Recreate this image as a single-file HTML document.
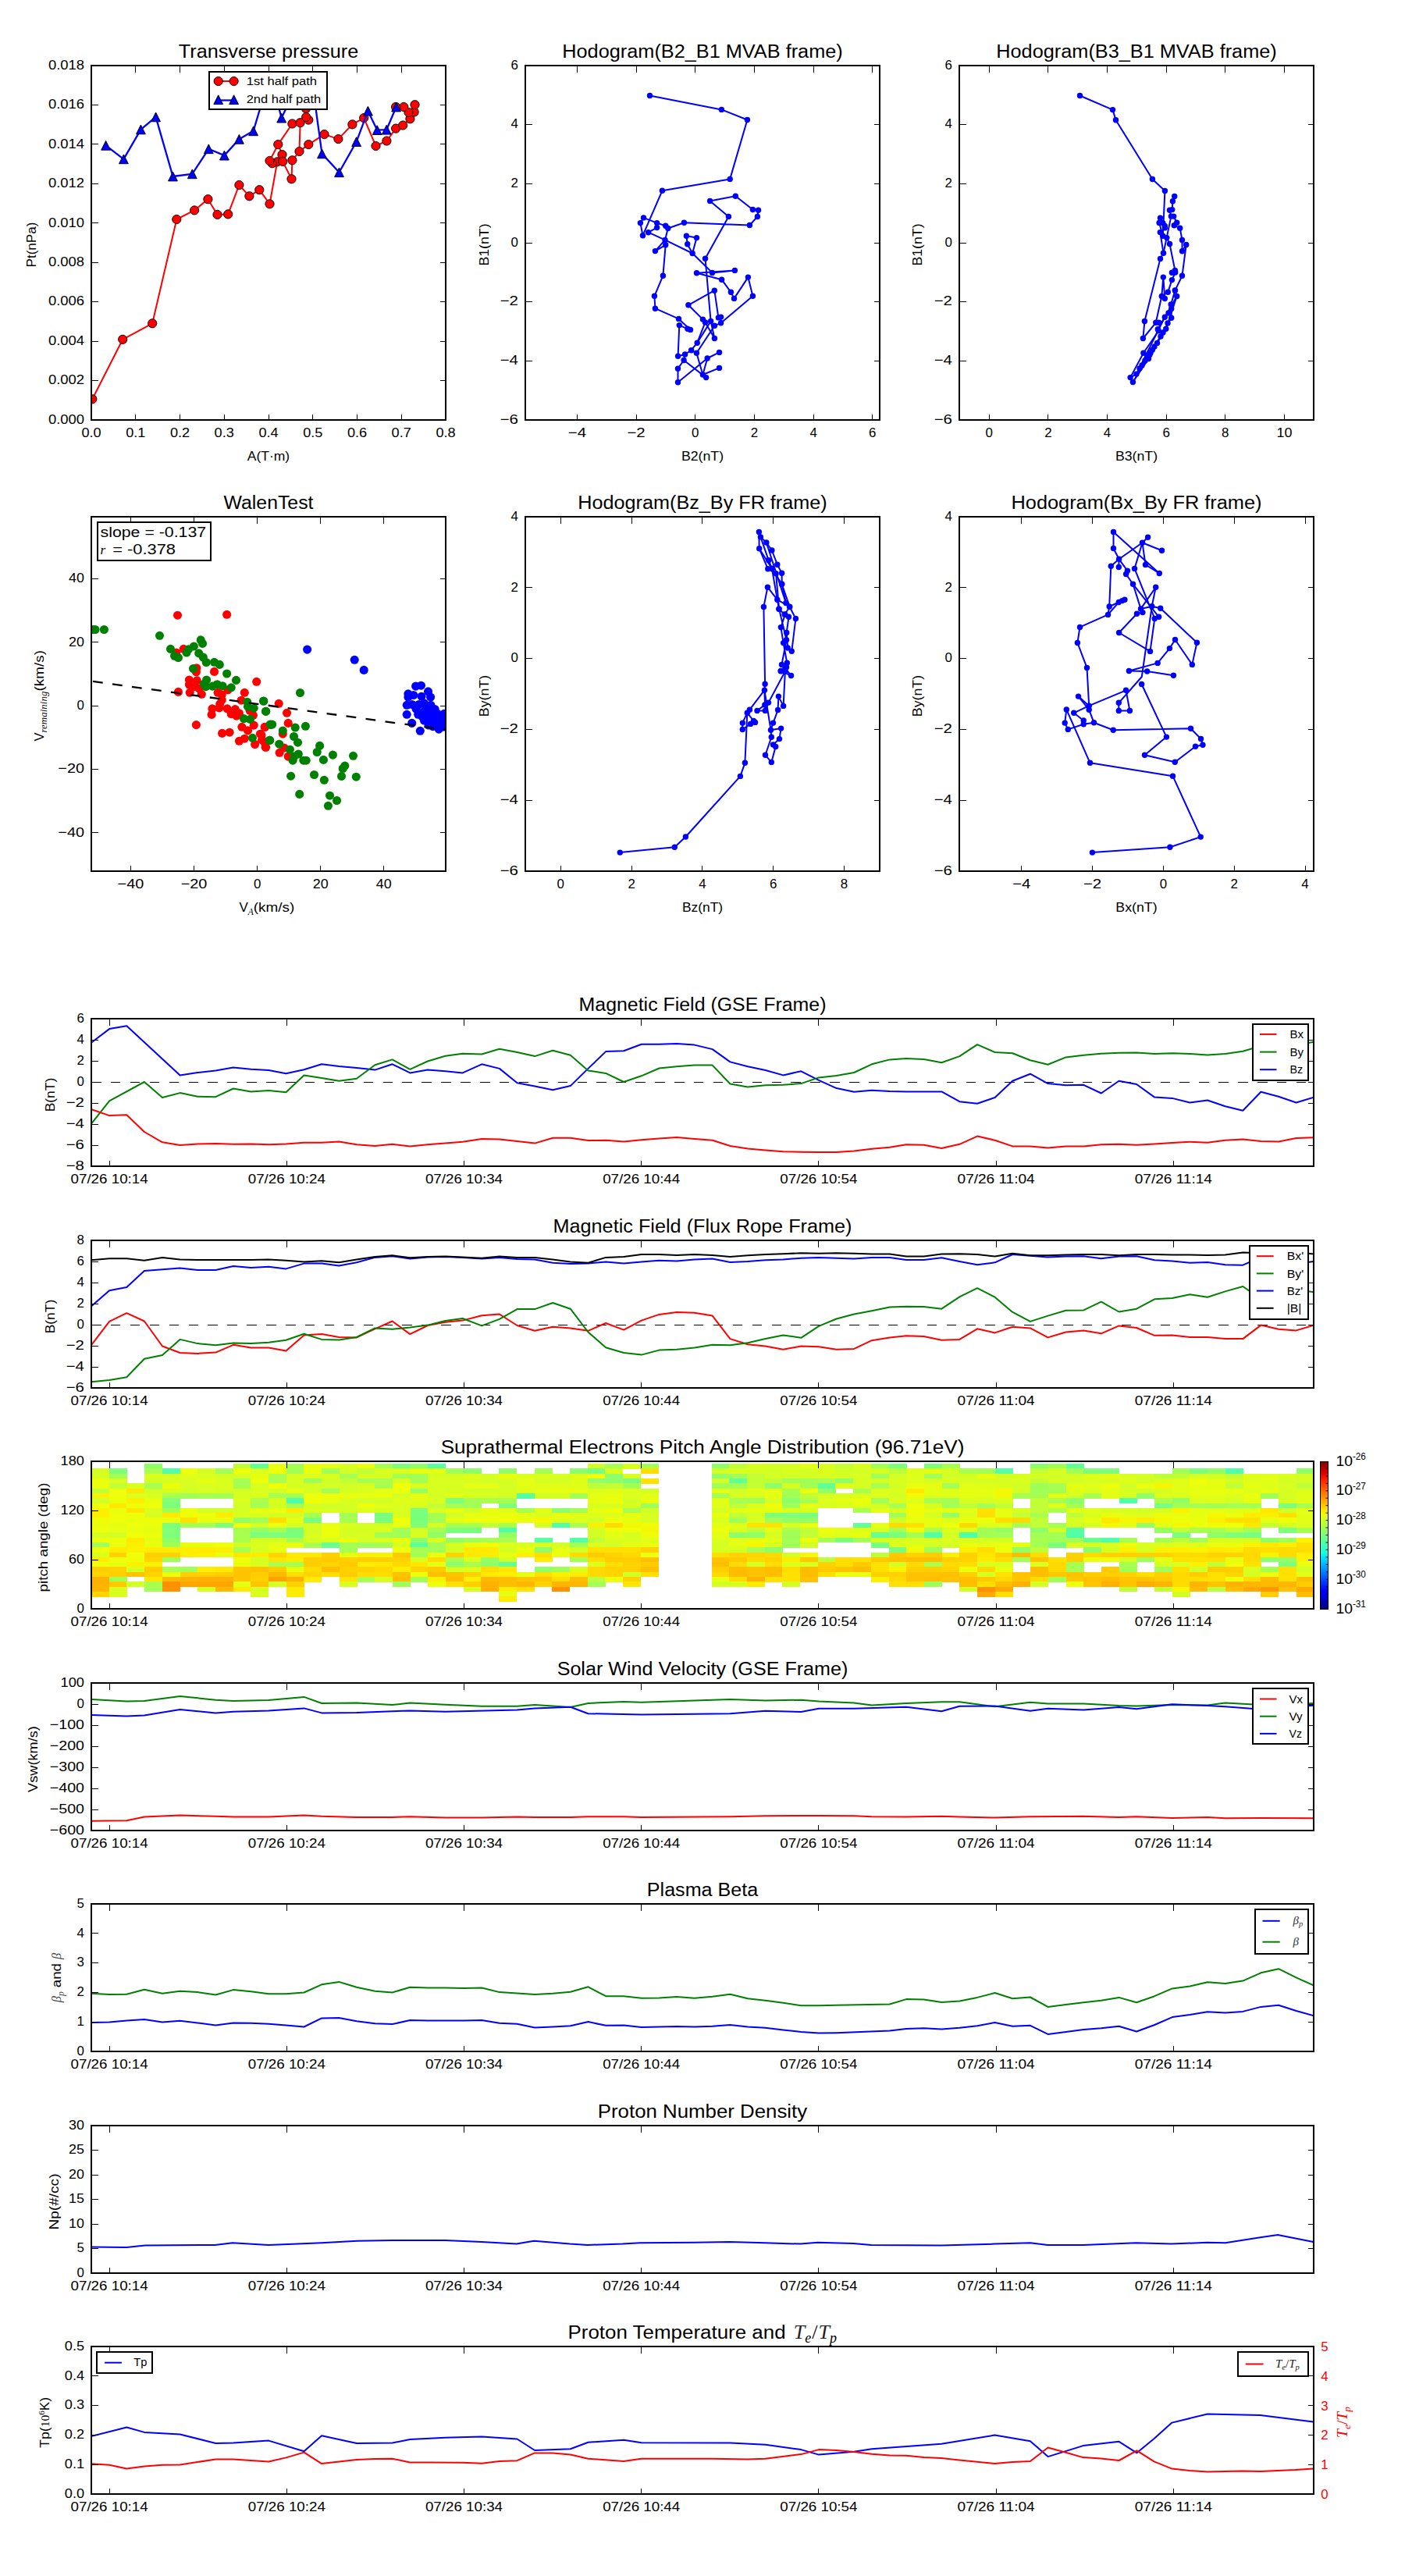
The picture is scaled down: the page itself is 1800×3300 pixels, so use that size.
<!DOCTYPE html>
<html><head><meta charset="utf-8"><title>Flux rope plots</title><style>html,body{margin:0;padding:0;background:#fff}body{width:1800px;height:3300px;overflow:hidden;font-family:"Liberation Sans",sans-serif}svg{display:block}</style></head><body>
<svg width="1800" height="3300" viewBox="0 0 1800 3300" font-family="Liberation Sans, sans-serif" font-size="16"><clipPath id="c1"><rect x="117.0" y="84.0" width="454.0" height="454.0"/></clipPath><g clip-path="url(#c1)">
<polyline points="118.3,511.3 157.2,434.8 195.2,414.3 226.3,281.0 249.1,269.4 266.4,255.2 278.5,274.9 292.2,274.4 306.4,237.0 319.4,251.3 332.3,243.2 345.5,261.3 355.2,207.3 348.7,209.2 345.5,206.0 356.3,185.1 361.5,198.1 362.2,206.9 373.5,229.3 374.4,205.3 383.5,194.0 395.3,185.1 415.5,172.1 433.4,178.1 451.4,159.4 466.2,151.1 481.5,187.0 495.4,180.5 507.1,164.6 516.2,160.5 525.4,152.3 530.6,143.5 531.5,134.2 523.5,144.0 517.3,137.0 507.1,137.0" fill="none" stroke="#ff0000" stroke-width="2.00" stroke-linejoin="round" />
<polyline points="356.3,185.1 374.4,158.5 384.6,157.2 383.5,194.0" fill="none" stroke="#ff0000" stroke-width="2.00" stroke-linejoin="round" />
<polyline points="384.6,157.2 395.3,153.6 392.2,150.0 392.0,139.0 392.0,120.0" fill="none" stroke="#ff0000" stroke-width="2.00" stroke-linejoin="round" />
<circle cx="118.3" cy="511.3" r="5.60" fill="#ff0000" stroke="#000" stroke-width="0.95"/>
<circle cx="157.2" cy="434.8" r="5.60" fill="#ff0000" stroke="#000" stroke-width="0.95"/>
<circle cx="195.2" cy="414.3" r="5.60" fill="#ff0000" stroke="#000" stroke-width="0.95"/>
<circle cx="226.3" cy="281.0" r="5.60" fill="#ff0000" stroke="#000" stroke-width="0.95"/>
<circle cx="249.1" cy="269.4" r="5.60" fill="#ff0000" stroke="#000" stroke-width="0.95"/>
<circle cx="266.4" cy="255.2" r="5.60" fill="#ff0000" stroke="#000" stroke-width="0.95"/>
<circle cx="278.5" cy="274.9" r="5.60" fill="#ff0000" stroke="#000" stroke-width="0.95"/>
<circle cx="292.2" cy="274.4" r="5.60" fill="#ff0000" stroke="#000" stroke-width="0.95"/>
<circle cx="306.4" cy="237.0" r="5.60" fill="#ff0000" stroke="#000" stroke-width="0.95"/>
<circle cx="319.4" cy="251.3" r="5.60" fill="#ff0000" stroke="#000" stroke-width="0.95"/>
<circle cx="332.3" cy="243.2" r="5.60" fill="#ff0000" stroke="#000" stroke-width="0.95"/>
<circle cx="345.5" cy="261.3" r="5.60" fill="#ff0000" stroke="#000" stroke-width="0.95"/>
<circle cx="355.2" cy="207.3" r="5.60" fill="#ff0000" stroke="#000" stroke-width="0.95"/>
<circle cx="348.7" cy="209.2" r="5.60" fill="#ff0000" stroke="#000" stroke-width="0.95"/>
<circle cx="345.5" cy="206.0" r="5.60" fill="#ff0000" stroke="#000" stroke-width="0.95"/>
<circle cx="356.3" cy="185.1" r="5.60" fill="#ff0000" stroke="#000" stroke-width="0.95"/>
<circle cx="361.5" cy="198.1" r="5.60" fill="#ff0000" stroke="#000" stroke-width="0.95"/>
<circle cx="362.2" cy="206.9" r="5.60" fill="#ff0000" stroke="#000" stroke-width="0.95"/>
<circle cx="373.5" cy="229.3" r="5.60" fill="#ff0000" stroke="#000" stroke-width="0.95"/>
<circle cx="374.4" cy="205.3" r="5.60" fill="#ff0000" stroke="#000" stroke-width="0.95"/>
<circle cx="383.5" cy="194.0" r="5.60" fill="#ff0000" stroke="#000" stroke-width="0.95"/>
<circle cx="395.3" cy="185.1" r="5.60" fill="#ff0000" stroke="#000" stroke-width="0.95"/>
<circle cx="415.5" cy="172.1" r="5.60" fill="#ff0000" stroke="#000" stroke-width="0.95"/>
<circle cx="433.4" cy="178.1" r="5.60" fill="#ff0000" stroke="#000" stroke-width="0.95"/>
<circle cx="451.4" cy="159.4" r="5.60" fill="#ff0000" stroke="#000" stroke-width="0.95"/>
<circle cx="466.2" cy="151.1" r="5.60" fill="#ff0000" stroke="#000" stroke-width="0.95"/>
<circle cx="481.5" cy="187.0" r="5.60" fill="#ff0000" stroke="#000" stroke-width="0.95"/>
<circle cx="495.4" cy="180.5" r="5.60" fill="#ff0000" stroke="#000" stroke-width="0.95"/>
<circle cx="507.1" cy="164.6" r="5.60" fill="#ff0000" stroke="#000" stroke-width="0.95"/>
<circle cx="516.2" cy="160.5" r="5.60" fill="#ff0000" stroke="#000" stroke-width="0.95"/>
<circle cx="525.4" cy="152.3" r="5.60" fill="#ff0000" stroke="#000" stroke-width="0.95"/>
<circle cx="530.6" cy="143.5" r="5.60" fill="#ff0000" stroke="#000" stroke-width="0.95"/>
<circle cx="531.5" cy="134.2" r="5.60" fill="#ff0000" stroke="#000" stroke-width="0.95"/>
<circle cx="523.5" cy="144.0" r="5.60" fill="#ff0000" stroke="#000" stroke-width="0.95"/>
<circle cx="517.3" cy="137.0" r="5.60" fill="#ff0000" stroke="#000" stroke-width="0.95"/>
<circle cx="507.1" cy="137.0" r="5.60" fill="#ff0000" stroke="#000" stroke-width="0.95"/>
<circle cx="374.4" cy="158.5" r="5.60" fill="#ff0000" stroke="#000" stroke-width="0.95"/>
<circle cx="384.6" cy="157.2" r="5.60" fill="#ff0000" stroke="#000" stroke-width="0.95"/>
<circle cx="395.3" cy="153.6" r="5.60" fill="#ff0000" stroke="#000" stroke-width="0.95"/>
<circle cx="392.2" cy="150.0" r="5.60" fill="#ff0000" stroke="#000" stroke-width="0.95"/>
<circle cx="392.0" cy="139.0" r="5.60" fill="#ff0000" stroke="#000" stroke-width="0.95"/>
<polyline points="135.6,186.3 158.4,203.8 180.4,165.9 199.6,149.9 221.5,226.0 246.3,222.8 267.3,190.8 287.4,199.1 306.4,178.3 324.6,167.8 333.5,138.0 345.0,120.0 352.0,118.0 360.7,151.1 370.0,132.0 390.0,110.0 403.0,128.0 412.5,196.9 434.5,220.8 456.6,181.6 471.4,142.2 483.2,166.6 495.2,166.2 507.6,137.0" fill="none" stroke="#0000ff" stroke-width="2.30" stroke-linejoin="round" />
<path d="M135.6 180.4L141.5 192.2L129.7 192.2Z" fill="#0000ff" stroke="#000" stroke-width="0.95"/>
<path d="M158.4 197.9L164.3 209.7L152.5 209.7Z" fill="#0000ff" stroke="#000" stroke-width="0.95"/>
<path d="M180.4 160.0L186.3 171.8L174.5 171.8Z" fill="#0000ff" stroke="#000" stroke-width="0.95"/>
<path d="M199.6 144.0L205.5 155.8L193.7 155.8Z" fill="#0000ff" stroke="#000" stroke-width="0.95"/>
<path d="M221.5 220.1L227.4 231.9L215.6 231.9Z" fill="#0000ff" stroke="#000" stroke-width="0.95"/>
<path d="M246.3 216.9L252.2 228.7L240.4 228.7Z" fill="#0000ff" stroke="#000" stroke-width="0.95"/>
<path d="M267.3 184.9L273.2 196.7L261.4 196.7Z" fill="#0000ff" stroke="#000" stroke-width="0.95"/>
<path d="M287.4 193.2L293.3 205.0L281.5 205.0Z" fill="#0000ff" stroke="#000" stroke-width="0.95"/>
<path d="M306.4 172.4L312.3 184.2L300.5 184.2Z" fill="#0000ff" stroke="#000" stroke-width="0.95"/>
<path d="M324.6 161.9L330.5 173.7L318.7 173.7Z" fill="#0000ff" stroke="#000" stroke-width="0.95"/>
<path d="M360.7 145.2L366.6 157.0L354.8 157.0Z" fill="#0000ff" stroke="#000" stroke-width="0.95"/>
<path d="M412.5 191.0L418.4 202.8L406.6 202.8Z" fill="#0000ff" stroke="#000" stroke-width="0.95"/>
<path d="M434.5 214.9L440.4 226.7L428.6 226.7Z" fill="#0000ff" stroke="#000" stroke-width="0.95"/>
<path d="M456.6 175.7L462.5 187.5L450.7 187.5Z" fill="#0000ff" stroke="#000" stroke-width="0.95"/>
<path d="M471.4 136.3L477.3 148.1L465.5 148.1Z" fill="#0000ff" stroke="#000" stroke-width="0.95"/>
<path d="M483.2 160.7L489.1 172.5L477.3 172.5Z" fill="#0000ff" stroke="#000" stroke-width="0.95"/>
<path d="M495.2 160.3L501.1 172.1L489.3 172.1Z" fill="#0000ff" stroke="#000" stroke-width="0.95"/>
<path d="M507.6 131.1L513.5 142.9L501.7 142.9Z" fill="#0000ff" stroke="#000" stroke-width="0.95"/>
</g>
<path d="M173.5 538.0v-7.4M173.5 84.0v8.5M230.5 538.0v-7.4M230.5 84.0v8.5M287.5 538.0v-7.4M287.5 84.0v8.5M344.5 538.0v-7.4M344.5 84.0v8.5M400.5 538.0v-7.4M400.5 84.0v8.5M457.5 538.0v-7.4M457.5 84.0v8.5M514.5 538.0v-7.4M514.5 84.0v8.5M117.0 487.5h8.5M117.0 437.5h8.5M117.0 386.5h8.5M117.0 336.5h8.5M117.0 285.5h8.5M117.0 235.5h8.5M117.0 184.5h8.5M117.0 134.5h8.5M571.0 487.5h-7.4M571.0 437.5h-7.4M571.0 386.5h-7.4M571.0 336.5h-7.4M571.0 285.5h-7.4M571.0 235.5h-7.4M571.0 184.5h-7.4M571.0 134.5h-7.4" stroke="#000" stroke-width="1" fill="none" shape-rendering="crispEdges"/>
<rect x="117.0" y="84.0" width="454.0" height="454.0" fill="none" stroke="#000" stroke-width="2.00"/>
<text x="117.0" y="560.3" font-size="16.86" text-anchor="middle" fill="#000" textLength="25.2" lengthAdjust="spacingAndGlyphs" >0.0</text>
<text x="173.8" y="560.3" font-size="16.86" text-anchor="middle" fill="#000" textLength="25.2" lengthAdjust="spacingAndGlyphs" >0.1</text>
<text x="230.5" y="560.3" font-size="16.86" text-anchor="middle" fill="#000" textLength="25.2" lengthAdjust="spacingAndGlyphs" >0.2</text>
<text x="287.2" y="560.3" font-size="16.86" text-anchor="middle" fill="#000" textLength="25.2" lengthAdjust="spacingAndGlyphs" >0.3</text>
<text x="344.0" y="560.3" font-size="16.86" text-anchor="middle" fill="#000" textLength="25.2" lengthAdjust="spacingAndGlyphs" >0.4</text>
<text x="400.8" y="560.3" font-size="16.86" text-anchor="middle" fill="#000" textLength="25.2" lengthAdjust="spacingAndGlyphs" >0.5</text>
<text x="457.5" y="560.3" font-size="16.86" text-anchor="middle" fill="#000" textLength="25.2" lengthAdjust="spacingAndGlyphs" >0.6</text>
<text x="514.2" y="560.3" font-size="16.86" text-anchor="middle" fill="#000" textLength="25.2" lengthAdjust="spacingAndGlyphs" >0.7</text>
<text x="571.0" y="560.3" font-size="16.86" text-anchor="middle" fill="#000" textLength="25.2" lengthAdjust="spacingAndGlyphs" >0.8</text>
<text x="108.0" y="542.7" font-size="16.86" text-anchor="end" fill="#000" textLength="46.1" lengthAdjust="spacingAndGlyphs" >0.000</text>
<text x="108.0" y="492.3" font-size="16.86" text-anchor="end" fill="#000" textLength="46.1" lengthAdjust="spacingAndGlyphs" >0.002</text>
<text x="108.0" y="441.8" font-size="16.86" text-anchor="end" fill="#000" textLength="46.1" lengthAdjust="spacingAndGlyphs" >0.004</text>
<text x="108.0" y="391.4" font-size="16.86" text-anchor="end" fill="#000" textLength="46.1" lengthAdjust="spacingAndGlyphs" >0.006</text>
<text x="108.0" y="340.9" font-size="16.86" text-anchor="end" fill="#000" textLength="46.1" lengthAdjust="spacingAndGlyphs" >0.008</text>
<text x="108.0" y="290.5" font-size="16.86" text-anchor="end" fill="#000" textLength="46.1" lengthAdjust="spacingAndGlyphs" >0.010</text>
<text x="108.0" y="240.0" font-size="16.86" text-anchor="end" fill="#000" textLength="46.1" lengthAdjust="spacingAndGlyphs" >0.012</text>
<text x="108.0" y="189.6" font-size="16.86" text-anchor="end" fill="#000" textLength="46.1" lengthAdjust="spacingAndGlyphs" >0.014</text>
<text x="108.0" y="139.1" font-size="16.86" text-anchor="end" fill="#000" textLength="46.1" lengthAdjust="spacingAndGlyphs" >0.016</text>
<text x="108.0" y="88.7" font-size="16.86" text-anchor="end" fill="#000" textLength="46.1" lengthAdjust="spacingAndGlyphs" >0.018</text>
<text x="344.0" y="73.7" font-size="23.68" text-anchor="middle" fill="#000" textLength="230.4" lengthAdjust="spacingAndGlyphs" >Transverse pressure</text>
<text x="344.0" y="590.3" font-size="16.86" text-anchor="middle" fill="#000" textLength="54.4" lengthAdjust="spacingAndGlyphs" >A(T·m)</text>
<text x="46.3" y="313.5" font-size="16.86" text-anchor="middle" fill="#000" textLength="57.9" lengthAdjust="spacingAndGlyphs" transform="rotate(-90 46.3 313.5)" >Pt(nPa)</text>
<rect x="268.0" y="92.0" width="151.0" height="48.0" fill="#fff" stroke="#000" stroke-width="2.00"/>
<polyline points="279.7,104.0 299.6,104.0" fill="none" stroke="#ff0000" stroke-width="2.00" stroke-linejoin="round" />
<circle cx="279.7" cy="104.0" r="5.60" fill="#ff0000" stroke="#000" stroke-width="0.95"/>
<circle cx="299.6" cy="104.0" r="5.60" fill="#ff0000" stroke="#000" stroke-width="0.95"/>
<polyline points="279.7,128.5 299.6,128.5" fill="none" stroke="#0000ff" stroke-width="2.30" stroke-linejoin="round" />
<path d="M279.7 121.8L285.6 133.6L273.8 133.6Z" fill="#0000ff" stroke="#000" stroke-width="0.95"/>
<path d="M299.6 121.8L305.5 133.6L293.7 133.6Z" fill="#0000ff" stroke="#000" stroke-width="0.95"/>
<text x="315.7" y="109.0" font-size="14.76" text-anchor="start" fill="#000" textLength="90.4" lengthAdjust="spacingAndGlyphs" >1st half path</text>
<text x="315.7" y="131.7" font-size="14.76" text-anchor="start" fill="#000" textLength="95.5" lengthAdjust="spacingAndGlyphs" >2nd half path</text>
<clipPath id="c2"><rect x="673.0" y="84.0" width="454.0" height="454.0"/></clipPath><g clip-path="url(#c2)">
<polyline points="832.5,122.5 924.4,140.4 957.4,153.5 935.2,229.4 848.4,244.3 823.5,301.7 820.4,285.6 824.5,278.9 841.6,285.6 852.7,289.2 855.8,292.5 876.4,285.3 960.4,288.5 970.4,277.5 971.5,269.3 964.4,268.5 942.3,251.2 909.6,257.4 933.4,277.4 903.5,331.2 910.6,411.4" fill="none" stroke="#0000ff" stroke-width="2.00" stroke-linejoin="round" />
<polyline points="841.6,285.6 841.6,291.6 830.6,297.7 852.0,307.4 887.1,324.5 912.5,349.4 941.4,346.4 892.5,349.7 924.6,358.2 936.4,374.3 940.5,382.4 958.4,355.1 964.4,379.3 923.6,413.7 923.6,406.1 920.4,406.9 915.3,372.2 881.9,390.8 900.4,409.1 903.5,412.9 915.4,433.5 910.6,411.4" fill="none" stroke="#0000ff" stroke-width="2.00" stroke-linejoin="round" />
<polyline points="855.8,292.5 852.0,307.4 839.4,321.6 852.7,313.8 849.4,353.2 838.4,379.3 839.4,395.2 869.5,408.4 884.5,422.4 880.9,421.3 870.3,416.6 868.6,456.3 877.6,454.0 885.6,448.7 893.2,439.2 903.5,412.9" fill="none" stroke="#0000ff" stroke-width="2.00" stroke-linejoin="round" />
<polyline points="892.5,304.6 879.4,302.3 880.7,312.7 887.1,324.5 892.5,304.6" fill="none" stroke="#0000ff" stroke-width="2.00" stroke-linejoin="round" />
<polyline points="893.2,439.2 910.6,411.4" fill="none" stroke="#0000ff" stroke-width="2.00" stroke-linejoin="round" />
<polyline points="892.4,452.3 915.4,417.3 923.6,413.7" fill="none" stroke="#0000ff" stroke-width="2.00" stroke-linejoin="round" />
<polyline points="885.6,448.7 892.4,452.3 900.4,480.0 921.5,471.4" fill="none" stroke="#0000ff" stroke-width="2.00" stroke-linejoin="round" />
<polyline points="900.4,480.0 906.2,459.0 921.5,451.4" fill="none" stroke="#0000ff" stroke-width="2.00" stroke-linejoin="round" />
<polyline points="906.2,459.0 868.5,489.7 868.5,472.2 876.1,461.5 904.6,483.6 900.4,480.0" fill="none" stroke="#0000ff" stroke-width="2.00" stroke-linejoin="round" />
<polyline points="876.1,461.5 877.6,454.0" fill="none" stroke="#0000ff" stroke-width="2.00" stroke-linejoin="round" />
<circle cx="820.4" cy="285.6" r="3.70" fill="#0000ff"/>
<circle cx="823.5" cy="301.7" r="3.70" fill="#0000ff"/>
<circle cx="824.5" cy="278.9" r="3.70" fill="#0000ff"/>
<circle cx="830.6" cy="297.7" r="3.70" fill="#0000ff"/>
<circle cx="832.5" cy="122.5" r="3.70" fill="#0000ff"/>
<circle cx="838.4" cy="379.3" r="3.70" fill="#0000ff"/>
<circle cx="839.4" cy="321.6" r="3.70" fill="#0000ff"/>
<circle cx="839.4" cy="395.2" r="3.70" fill="#0000ff"/>
<circle cx="841.6" cy="285.6" r="3.70" fill="#0000ff"/>
<circle cx="841.6" cy="291.6" r="3.70" fill="#0000ff"/>
<circle cx="848.4" cy="244.3" r="3.70" fill="#0000ff"/>
<circle cx="849.4" cy="353.2" r="3.70" fill="#0000ff"/>
<circle cx="852.0" cy="307.4" r="3.70" fill="#0000ff"/>
<circle cx="852.7" cy="289.2" r="3.70" fill="#0000ff"/>
<circle cx="852.7" cy="313.8" r="3.70" fill="#0000ff"/>
<circle cx="855.8" cy="292.5" r="3.70" fill="#0000ff"/>
<circle cx="868.5" cy="472.2" r="3.70" fill="#0000ff"/>
<circle cx="868.5" cy="489.7" r="3.70" fill="#0000ff"/>
<circle cx="868.6" cy="456.3" r="3.70" fill="#0000ff"/>
<circle cx="869.5" cy="408.4" r="3.70" fill="#0000ff"/>
<circle cx="870.3" cy="416.6" r="3.70" fill="#0000ff"/>
<circle cx="876.1" cy="461.5" r="3.70" fill="#0000ff"/>
<circle cx="876.4" cy="285.3" r="3.70" fill="#0000ff"/>
<circle cx="877.6" cy="454.0" r="3.70" fill="#0000ff"/>
<circle cx="879.4" cy="302.3" r="3.70" fill="#0000ff"/>
<circle cx="880.7" cy="312.7" r="3.70" fill="#0000ff"/>
<circle cx="880.9" cy="421.3" r="3.70" fill="#0000ff"/>
<circle cx="881.9" cy="390.8" r="3.70" fill="#0000ff"/>
<circle cx="884.5" cy="422.4" r="3.70" fill="#0000ff"/>
<circle cx="885.6" cy="448.7" r="3.70" fill="#0000ff"/>
<circle cx="887.1" cy="324.5" r="3.70" fill="#0000ff"/>
<circle cx="892.4" cy="452.3" r="3.70" fill="#0000ff"/>
<circle cx="892.5" cy="304.6" r="3.70" fill="#0000ff"/>
<circle cx="892.5" cy="349.7" r="3.70" fill="#0000ff"/>
<circle cx="893.2" cy="439.2" r="3.70" fill="#0000ff"/>
<circle cx="900.4" cy="409.1" r="3.70" fill="#0000ff"/>
<circle cx="900.4" cy="480.0" r="3.70" fill="#0000ff"/>
<circle cx="903.5" cy="331.2" r="3.70" fill="#0000ff"/>
<circle cx="903.5" cy="412.9" r="3.70" fill="#0000ff"/>
<circle cx="904.6" cy="483.6" r="3.70" fill="#0000ff"/>
<circle cx="906.2" cy="459.0" r="3.70" fill="#0000ff"/>
<circle cx="909.6" cy="257.4" r="3.70" fill="#0000ff"/>
<circle cx="910.6" cy="411.4" r="3.70" fill="#0000ff"/>
<circle cx="912.5" cy="349.4" r="3.70" fill="#0000ff"/>
<circle cx="915.3" cy="372.2" r="3.70" fill="#0000ff"/>
<circle cx="915.4" cy="417.3" r="3.70" fill="#0000ff"/>
<circle cx="915.4" cy="433.5" r="3.70" fill="#0000ff"/>
<circle cx="920.4" cy="406.9" r="3.70" fill="#0000ff"/>
<circle cx="921.5" cy="451.4" r="3.70" fill="#0000ff"/>
<circle cx="921.5" cy="471.4" r="3.70" fill="#0000ff"/>
<circle cx="923.6" cy="406.1" r="3.70" fill="#0000ff"/>
<circle cx="923.6" cy="413.7" r="3.70" fill="#0000ff"/>
<circle cx="924.4" cy="140.4" r="3.70" fill="#0000ff"/>
<circle cx="924.6" cy="358.2" r="3.70" fill="#0000ff"/>
<circle cx="933.4" cy="277.4" r="3.70" fill="#0000ff"/>
<circle cx="935.2" cy="229.4" r="3.70" fill="#0000ff"/>
<circle cx="936.4" cy="374.3" r="3.70" fill="#0000ff"/>
<circle cx="940.5" cy="382.4" r="3.70" fill="#0000ff"/>
<circle cx="941.4" cy="346.4" r="3.70" fill="#0000ff"/>
<circle cx="942.3" cy="251.2" r="3.70" fill="#0000ff"/>
<circle cx="957.4" cy="153.5" r="3.70" fill="#0000ff"/>
<circle cx="958.4" cy="355.1" r="3.70" fill="#0000ff"/>
<circle cx="960.4" cy="288.5" r="3.70" fill="#0000ff"/>
<circle cx="964.4" cy="268.5" r="3.70" fill="#0000ff"/>
<circle cx="964.4" cy="379.3" r="3.70" fill="#0000ff"/>
<circle cx="970.4" cy="277.5" r="3.70" fill="#0000ff"/>
<circle cx="971.5" cy="269.3" r="3.70" fill="#0000ff"/>
</g>
<path d="M739.5 538.0v-7.4M739.5 84.0v8.5M815.5 538.0v-7.4M815.5 84.0v8.5M890.5 538.0v-7.4M890.5 84.0v8.5M966.5 538.0v-7.4M966.5 84.0v8.5M1042.5 538.0v-7.4M1042.5 84.0v8.5M1117.5 538.0v-7.4M1117.5 84.0v8.5M673.0 462.5h8.5M673.0 386.5h8.5M673.0 311.5h8.5M673.0 235.5h8.5M673.0 159.5h8.5M1127.0 462.5h-7.4M1127.0 386.5h-7.4M1127.0 311.5h-7.4M1127.0 235.5h-7.4M1127.0 159.5h-7.4" stroke="#000" stroke-width="1" fill="none" shape-rendering="crispEdges"/>
<rect x="673.0" y="84.0" width="454.0" height="454.0" fill="none" stroke="#000" stroke-width="2.00"/>
<text x="739.5" y="560.3" font-size="16.86" text-anchor="middle" fill="#000" textLength="23.3" lengthAdjust="spacingAndGlyphs" >−4</text>
<text x="815.1" y="560.3" font-size="16.86" text-anchor="middle" fill="#000" textLength="23.3" lengthAdjust="spacingAndGlyphs" >−2</text>
<text x="890.8" y="560.3" font-size="16.86" text-anchor="middle" fill="#000" >0</text>
<text x="966.5" y="560.3" font-size="16.86" text-anchor="middle" fill="#000" >2</text>
<text x="1042.1" y="560.3" font-size="16.86" text-anchor="middle" fill="#000" >4</text>
<text x="1117.8" y="560.3" font-size="16.86" text-anchor="middle" fill="#000" >6</text>
<text x="664.0" y="542.7" font-size="16.86" text-anchor="end" fill="#000" textLength="23.3" lengthAdjust="spacingAndGlyphs" >−6</text>
<text x="664.0" y="467.0" font-size="16.86" text-anchor="end" fill="#000" textLength="23.3" lengthAdjust="spacingAndGlyphs" >−4</text>
<text x="664.0" y="391.4" font-size="16.86" text-anchor="end" fill="#000" textLength="23.3" lengthAdjust="spacingAndGlyphs" >−2</text>
<text x="664.0" y="315.7" font-size="16.86" text-anchor="end" fill="#000" >0</text>
<text x="664.0" y="240.0" font-size="16.86" text-anchor="end" fill="#000" >2</text>
<text x="664.0" y="164.4" font-size="16.86" text-anchor="end" fill="#000" >4</text>
<text x="664.0" y="88.7" font-size="16.86" text-anchor="end" fill="#000" >6</text>
<text x="900.0" y="73.7" font-size="23.68" text-anchor="middle" fill="#000" textLength="359.5" lengthAdjust="spacingAndGlyphs" >Hodogram(B2_B1 MVAB frame)</text>
<text x="900.0" y="590.3" font-size="16.86" text-anchor="middle" fill="#000" textLength="54.1" lengthAdjust="spacingAndGlyphs" >B2(nT)</text>
<text x="625.6" y="313.5" font-size="16.86" text-anchor="middle" fill="#000" textLength="54.1" lengthAdjust="spacingAndGlyphs" transform="rotate(-90 625.6 313.5)" >B1(nT)</text>
<clipPath id="c3"><rect x="1229.0" y="84.0" width="454.0" height="454.0"/></clipPath><g clip-path="url(#c3)">
<polyline points="1383.5,122.5 1425.5,140.6 1429.5,153.7 1476.4,229.5 1492.4,244.5 1489.8,302.3 1485.1,285.4 1486.5,279.2 1489.8,285.6 1492.3,289.4 1492.3,291.9 1486.3,297.6 1494.8,304.6 1498.5,312.5 1505.4,346.5 1501.4,349.3 1505.7,349.1 1501.4,358.6 1496.3,374.3 1488.3,379.5 1480.8,413.3 1464.4,433.5 1466.4,411.5 1486.5,331.4 1490.5,324.2 1500.4,277.1" fill="none" stroke="#0000ff" stroke-width="2.00" stroke-linejoin="round" />
<polyline points="1504.7,251.5 1502.4,257.7 1501.7,268.6 1498.5,269.2 1500.4,277.1 1503.7,277.1 1507.7,285.2 1504.2,288.7 1511.7,292.3 1514.5,307.5 1514.5,321.7 1519.7,313.5 1514.5,353.3 1505.4,372.1 1507.7,379.5 1493.8,421.3 1482.5,439.4 1476.3,448.2 1472.8,454.7 1455.9,479.1 1448.1,483.6 1451.4,489.5" fill="none" stroke="#0000ff" stroke-width="2.00" stroke-linejoin="round" />
<polyline points="1486.3,297.6 1490.5,324.2" fill="none" stroke="#0000ff" stroke-width="2.00" stroke-linejoin="round" />
<polyline points="1490.3,355.1 1488.3,379.5 1492.3,382.5 1490.3,355.1" fill="none" stroke="#0000ff" stroke-width="2.00" stroke-linejoin="round" />
<polyline points="1484.6,413.3 1480.8,413.3" fill="none" stroke="#0000ff" stroke-width="2.00" stroke-linejoin="round" />
<polyline points="1464.9,452.2 1484.3,423.8 1483.3,421.8 1492.3,406.3 1500.7,395.4 1500.2,389.9 1505.4,372.0" fill="none" stroke="#0000ff" stroke-width="2.00" stroke-linejoin="round" />
<polyline points="1448.1,483.6 1464.9,452.2 1471.4,459.6 1451.4,489.5 1476.3,448.2 1500.7,407.3 1500.7,395.4" fill="none" stroke="#0000ff" stroke-width="2.00" stroke-linejoin="round" />
<polyline points="1455.9,479.1 1492.3,406.3 1507.7,379.5" fill="none" stroke="#0000ff" stroke-width="2.00" stroke-linejoin="round" />
<circle cx="1383.5" cy="122.5" r="3.70" fill="#0000ff"/>
<circle cx="1425.5" cy="140.6" r="3.70" fill="#0000ff"/>
<circle cx="1429.5" cy="153.7" r="3.70" fill="#0000ff"/>
<circle cx="1448.1" cy="483.6" r="3.70" fill="#0000ff"/>
<circle cx="1451.4" cy="489.5" r="3.70" fill="#0000ff"/>
<circle cx="1455.9" cy="479.1" r="3.70" fill="#0000ff"/>
<circle cx="1460.0" cy="472.0" r="3.70" fill="#0000ff"/>
<circle cx="1463.0" cy="468.0" r="3.70" fill="#0000ff"/>
<circle cx="1464.4" cy="433.5" r="3.70" fill="#0000ff"/>
<circle cx="1464.9" cy="452.2" r="3.70" fill="#0000ff"/>
<circle cx="1466.4" cy="411.5" r="3.70" fill="#0000ff"/>
<circle cx="1467.0" cy="462.0" r="3.70" fill="#0000ff"/>
<circle cx="1470.0" cy="457.0" r="3.70" fill="#0000ff"/>
<circle cx="1471.4" cy="459.6" r="3.70" fill="#0000ff"/>
<circle cx="1472.8" cy="454.7" r="3.70" fill="#0000ff"/>
<circle cx="1474.0" cy="452.0" r="3.70" fill="#0000ff"/>
<circle cx="1476.3" cy="448.2" r="3.70" fill="#0000ff"/>
<circle cx="1476.4" cy="229.5" r="3.70" fill="#0000ff"/>
<circle cx="1479.0" cy="444.0" r="3.70" fill="#0000ff"/>
<circle cx="1480.8" cy="413.3" r="3.70" fill="#0000ff"/>
<circle cx="1482.5" cy="439.4" r="3.70" fill="#0000ff"/>
<circle cx="1483.3" cy="421.8" r="3.70" fill="#0000ff"/>
<circle cx="1484.3" cy="423.8" r="3.70" fill="#0000ff"/>
<circle cx="1484.6" cy="413.3" r="3.70" fill="#0000ff"/>
<circle cx="1485.1" cy="285.4" r="3.70" fill="#0000ff"/>
<circle cx="1486.3" cy="297.6" r="3.70" fill="#0000ff"/>
<circle cx="1486.5" cy="279.2" r="3.70" fill="#0000ff"/>
<circle cx="1486.5" cy="331.4" r="3.70" fill="#0000ff"/>
<circle cx="1487.0" cy="431.0" r="3.70" fill="#0000ff"/>
<circle cx="1488.3" cy="379.5" r="3.70" fill="#0000ff"/>
<circle cx="1489.8" cy="285.6" r="3.70" fill="#0000ff"/>
<circle cx="1489.8" cy="302.3" r="3.70" fill="#0000ff"/>
<circle cx="1490.0" cy="426.0" r="3.70" fill="#0000ff"/>
<circle cx="1490.3" cy="355.1" r="3.70" fill="#0000ff"/>
<circle cx="1490.5" cy="324.2" r="3.70" fill="#0000ff"/>
<circle cx="1492.3" cy="289.4" r="3.70" fill="#0000ff"/>
<circle cx="1492.3" cy="291.9" r="3.70" fill="#0000ff"/>
<circle cx="1492.3" cy="382.5" r="3.70" fill="#0000ff"/>
<circle cx="1492.3" cy="406.3" r="3.70" fill="#0000ff"/>
<circle cx="1492.4" cy="244.5" r="3.70" fill="#0000ff"/>
<circle cx="1493.8" cy="421.3" r="3.70" fill="#0000ff"/>
<circle cx="1494.8" cy="304.6" r="3.70" fill="#0000ff"/>
<circle cx="1496.0" cy="414.0" r="3.70" fill="#0000ff"/>
<circle cx="1496.3" cy="374.3" r="3.70" fill="#0000ff"/>
<circle cx="1497.0" cy="401.0" r="3.70" fill="#0000ff"/>
<circle cx="1498.5" cy="269.2" r="3.70" fill="#0000ff"/>
<circle cx="1498.5" cy="312.5" r="3.70" fill="#0000ff"/>
<circle cx="1500.2" cy="389.9" r="3.70" fill="#0000ff"/>
<circle cx="1500.4" cy="277.1" r="3.70" fill="#0000ff"/>
<circle cx="1500.7" cy="395.4" r="3.70" fill="#0000ff"/>
<circle cx="1500.7" cy="407.3" r="3.70" fill="#0000ff"/>
<circle cx="1501.4" cy="349.3" r="3.70" fill="#0000ff"/>
<circle cx="1501.4" cy="358.6" r="3.70" fill="#0000ff"/>
<circle cx="1501.7" cy="268.6" r="3.70" fill="#0000ff"/>
<circle cx="1502.4" cy="257.7" r="3.70" fill="#0000ff"/>
<circle cx="1503.7" cy="277.1" r="3.70" fill="#0000ff"/>
<circle cx="1504.2" cy="288.7" r="3.70" fill="#0000ff"/>
<circle cx="1504.7" cy="251.5" r="3.70" fill="#0000ff"/>
<circle cx="1505.4" cy="346.5" r="3.70" fill="#0000ff"/>
<circle cx="1505.4" cy="372.0" r="3.70" fill="#0000ff"/>
<circle cx="1505.4" cy="372.1" r="3.70" fill="#0000ff"/>
<circle cx="1505.7" cy="349.1" r="3.70" fill="#0000ff"/>
<circle cx="1507.7" cy="285.2" r="3.70" fill="#0000ff"/>
<circle cx="1507.7" cy="379.5" r="3.70" fill="#0000ff"/>
<circle cx="1511.7" cy="292.3" r="3.70" fill="#0000ff"/>
<circle cx="1514.5" cy="307.5" r="3.70" fill="#0000ff"/>
<circle cx="1514.5" cy="321.7" r="3.70" fill="#0000ff"/>
<circle cx="1514.5" cy="353.3" r="3.70" fill="#0000ff"/>
<circle cx="1519.7" cy="313.5" r="3.70" fill="#0000ff"/>
</g>
<path d="M1267.5 538.0v-7.4M1267.5 84.0v8.5M1342.5 538.0v-7.4M1342.5 84.0v8.5M1418.5 538.0v-7.4M1418.5 84.0v8.5M1494.5 538.0v-7.4M1494.5 84.0v8.5M1569.5 538.0v-7.4M1569.5 84.0v8.5M1645.5 538.0v-7.4M1645.5 84.0v8.5M1229.0 462.5h8.5M1229.0 386.5h8.5M1229.0 311.5h8.5M1229.0 235.5h8.5M1229.0 159.5h8.5M1683.0 462.5h-7.4M1683.0 386.5h-7.4M1683.0 311.5h-7.4M1683.0 235.5h-7.4M1683.0 159.5h-7.4" stroke="#000" stroke-width="1" fill="none" shape-rendering="crispEdges"/>
<rect x="1229.0" y="84.0" width="454.0" height="454.0" fill="none" stroke="#000" stroke-width="2.00"/>
<text x="1267.2" y="560.3" font-size="16.86" text-anchor="middle" fill="#000" >0</text>
<text x="1342.9" y="560.3" font-size="16.86" text-anchor="middle" fill="#000" >2</text>
<text x="1418.5" y="560.3" font-size="16.86" text-anchor="middle" fill="#000" >4</text>
<text x="1494.2" y="560.3" font-size="16.86" text-anchor="middle" fill="#000" >6</text>
<text x="1569.8" y="560.3" font-size="16.86" text-anchor="middle" fill="#000" >8</text>
<text x="1645.5" y="560.3" font-size="16.86" text-anchor="middle" fill="#000" textLength="19.9" lengthAdjust="spacingAndGlyphs" >10</text>
<text x="1220.0" y="542.7" font-size="16.86" text-anchor="end" fill="#000" textLength="23.3" lengthAdjust="spacingAndGlyphs" >−6</text>
<text x="1220.0" y="467.0" font-size="16.86" text-anchor="end" fill="#000" textLength="23.3" lengthAdjust="spacingAndGlyphs" >−4</text>
<text x="1220.0" y="391.4" font-size="16.86" text-anchor="end" fill="#000" textLength="23.3" lengthAdjust="spacingAndGlyphs" >−2</text>
<text x="1220.0" y="315.7" font-size="16.86" text-anchor="end" fill="#000" >0</text>
<text x="1220.0" y="240.0" font-size="16.86" text-anchor="end" fill="#000" >2</text>
<text x="1220.0" y="164.4" font-size="16.86" text-anchor="end" fill="#000" >4</text>
<text x="1220.0" y="88.7" font-size="16.86" text-anchor="end" fill="#000" >6</text>
<text x="1456.0" y="73.7" font-size="23.68" text-anchor="middle" fill="#000" textLength="359.5" lengthAdjust="spacingAndGlyphs" >Hodogram(B3_B1 MVAB frame)</text>
<text x="1456.0" y="590.3" font-size="16.86" text-anchor="middle" fill="#000" textLength="54.1" lengthAdjust="spacingAndGlyphs" >B3(nT)</text>
<text x="1180.7" y="313.5" font-size="16.86" text-anchor="middle" fill="#000" textLength="54.1" lengthAdjust="spacingAndGlyphs" transform="rotate(-90 1180.7 313.5)" >B1(nT)</text>
<clipPath id="c4"><rect x="117.0" y="662.0" width="454.0" height="454.0"/></clipPath><g clip-path="url(#c4)">
<circle cx="227.5" cy="788.2" r="5.55" fill="#ff0000"/>
<circle cx="290.6" cy="787.3" r="5.55" fill="#ff0000"/>
<circle cx="235.2" cy="831.4" r="5.55" fill="#ff0000"/>
<circle cx="225.8" cy="836.0" r="5.55" fill="#ff0000"/>
<circle cx="251.8" cy="855.7" r="5.55" fill="#ff0000"/>
<circle cx="251.4" cy="860.8" r="5.55" fill="#ff0000"/>
<circle cx="274.5" cy="860.4" r="5.55" fill="#ff0000"/>
<circle cx="328.7" cy="873.3" r="5.55" fill="#ff0000"/>
<circle cx="242.4" cy="871.0" r="5.55" fill="#ff0000"/>
<circle cx="252.3" cy="871.9" r="5.55" fill="#ff0000"/>
<circle cx="242.4" cy="877.0" r="5.55" fill="#ff0000"/>
<circle cx="248.4" cy="879.6" r="5.55" fill="#ff0000"/>
<circle cx="255.2" cy="882.1" r="5.55" fill="#ff0000"/>
<circle cx="228.4" cy="886.4" r="5.55" fill="#ff0000"/>
<circle cx="243.2" cy="887.3" r="5.55" fill="#ff0000"/>
<circle cx="258.3" cy="889.3" r="5.55" fill="#ff0000"/>
<circle cx="279.1" cy="887.3" r="5.55" fill="#ff0000"/>
<circle cx="284.2" cy="889.8" r="5.55" fill="#ff0000"/>
<circle cx="291.9" cy="883.8" r="5.55" fill="#ff0000"/>
<circle cx="313.3" cy="887.3" r="5.55" fill="#ff0000"/>
<circle cx="284.2" cy="896.7" r="5.55" fill="#ff0000"/>
<circle cx="281.7" cy="901.8" r="5.55" fill="#ff0000"/>
<circle cx="309.0" cy="897.2" r="5.55" fill="#ff0000"/>
<circle cx="271.9" cy="907.8" r="5.55" fill="#ff0000"/>
<circle cx="280.8" cy="906.9" r="5.55" fill="#ff0000"/>
<circle cx="271.1" cy="915.4" r="5.55" fill="#ff0000"/>
<circle cx="291.1" cy="907.8" r="5.55" fill="#ff0000"/>
<circle cx="296.2" cy="914.6" r="5.55" fill="#ff0000"/>
<circle cx="301.3" cy="908.6" r="5.55" fill="#ff0000"/>
<circle cx="306.4" cy="913.7" r="5.55" fill="#ff0000"/>
<circle cx="303.0" cy="917.2" r="5.55" fill="#ff0000"/>
<circle cx="320.1" cy="910.3" r="5.55" fill="#ff0000"/>
<circle cx="324.4" cy="916.3" r="5.55" fill="#ff0000"/>
<circle cx="251.4" cy="928.6" r="5.55" fill="#ff0000"/>
<circle cx="284.6" cy="939.4" r="5.55" fill="#ff0000"/>
<circle cx="294.1" cy="938.2" r="5.55" fill="#ff0000"/>
<circle cx="309.9" cy="931.3" r="5.55" fill="#ff0000"/>
<circle cx="325.2" cy="929.1" r="5.55" fill="#ff0000"/>
<circle cx="317.5" cy="935.9" r="5.55" fill="#ff0000"/>
<circle cx="313.3" cy="946.2" r="5.55" fill="#ff0000"/>
<circle cx="306.4" cy="949.3" r="5.55" fill="#ff0000"/>
<circle cx="339.2" cy="931.3" r="5.55" fill="#ff0000"/>
<circle cx="333.4" cy="940.2" r="5.55" fill="#ff0000"/>
<circle cx="335.5" cy="947.9" r="5.55" fill="#ff0000"/>
<circle cx="326.6" cy="953.5" r="5.55" fill="#ff0000"/>
<circle cx="340.6" cy="957.3" r="5.55" fill="#ff0000"/>
<circle cx="357.2" cy="901.3" r="5.55" fill="#ff0000"/>
<circle cx="367.5" cy="913.3" r="5.55" fill="#ff0000"/>
<circle cx="369.2" cy="926.4" r="5.55" fill="#ff0000"/>
<circle cx="339.3" cy="931.5" r="5.55" fill="#ff0000"/>
<circle cx="362.3" cy="940.1" r="5.55" fill="#ff0000"/>
<circle cx="335.0" cy="941.8" r="5.55" fill="#ff0000"/>
<circle cx="338.4" cy="950.3" r="5.55" fill="#ff0000"/>
<circle cx="340.1" cy="957.2" r="5.55" fill="#ff0000"/>
<circle cx="364.0" cy="958.0" r="5.55" fill="#ff0000"/>
<circle cx="358.1" cy="964.3" r="5.55" fill="#ff0000"/>
<circle cx="369.2" cy="969.1" r="5.55" fill="#ff0000"/>
<circle cx="122.0" cy="806.5" r="5.55" fill="#008000"/>
<circle cx="118.5" cy="806.5" r="5.55" fill="#008000"/>
<circle cx="133.4" cy="806.5" r="5.55" fill="#008000"/>
<circle cx="204.5" cy="814.3" r="5.55" fill="#008000"/>
<circle cx="218.5" cy="831.4" r="5.55" fill="#008000"/>
<circle cx="223.6" cy="840.3" r="5.55" fill="#008000"/>
<circle cx="228.4" cy="842.5" r="5.55" fill="#008000"/>
<circle cx="239.0" cy="836.0" r="5.55" fill="#008000"/>
<circle cx="241.5" cy="831.7" r="5.55" fill="#008000"/>
<circle cx="248.4" cy="828.0" r="5.55" fill="#008000"/>
<circle cx="257.2" cy="819.8" r="5.55" fill="#008000"/>
<circle cx="259.5" cy="824.4" r="5.55" fill="#008000"/>
<circle cx="254.7" cy="836.9" r="5.55" fill="#008000"/>
<circle cx="260.3" cy="842.0" r="5.55" fill="#008000"/>
<circle cx="264.3" cy="848.5" r="5.55" fill="#008000"/>
<circle cx="274.5" cy="848.3" r="5.55" fill="#008000"/>
<circle cx="281.3" cy="851.4" r="5.55" fill="#008000"/>
<circle cx="247.5" cy="856.5" r="5.55" fill="#008000"/>
<circle cx="290.6" cy="863.0" r="5.55" fill="#008000"/>
<circle cx="302.5" cy="871.4" r="5.55" fill="#008000"/>
<circle cx="264.6" cy="871.0" r="5.55" fill="#008000"/>
<circle cx="261.2" cy="876.2" r="5.55" fill="#008000"/>
<circle cx="263.7" cy="879.6" r="5.55" fill="#008000"/>
<circle cx="272.3" cy="879.1" r="5.55" fill="#008000"/>
<circle cx="278.3" cy="876.7" r="5.55" fill="#008000"/>
<circle cx="285.1" cy="878.7" r="5.55" fill="#008000"/>
<circle cx="296.2" cy="880.8" r="5.55" fill="#008000"/>
<circle cx="316.7" cy="899.2" r="5.55" fill="#008000"/>
<circle cx="317.5" cy="905.2" r="5.55" fill="#008000"/>
<circle cx="325.2" cy="907.2" r="5.55" fill="#008000"/>
<circle cx="337.7" cy="898.0" r="5.55" fill="#008000"/>
<circle cx="340.6" cy="911.2" r="5.55" fill="#008000"/>
<circle cx="312.4" cy="920.6" r="5.55" fill="#008000"/>
<circle cx="320.5" cy="921.4" r="5.55" fill="#008000"/>
<circle cx="346.6" cy="928.3" r="5.55" fill="#008000"/>
<circle cx="323.5" cy="945.3" r="5.55" fill="#008000"/>
<circle cx="345.7" cy="948.4" r="5.55" fill="#008000"/>
<circle cx="384.5" cy="887.5" r="5.55" fill="#008000"/>
<circle cx="337.6" cy="898.2" r="5.55" fill="#008000"/>
<circle cx="340.6" cy="911.4" r="5.55" fill="#008000"/>
<circle cx="346.1" cy="928.1" r="5.55" fill="#008000"/>
<circle cx="348.7" cy="928.1" r="5.55" fill="#008000"/>
<circle cx="362.3" cy="936.1" r="5.55" fill="#008000"/>
<circle cx="378.2" cy="932.0" r="5.55" fill="#008000"/>
<circle cx="391.4" cy="930.3" r="5.55" fill="#008000"/>
<circle cx="376.5" cy="943.5" r="5.55" fill="#008000"/>
<circle cx="345.2" cy="948.3" r="5.55" fill="#008000"/>
<circle cx="357.7" cy="953.2" r="5.55" fill="#008000"/>
<circle cx="381.5" cy="951.2" r="5.55" fill="#008000"/>
<circle cx="371.4" cy="960.2" r="5.55" fill="#008000"/>
<circle cx="409.6" cy="955.4" r="5.55" fill="#008000"/>
<circle cx="406.2" cy="963.5" r="5.55" fill="#008000"/>
<circle cx="382.3" cy="966.0" r="5.55" fill="#008000"/>
<circle cx="376.9" cy="969.1" r="5.55" fill="#008000"/>
<circle cx="375.1" cy="974.2" r="5.55" fill="#008000"/>
<circle cx="388.8" cy="974.2" r="5.55" fill="#008000"/>
<circle cx="392.2" cy="974.2" r="5.55" fill="#008000"/>
<circle cx="414.4" cy="973.4" r="5.55" fill="#008000"/>
<circle cx="426.4" cy="967.1" r="5.55" fill="#008000"/>
<circle cx="452.5" cy="968.3" r="5.55" fill="#008000"/>
<circle cx="441.8" cy="981.1" r="5.55" fill="#008000"/>
<circle cx="439.2" cy="984.5" r="5.55" fill="#008000"/>
<circle cx="372.6" cy="994.2" r="5.55" fill="#008000"/>
<circle cx="402.5" cy="992.5" r="5.55" fill="#008000"/>
<circle cx="415.3" cy="999.3" r="5.55" fill="#008000"/>
<circle cx="437.5" cy="994.4" r="5.55" fill="#008000"/>
<circle cx="456.3" cy="995.2" r="5.55" fill="#008000"/>
<circle cx="383.7" cy="1017.4" r="5.55" fill="#008000"/>
<circle cx="422.5" cy="1019.2" r="5.55" fill="#008000"/>
<circle cx="431.5" cy="1025.5" r="5.55" fill="#008000"/>
<circle cx="420.4" cy="1032.3" r="5.55" fill="#008000"/>
<circle cx="393.6" cy="832.1" r="5.55" fill="#0000ff"/>
<circle cx="454.2" cy="845.3" r="5.55" fill="#0000ff"/>
<circle cx="466.2" cy="858.4" r="5.55" fill="#0000ff"/>
<circle cx="532.6" cy="879.1" r="5.55" fill="#0000ff"/>
<circle cx="539.5" cy="878.2" r="5.55" fill="#0000ff"/>
<circle cx="548.5" cy="885.9" r="5.55" fill="#0000ff"/>
<circle cx="551.6" cy="893.1" r="5.55" fill="#0000ff"/>
<circle cx="522.9" cy="888.8" r="5.55" fill="#0000ff"/>
<circle cx="522.9" cy="893.1" r="5.55" fill="#0000ff"/>
<circle cx="529.7" cy="890.5" r="5.55" fill="#0000ff"/>
<circle cx="540.0" cy="892.2" r="5.55" fill="#0000ff"/>
<circle cx="521.2" cy="903.3" r="5.55" fill="#0000ff"/>
<circle cx="528.0" cy="902.5" r="5.55" fill="#0000ff"/>
<circle cx="536.6" cy="902.5" r="5.55" fill="#0000ff"/>
<circle cx="543.4" cy="900.8" r="5.55" fill="#0000ff"/>
<circle cx="551.9" cy="903.3" r="5.55" fill="#0000ff"/>
<circle cx="557.1" cy="908.5" r="5.55" fill="#0000ff"/>
<circle cx="521.2" cy="915.3" r="5.55" fill="#0000ff"/>
<circle cx="535.7" cy="915.3" r="5.55" fill="#0000ff"/>
<circle cx="542.5" cy="911.9" r="5.55" fill="#0000ff"/>
<circle cx="550.2" cy="912.7" r="5.55" fill="#0000ff"/>
<circle cx="527.7" cy="926.4" r="5.55" fill="#0000ff"/>
<circle cx="543.4" cy="923.0" r="5.55" fill="#0000ff"/>
<circle cx="550.2" cy="923.0" r="5.55" fill="#0000ff"/>
<circle cx="557.1" cy="919.6" r="5.55" fill="#0000ff"/>
<circle cx="563.9" cy="917.9" r="5.55" fill="#0000ff"/>
<circle cx="569.0" cy="914.4" r="5.55" fill="#0000ff"/>
<circle cx="538.3" cy="936.3" r="5.55" fill="#0000ff"/>
<circle cx="554.5" cy="930.7" r="5.55" fill="#0000ff"/>
<circle cx="562.2" cy="934.1" r="5.55" fill="#0000ff"/>
<circle cx="567.3" cy="928.1" r="5.55" fill="#0000ff"/>
<circle cx="570.7" cy="926.4" r="5.55" fill="#0000ff"/>
<circle cx="546.8" cy="919.6" r="5.55" fill="#0000ff"/>
<circle cx="558.8" cy="926.4" r="5.55" fill="#0000ff"/>
<circle cx="546.0" cy="906.0" r="5.55" fill="#0000ff"/>
<circle cx="553.0" cy="918.0" r="5.55" fill="#0000ff"/>
<circle cx="560.0" cy="914.0" r="5.55" fill="#0000ff"/>
<circle cx="566.0" cy="922.0" r="5.55" fill="#0000ff"/>
<circle cx="568.0" cy="931.0" r="5.55" fill="#0000ff"/>
<circle cx="556.0" cy="925.0" r="5.55" fill="#0000ff"/>
<circle cx="549.0" cy="929.0" r="5.55" fill="#0000ff"/>
<circle cx="541.0" cy="918.0" r="5.55" fill="#0000ff"/>
<circle cx="533.0" cy="908.0" r="5.55" fill="#0000ff"/>
<line x1="117" y1="872.7" x2="571" y2="934.9" stroke="#000" stroke-width="2.3" stroke-dasharray="12.8 12.4" stroke-dashoffset="-2"/>
</g>
<path d="M167.5 1116.0v-7.4M167.5 662.0v8.5M248.5 1116.0v-7.4M248.5 662.0v8.5M329.5 1116.0v-7.4M329.5 662.0v8.5M410.5 1116.0v-7.4M410.5 662.0v8.5M491.5 1116.0v-7.4M491.5 662.0v8.5M117.0 1066.5h8.5M117.0 985.5h8.5M117.0 904.5h8.5M117.0 822.5h8.5M117.0 741.5h8.5M571.0 1066.5h-7.4M571.0 985.5h-7.4M571.0 904.5h-7.4M571.0 822.5h-7.4M571.0 741.5h-7.4" stroke="#000" stroke-width="1" fill="none" shape-rendering="crispEdges"/>
<rect x="117.0" y="662.0" width="454.0" height="454.0" fill="none" stroke="#000" stroke-width="2.00"/>
<text x="167.4" y="1138.3" font-size="16.86" text-anchor="middle" fill="#000" textLength="33.7" lengthAdjust="spacingAndGlyphs" >−40</text>
<text x="248.5" y="1138.3" font-size="16.86" text-anchor="middle" fill="#000" textLength="33.7" lengthAdjust="spacingAndGlyphs" >−20</text>
<text x="329.6" y="1138.3" font-size="16.86" text-anchor="middle" fill="#000" >0</text>
<text x="410.7" y="1138.3" font-size="16.86" text-anchor="middle" fill="#000" textLength="19.9" lengthAdjust="spacingAndGlyphs" >20</text>
<text x="491.8" y="1138.3" font-size="16.86" text-anchor="middle" fill="#000" textLength="19.9" lengthAdjust="spacingAndGlyphs" >40</text>
<text x="108.0" y="1071.5" font-size="16.86" text-anchor="end" fill="#000" textLength="33.7" lengthAdjust="spacingAndGlyphs" >−40</text>
<text x="108.0" y="990.2" font-size="16.86" text-anchor="end" fill="#000" textLength="33.7" lengthAdjust="spacingAndGlyphs" >−20</text>
<text x="108.0" y="908.9" font-size="16.86" text-anchor="end" fill="#000" >0</text>
<text x="108.0" y="827.6" font-size="16.86" text-anchor="end" fill="#000" textLength="19.9" lengthAdjust="spacingAndGlyphs" >20</text>
<text x="108.0" y="746.3" font-size="16.86" text-anchor="end" fill="#000" textLength="19.9" lengthAdjust="spacingAndGlyphs" >40</text>
<text x="344.0" y="651.6" font-size="23.68" text-anchor="middle" fill="#000" textLength="114.9" lengthAdjust="spacingAndGlyphs" >WalenTest</text>
<text x="306.5" y="1167.5" font-size="16.45" ><tspan textLength="11.3" lengthAdjust="spacingAndGlyphs">V</tspan><tspan dy="4" font-size="11.5" font-style="italic" font-family="Liberation Serif, serif">A</tspan><tspan dy="-4" textLength="52.5" lengthAdjust="spacingAndGlyphs">(km/s)</tspan></text>
<text x="55.5" y="949.5" font-size="16.45" transform="rotate(-90 55.5 949.5)"><tspan>V</tspan><tspan dy="4" font-size="11.5" font-style="italic" font-family="Liberation Serif, serif" textLength="53" lengthAdjust="spacingAndGlyphs">remaining</tspan><tspan dy="-4" textLength="52.5" lengthAdjust="spacingAndGlyphs">(km/s)</tspan></text>
<rect x="125.0" y="669.0" width="145.0" height="49.0" fill="#fff" stroke="#000" stroke-width="2.00"/>
<text x="128.5" y="688.1" font-size="19.07" text-anchor="start" fill="#000" textLength="135.7" lengthAdjust="spacingAndGlyphs" >slope = -0.137</text>
<text x="128.5" y="710.4" font-size="18.5"><tspan font-style="italic" font-size="17" font-family="Liberation Serif, serif">r</tspan><tspan dx="3" textLength="86.9" lengthAdjust="spacingAndGlyphs"> = -0.378</tspan></text>
<clipPath id="c5"><rect x="673.0" y="662.0" width="454.0" height="454.0"/></clipPath><g clip-path="url(#c5)">
<polyline points="972.4,681.4 974.4,687.9 981.8,695.0 988.9,705.0 995.8,723.2 1001.6,734.3 1001.7,748.2 1006.9,772.5 1011.6,777.2 1019.4,792.5 1014.3,834.3 1009.2,830.0 1007.7,810.4 1010.5,790.3 1005.8,787.3 1000.4,803.6 1003.6,823.6 1008.3,849.3 1007.5,854.8 1000.4,859.5 1013.5,865.5 1005.9,855.7 1001.5,851.4 1007.5,819.8 998.1,780.1 994.1,734.7 983.8,728.8 972.7,702.7 972.4,681.4" fill="none" stroke="#0000ff" stroke-width="2.00" stroke-linejoin="round" />
<polyline points="974.4,687.9 984.7,717.8 988.9,728.1 997.9,780.2 1005.2,787.0 1011.7,777.5 995.8,768.2 983.4,752.2 978.4,777.4 980.1,876.2 979.4,884.2 960.4,909.2 957.3,913.2 951.3,926.1 951.3,934.5 961.5,927.4 967.5,925.4 965.5,923.5 957.3,913.2 954.4,977.3 948.4,994.4 878.4,1072.0 864.3,1085.3 794.3,1092.1" fill="none" stroke="#0000ff" stroke-width="2.00" stroke-linejoin="round" />
<polyline points="981.8,695.0 1006.9,772.5" fill="none" stroke="#0000ff" stroke-width="2.00" stroke-linejoin="round" />
<polyline points="972.7,702.7 1001.6,748.2 1011.6,777.2" fill="none" stroke="#0000ff" stroke-width="2.00" stroke-linejoin="round" />
<polyline points="979.4,884.2 980.3,910.4 970.0,910.4 979.8,903.0" fill="none" stroke="#0000ff" stroke-width="2.00" stroke-linejoin="round" />
<polyline points="979.4,884.2 987.5,935.2" fill="none" stroke="#0000ff" stroke-width="2.00" stroke-linejoin="round" />
<polyline points="1005.9,860.0 984.5,900.1 980.3,910.4" fill="none" stroke="#0000ff" stroke-width="2.00" stroke-linejoin="round" />
<polyline points="1005.9,860.0 1003.6,904.4 997.4,892.1 996.6,909.5 990.5,926.1 987.5,935.2 1000.6,933.1 998.5,946.6 990.5,953.9 993.7,956.5 988.3,976.4 980.5,967.3 988.3,944.3 987.5,935.2" fill="none" stroke="#0000ff" stroke-width="2.00" stroke-linejoin="round" />
<polyline points="1000.2,859.7 1005.9,855.7" fill="none" stroke="#0000ff" stroke-width="2.00" stroke-linejoin="round" />
<circle cx="794.3" cy="1092.1" r="3.70" fill="#0000ff"/>
<circle cx="864.3" cy="1085.3" r="3.70" fill="#0000ff"/>
<circle cx="878.4" cy="1072.0" r="3.70" fill="#0000ff"/>
<circle cx="948.4" cy="994.4" r="3.70" fill="#0000ff"/>
<circle cx="951.3" cy="926.1" r="3.70" fill="#0000ff"/>
<circle cx="951.3" cy="934.5" r="3.70" fill="#0000ff"/>
<circle cx="954.4" cy="977.3" r="3.70" fill="#0000ff"/>
<circle cx="957.3" cy="913.2" r="3.70" fill="#0000ff"/>
<circle cx="960.4" cy="909.2" r="3.70" fill="#0000ff"/>
<circle cx="961.5" cy="927.4" r="3.70" fill="#0000ff"/>
<circle cx="965.5" cy="923.5" r="3.70" fill="#0000ff"/>
<circle cx="967.5" cy="925.4" r="3.70" fill="#0000ff"/>
<circle cx="970.0" cy="910.4" r="3.70" fill="#0000ff"/>
<circle cx="972.4" cy="681.4" r="3.70" fill="#0000ff"/>
<circle cx="972.7" cy="702.7" r="3.70" fill="#0000ff"/>
<circle cx="974.4" cy="687.9" r="3.70" fill="#0000ff"/>
<circle cx="978.4" cy="777.4" r="3.70" fill="#0000ff"/>
<circle cx="979.4" cy="884.2" r="3.70" fill="#0000ff"/>
<circle cx="979.8" cy="903.0" r="3.70" fill="#0000ff"/>
<circle cx="980.1" cy="876.2" r="3.70" fill="#0000ff"/>
<circle cx="980.3" cy="910.4" r="3.70" fill="#0000ff"/>
<circle cx="980.5" cy="967.3" r="3.70" fill="#0000ff"/>
<circle cx="981.8" cy="695.0" r="3.70" fill="#0000ff"/>
<circle cx="983.4" cy="752.2" r="3.70" fill="#0000ff"/>
<circle cx="983.8" cy="728.8" r="3.70" fill="#0000ff"/>
<circle cx="984.5" cy="900.1" r="3.70" fill="#0000ff"/>
<circle cx="984.7" cy="717.8" r="3.70" fill="#0000ff"/>
<circle cx="987.5" cy="935.2" r="3.70" fill="#0000ff"/>
<circle cx="988.3" cy="944.3" r="3.70" fill="#0000ff"/>
<circle cx="988.3" cy="976.4" r="3.70" fill="#0000ff"/>
<circle cx="988.9" cy="705.0" r="3.70" fill="#0000ff"/>
<circle cx="988.9" cy="728.1" r="3.70" fill="#0000ff"/>
<circle cx="990.5" cy="926.1" r="3.70" fill="#0000ff"/>
<circle cx="990.5" cy="953.9" r="3.70" fill="#0000ff"/>
<circle cx="993.7" cy="956.5" r="3.70" fill="#0000ff"/>
<circle cx="994.1" cy="734.7" r="3.70" fill="#0000ff"/>
<circle cx="995.8" cy="723.2" r="3.70" fill="#0000ff"/>
<circle cx="995.8" cy="768.2" r="3.70" fill="#0000ff"/>
<circle cx="996.6" cy="909.5" r="3.70" fill="#0000ff"/>
<circle cx="997.4" cy="892.1" r="3.70" fill="#0000ff"/>
<circle cx="997.9" cy="780.2" r="3.70" fill="#0000ff"/>
<circle cx="998.1" cy="780.1" r="3.70" fill="#0000ff"/>
<circle cx="998.5" cy="946.6" r="3.70" fill="#0000ff"/>
<circle cx="1000.2" cy="859.7" r="3.70" fill="#0000ff"/>
<circle cx="1000.4" cy="803.6" r="3.70" fill="#0000ff"/>
<circle cx="1000.4" cy="859.5" r="3.70" fill="#0000ff"/>
<circle cx="1000.6" cy="933.1" r="3.70" fill="#0000ff"/>
<circle cx="1001.5" cy="851.4" r="3.70" fill="#0000ff"/>
<circle cx="1001.6" cy="734.3" r="3.70" fill="#0000ff"/>
<circle cx="1001.6" cy="748.2" r="3.70" fill="#0000ff"/>
<circle cx="1001.7" cy="748.2" r="3.70" fill="#0000ff"/>
<circle cx="1003.6" cy="823.6" r="3.70" fill="#0000ff"/>
<circle cx="1003.6" cy="904.4" r="3.70" fill="#0000ff"/>
<circle cx="1005.2" cy="787.0" r="3.70" fill="#0000ff"/>
<circle cx="1005.8" cy="787.3" r="3.70" fill="#0000ff"/>
<circle cx="1005.9" cy="855.7" r="3.70" fill="#0000ff"/>
<circle cx="1005.9" cy="860.0" r="3.70" fill="#0000ff"/>
<circle cx="1006.9" cy="772.5" r="3.70" fill="#0000ff"/>
<circle cx="1007.5" cy="819.8" r="3.70" fill="#0000ff"/>
<circle cx="1007.5" cy="854.8" r="3.70" fill="#0000ff"/>
<circle cx="1007.7" cy="810.4" r="3.70" fill="#0000ff"/>
<circle cx="1008.3" cy="849.3" r="3.70" fill="#0000ff"/>
<circle cx="1009.2" cy="830.0" r="3.70" fill="#0000ff"/>
<circle cx="1010.5" cy="790.3" r="3.70" fill="#0000ff"/>
<circle cx="1011.6" cy="777.2" r="3.70" fill="#0000ff"/>
<circle cx="1011.7" cy="777.5" r="3.70" fill="#0000ff"/>
<circle cx="1013.5" cy="865.5" r="3.70" fill="#0000ff"/>
<circle cx="1014.3" cy="834.3" r="3.70" fill="#0000ff"/>
<circle cx="1019.4" cy="792.5" r="3.70" fill="#0000ff"/>
</g>
<path d="M718.5 1116.0v-7.4M718.5 662.0v8.5M809.5 1116.0v-7.4M809.5 662.0v8.5M899.5 1116.0v-7.4M899.5 662.0v8.5M990.5 1116.0v-7.4M990.5 662.0v8.5M1081.5 1116.0v-7.4M1081.5 662.0v8.5M673.0 1025.5h8.5M673.0 934.5h8.5M673.0 843.5h8.5M673.0 752.5h8.5M1127.0 1025.5h-7.4M1127.0 934.5h-7.4M1127.0 843.5h-7.4M1127.0 752.5h-7.4" stroke="#000" stroke-width="1" fill="none" shape-rendering="crispEdges"/>
<rect x="673.0" y="662.0" width="454.0" height="454.0" fill="none" stroke="#000" stroke-width="2.00"/>
<text x="718.3" y="1138.3" font-size="16.86" text-anchor="middle" fill="#000" >0</text>
<text x="809.1" y="1138.3" font-size="16.86" text-anchor="middle" fill="#000" >2</text>
<text x="899.9" y="1138.3" font-size="16.86" text-anchor="middle" fill="#000" >4</text>
<text x="990.7" y="1138.3" font-size="16.86" text-anchor="middle" fill="#000" >6</text>
<text x="1081.5" y="1138.3" font-size="16.86" text-anchor="middle" fill="#000" >8</text>
<text x="664.0" y="1120.7" font-size="16.86" text-anchor="end" fill="#000" textLength="23.3" lengthAdjust="spacingAndGlyphs" >−6</text>
<text x="664.0" y="1029.9" font-size="16.86" text-anchor="end" fill="#000" textLength="23.3" lengthAdjust="spacingAndGlyphs" >−4</text>
<text x="664.0" y="939.1" font-size="16.86" text-anchor="end" fill="#000" textLength="23.3" lengthAdjust="spacingAndGlyphs" >−2</text>
<text x="664.0" y="848.3" font-size="16.86" text-anchor="end" fill="#000" >0</text>
<text x="664.0" y="757.5" font-size="16.86" text-anchor="end" fill="#000" >2</text>
<text x="664.0" y="666.7" font-size="16.86" text-anchor="end" fill="#000" >4</text>
<text x="900.0" y="651.6" font-size="23.68" text-anchor="middle" fill="#000" textLength="319.3" lengthAdjust="spacingAndGlyphs" >Hodogram(Bz_By FR frame)</text>
<text x="900.0" y="1167.5" font-size="16.86" text-anchor="middle" fill="#000" textLength="52.2" lengthAdjust="spacingAndGlyphs" >Bz(nT)</text>
<text x="625.6" y="891.5" font-size="16.86" text-anchor="middle" fill="#000" textLength="53.3" lengthAdjust="spacingAndGlyphs" transform="rotate(-90 625.6 891.5)" >By(nT)</text>
<clipPath id="c6"><rect x="1229.0" y="662.0" width="454.0" height="454.0"/></clipPath><g clip-path="url(#c6)">
<polyline points="1475.7,776.8 1462.8,867.0 1433.3,900.3" fill="none" stroke="#0000ff" stroke-width="2.00" stroke-linejoin="round" />
<polyline points="1485.3,734.5 1426.5,681.4 1426.5,702.5 1433.6,716.3 1444.4,731.2 1442.6,735.5 1451.5,748.3 1484.6,790.3 1479.3,792.4" fill="none" stroke="#0000ff" stroke-width="2.00" stroke-linejoin="round" />
<polyline points="1433.6,716.3 1433.3,726.5" fill="none" stroke="#0000ff" stroke-width="2.00" stroke-linejoin="round" />
<polyline points="1470.6,688.2 1463.5,695.3 1488.5,705.3" fill="none" stroke="#0000ff" stroke-width="2.00" stroke-linejoin="round" />
<polyline points="1463.5,695.3 1433.6,716.3 1423.3,725.2 1421.2,777.0 1433.3,771.5 1437.6,769.6 1440.9,768.2" fill="none" stroke="#0000ff" stroke-width="2.00" stroke-linejoin="round" />
<polyline points="1463.5,695.3 1467.5,723.4 1485.3,734.5" fill="none" stroke="#0000ff" stroke-width="2.00" stroke-linejoin="round" />
<polyline points="1463.5,695.3 1453.5,728.4 1479.3,792.4" fill="none" stroke="#0000ff" stroke-width="2.00" stroke-linejoin="round" />
<polyline points="1451.5,748.3 1461.5,779.9 1480.7,752.3 1475.7,776.8" fill="none" stroke="#0000ff" stroke-width="2.00" stroke-linejoin="round" />
<polyline points="1433.3,900.3 1433.3,910.5 1447.4,910.5 1442.5,884.3" fill="none" stroke="#0000ff" stroke-width="2.00" stroke-linejoin="round" />
<polyline points="1461.5,779.9 1475.7,776.8 1486.7,779.2 1533.4,823.3 1527.3,851.4 1505.5,819.5 1498.4,830.6 1483.1,849.4 1446.4,859.5 1469.6,860.0 1503.4,865.3" fill="none" stroke="#0000ff" stroke-width="2.00" stroke-linejoin="round" />
<polyline points="1463.9,784.6 1456.5,786.3 1433.6,810.5 1473.5,834.4 1479.3,792.4" fill="none" stroke="#0000ff" stroke-width="2.00" stroke-linejoin="round" />
<polyline points="1419.5,787.4 1433.3,771.5" fill="none" stroke="#0000ff" stroke-width="2.00" stroke-linejoin="round" />
<polyline points="1421.2,777.0 1419.5,787.4 1383.5,803.4 1380.4,823.5 1392.5,855.4 1395.2,904.2 1395.2,909.2 1401.5,925.8" fill="none" stroke="#0000ff" stroke-width="2.00" stroke-linejoin="round" />
<polyline points="1381.5,892.1 1395.2,904.2" fill="none" stroke="#0000ff" stroke-width="2.00" stroke-linejoin="round" />
<polyline points="1381.5,892.1 1395.2,909.2" fill="none" stroke="#0000ff" stroke-width="2.00" stroke-linejoin="round" />
<polyline points="1442.5,884.3 1395.2,904.2 1375.7,913.3 1388.2,923.0 1388.2,927.7" fill="none" stroke="#0000ff" stroke-width="2.00" stroke-linejoin="round" />
<polyline points="1366.3,908.9 1364.2,926.1 1368.3,934.4 1388.2,927.7 1401.5,925.8 1426.2,935.2 1525.5,933.2 1538.5,946.5 1540.9,954.3 1531.5,956.2 1505.3,976.2 1466.5,967.3 1494.4,944.1 1462.6,876.5" fill="none" stroke="#0000ff" stroke-width="2.00" stroke-linejoin="round" />
<polyline points="1366.3,908.9 1396.5,977.3 1502.5,994.2 1538.2,1072.1 1498.9,1085.3 1399.4,1092.1" fill="none" stroke="#0000ff" stroke-width="2.00" stroke-linejoin="round" />
<circle cx="1364.2" cy="926.1" r="3.70" fill="#0000ff"/>
<circle cx="1366.3" cy="908.9" r="3.70" fill="#0000ff"/>
<circle cx="1368.3" cy="934.4" r="3.70" fill="#0000ff"/>
<circle cx="1375.7" cy="913.3" r="3.70" fill="#0000ff"/>
<circle cx="1380.4" cy="823.5" r="3.70" fill="#0000ff"/>
<circle cx="1381.5" cy="892.1" r="3.70" fill="#0000ff"/>
<circle cx="1383.5" cy="803.4" r="3.70" fill="#0000ff"/>
<circle cx="1388.2" cy="923.0" r="3.70" fill="#0000ff"/>
<circle cx="1388.2" cy="927.7" r="3.70" fill="#0000ff"/>
<circle cx="1392.5" cy="855.4" r="3.70" fill="#0000ff"/>
<circle cx="1395.2" cy="904.2" r="3.70" fill="#0000ff"/>
<circle cx="1395.2" cy="909.2" r="3.70" fill="#0000ff"/>
<circle cx="1396.5" cy="977.3" r="3.70" fill="#0000ff"/>
<circle cx="1399.4" cy="1092.1" r="3.70" fill="#0000ff"/>
<circle cx="1401.5" cy="925.8" r="3.70" fill="#0000ff"/>
<circle cx="1419.5" cy="787.4" r="3.70" fill="#0000ff"/>
<circle cx="1421.2" cy="777.0" r="3.70" fill="#0000ff"/>
<circle cx="1423.3" cy="725.2" r="3.70" fill="#0000ff"/>
<circle cx="1426.2" cy="935.2" r="3.70" fill="#0000ff"/>
<circle cx="1426.5" cy="681.4" r="3.70" fill="#0000ff"/>
<circle cx="1426.5" cy="702.5" r="3.70" fill="#0000ff"/>
<circle cx="1433.3" cy="726.5" r="3.70" fill="#0000ff"/>
<circle cx="1433.3" cy="771.5" r="3.70" fill="#0000ff"/>
<circle cx="1433.3" cy="900.3" r="3.70" fill="#0000ff"/>
<circle cx="1433.3" cy="910.5" r="3.70" fill="#0000ff"/>
<circle cx="1433.6" cy="716.3" r="3.70" fill="#0000ff"/>
<circle cx="1433.6" cy="810.5" r="3.70" fill="#0000ff"/>
<circle cx="1437.6" cy="769.6" r="3.70" fill="#0000ff"/>
<circle cx="1440.9" cy="768.2" r="3.70" fill="#0000ff"/>
<circle cx="1442.5" cy="884.3" r="3.70" fill="#0000ff"/>
<circle cx="1442.6" cy="735.5" r="3.70" fill="#0000ff"/>
<circle cx="1444.4" cy="731.2" r="3.70" fill="#0000ff"/>
<circle cx="1446.4" cy="859.5" r="3.70" fill="#0000ff"/>
<circle cx="1447.4" cy="910.5" r="3.70" fill="#0000ff"/>
<circle cx="1451.5" cy="748.3" r="3.70" fill="#0000ff"/>
<circle cx="1453.5" cy="728.4" r="3.70" fill="#0000ff"/>
<circle cx="1456.5" cy="786.3" r="3.70" fill="#0000ff"/>
<circle cx="1461.5" cy="779.9" r="3.70" fill="#0000ff"/>
<circle cx="1462.6" cy="876.5" r="3.70" fill="#0000ff"/>
<circle cx="1463.5" cy="695.3" r="3.70" fill="#0000ff"/>
<circle cx="1463.9" cy="784.6" r="3.70" fill="#0000ff"/>
<circle cx="1466.5" cy="967.3" r="3.70" fill="#0000ff"/>
<circle cx="1467.5" cy="723.4" r="3.70" fill="#0000ff"/>
<circle cx="1469.6" cy="860.0" r="3.70" fill="#0000ff"/>
<circle cx="1470.6" cy="688.2" r="3.70" fill="#0000ff"/>
<circle cx="1473.5" cy="834.4" r="3.70" fill="#0000ff"/>
<circle cx="1475.7" cy="776.8" r="3.70" fill="#0000ff"/>
<circle cx="1479.3" cy="792.4" r="3.70" fill="#0000ff"/>
<circle cx="1480.7" cy="752.3" r="3.70" fill="#0000ff"/>
<circle cx="1483.1" cy="849.4" r="3.70" fill="#0000ff"/>
<circle cx="1484.6" cy="790.3" r="3.70" fill="#0000ff"/>
<circle cx="1485.3" cy="734.5" r="3.70" fill="#0000ff"/>
<circle cx="1486.7" cy="779.2" r="3.70" fill="#0000ff"/>
<circle cx="1488.5" cy="705.3" r="3.70" fill="#0000ff"/>
<circle cx="1494.4" cy="944.1" r="3.70" fill="#0000ff"/>
<circle cx="1498.4" cy="830.6" r="3.70" fill="#0000ff"/>
<circle cx="1498.9" cy="1085.3" r="3.70" fill="#0000ff"/>
<circle cx="1502.5" cy="994.2" r="3.70" fill="#0000ff"/>
<circle cx="1503.4" cy="865.3" r="3.70" fill="#0000ff"/>
<circle cx="1505.3" cy="976.2" r="3.70" fill="#0000ff"/>
<circle cx="1505.5" cy="819.5" r="3.70" fill="#0000ff"/>
<circle cx="1525.5" cy="933.2" r="3.70" fill="#0000ff"/>
<circle cx="1527.3" cy="851.4" r="3.70" fill="#0000ff"/>
<circle cx="1531.5" cy="956.2" r="3.70" fill="#0000ff"/>
<circle cx="1533.4" cy="823.3" r="3.70" fill="#0000ff"/>
<circle cx="1538.2" cy="1072.1" r="3.70" fill="#0000ff"/>
<circle cx="1538.5" cy="946.5" r="3.70" fill="#0000ff"/>
<circle cx="1540.9" cy="954.3" r="3.70" fill="#0000ff"/>
</g>
<path d="M1308.5 1116.0v-7.4M1308.5 662.0v8.5M1399.5 1116.0v-7.4M1399.5 662.0v8.5M1490.5 1116.0v-7.4M1490.5 662.0v8.5M1581.5 1116.0v-7.4M1581.5 662.0v8.5M1672.5 1116.0v-7.4M1672.5 662.0v8.5M1229.0 1025.5h8.5M1229.0 934.5h8.5M1229.0 843.5h8.5M1229.0 752.5h8.5M1683.0 1025.5h-7.4M1683.0 934.5h-7.4M1683.0 843.5h-7.4M1683.0 752.5h-7.4" stroke="#000" stroke-width="1" fill="none" shape-rendering="crispEdges"/>
<rect x="1229.0" y="662.0" width="454.0" height="454.0" fill="none" stroke="#000" stroke-width="2.00"/>
<text x="1308.8" y="1138.3" font-size="16.86" text-anchor="middle" fill="#000" textLength="23.3" lengthAdjust="spacingAndGlyphs" >−4</text>
<text x="1399.6" y="1138.3" font-size="16.86" text-anchor="middle" fill="#000" textLength="23.3" lengthAdjust="spacingAndGlyphs" >−2</text>
<text x="1490.4" y="1138.3" font-size="16.86" text-anchor="middle" fill="#000" >0</text>
<text x="1581.2" y="1138.3" font-size="16.86" text-anchor="middle" fill="#000" >2</text>
<text x="1672.0" y="1138.3" font-size="16.86" text-anchor="middle" fill="#000" >4</text>
<text x="1220.0" y="1120.7" font-size="16.86" text-anchor="end" fill="#000" textLength="23.3" lengthAdjust="spacingAndGlyphs" >−6</text>
<text x="1220.0" y="1029.9" font-size="16.86" text-anchor="end" fill="#000" textLength="23.3" lengthAdjust="spacingAndGlyphs" >−4</text>
<text x="1220.0" y="939.1" font-size="16.86" text-anchor="end" fill="#000" textLength="23.3" lengthAdjust="spacingAndGlyphs" >−2</text>
<text x="1220.0" y="848.3" font-size="16.86" text-anchor="end" fill="#000" >0</text>
<text x="1220.0" y="757.5" font-size="16.86" text-anchor="end" fill="#000" >2</text>
<text x="1220.0" y="666.7" font-size="16.86" text-anchor="end" fill="#000" >4</text>
<text x="1456.0" y="651.6" font-size="23.68" text-anchor="middle" fill="#000" textLength="320.9" lengthAdjust="spacingAndGlyphs" >Hodogram(Bx_By FR frame)</text>
<text x="1456.0" y="1167.5" font-size="16.86" text-anchor="middle" fill="#000" textLength="53.3" lengthAdjust="spacingAndGlyphs" >Bx(nT)</text>
<text x="1180.7" y="891.5" font-size="16.86" text-anchor="middle" fill="#000" textLength="53.3" lengthAdjust="spacingAndGlyphs" transform="rotate(-90 1180.7 891.5)" >By(nT)</text>
<clipPath id="ct0"><rect x="117.0" y="1305.0" width="1566.0" height="189.0"/></clipPath><g clip-path="url(#ct0)">
<line x1="117" y1="1386.5" x2="1683" y2="1386.5" stroke="#000" stroke-width="1.1" stroke-dasharray="12.5 12.4" shape-rendering="crispEdges"/>
<polyline points="116.6,1336.0 140.1,1318.1 162.3,1314.2 230.6,1377.4 253.2,1374.0 276.3,1371.5 298.9,1367.6 321.6,1369.8 344.2,1371.0 366.4,1375.3 389.5,1370.2 412.1,1363.3 434.3,1365.9 456.9,1368.0 480.4,1370.6 502.6,1363.3 525.3,1374.4 547.9,1370.6 570.5,1372.3 592.7,1374.4 617.2,1363.3 639.9,1368.9 662.5,1387.3 685.1,1391.5 708.2,1396.2 730.8,1391.1 753.5,1368.9 776.1,1347.1 799.1,1346.3 821.8,1337.7 844.4,1337.7 867.0,1336.9 889.7,1338.6 912.7,1344.1 935.4,1360.4 958.0,1366.3 980.6,1371.0 1003.3,1377.4 1026.3,1372.3 1049.0,1383.8 1071.6,1394.1 1094.2,1398.8 1116.9,1396.7 1139.9,1397.9 1161.0,1398.4 1183.6,1398.4 1206.3,1398.4 1229.3,1411.2 1252.0,1413.7 1274.6,1406.0 1297.2,1384.7 1319.9,1375.7 1342.5,1388.1 1365.6,1390.2 1388.2,1389.8 1410.8,1400.5 1433.5,1384.7 1456.1,1389.0 1479.1,1405.6 1501.8,1406.9 1524.4,1412.5 1547.0,1409.5 1569.7,1417.2 1592.3,1422.7 1615.4,1398.8 1638.0,1404.8 1660.6,1412.5 1683.3,1405.6" fill="none" stroke="#0000ff" stroke-width="2.00" stroke-linejoin="round" />
<polyline points="116.6,1440.2 140.1,1410.3 184.9,1386.0 208.0,1406.0 230.6,1400.1 253.2,1404.8 276.3,1405.2 298.9,1394.5 321.6,1398.4 344.2,1397.1 366.4,1399.2 389.5,1377.4 412.1,1380.9 434.3,1384.7 456.9,1381.7 480.4,1364.2 502.6,1357.4 525.3,1369.8 547.9,1359.5 570.5,1352.7 592.7,1349.7 617.2,1350.5 639.9,1343.7 662.5,1348.0 685.1,1353.1 708.2,1345.8 730.8,1351.8 753.5,1371.5 776.1,1374.9 799.1,1386.0 821.8,1378.3 844.4,1368.5 867.0,1366.3 889.7,1364.6 912.7,1364.6 935.4,1388.5 958.0,1392.4 980.6,1390.2 1003.3,1389.8 1026.3,1388.1 1049.0,1380.4 1071.6,1377.9 1094.2,1374.0 1116.9,1363.3 1139.9,1357.4 1161.0,1356.1 1183.6,1356.9 1206.3,1361.2 1229.3,1353.1 1252.0,1338.1 1274.6,1348.0 1297.2,1349.3 1319.9,1358.2 1342.5,1363.8 1365.6,1354.4 1388.2,1351.8 1410.8,1349.7 1433.5,1348.8 1456.1,1348.4 1479.1,1350.1 1501.8,1349.3 1524.4,1350.1 1547.0,1351.4 1569.7,1350.1 1592.3,1346.7 1615.4,1339.9 1638.0,1341.1 1660.6,1339.0 1683.3,1334.7" fill="none" stroke="#008000" stroke-width="2.00" stroke-linejoin="round" />
<polyline points="116.6,1421.0 140.1,1429.1 162.3,1428.3 184.9,1450.0 208.0,1463.3 230.6,1467.1 253.2,1465.4 276.3,1465.0 298.9,1465.8 321.6,1465.4 344.2,1466.3 366.4,1465.4 389.5,1463.7 412.1,1463.7 434.3,1462.4 456.9,1466.3 480.4,1468.0 502.6,1465.8 525.3,1468.4 547.9,1466.3 570.5,1464.6 592.7,1462.8 617.2,1459.0 639.9,1459.4 662.5,1462.0 685.1,1464.6 708.2,1457.7 730.8,1457.7 753.5,1461.1 776.1,1460.7 799.1,1462.4 821.8,1460.3 844.4,1458.6 867.0,1456.9 889.7,1459.0 912.7,1460.7 935.4,1468.0 958.0,1471.4 980.6,1473.5 1003.3,1475.2 1026.3,1475.7 1049.0,1476.1 1071.6,1476.1 1094.2,1474.4 1116.9,1471.8 1139.9,1469.7 1161.0,1466.3 1183.6,1466.7 1206.3,1471.0 1229.3,1465.8 1252.0,1455.6 1274.6,1460.7 1297.2,1468.4 1319.9,1468.4 1342.5,1470.5 1365.6,1468.4 1388.2,1468.4 1410.8,1466.3 1433.5,1465.8 1456.1,1466.7 1479.1,1465.4 1501.8,1464.1 1524.4,1462.8 1547.0,1463.7 1569.7,1460.7 1592.3,1459.4 1615.4,1462.0 1638.0,1462.4 1660.6,1458.1 1683.3,1457.3" fill="none" stroke="#ff0000" stroke-width="2.00" stroke-linejoin="round" />
</g>
<path d="M140.5 1494.0v-7.4M140.5 1305.0v8.5M367.5 1494.0v-7.4M367.5 1305.0v8.5M594.5 1494.0v-7.4M594.5 1305.0v8.5M821.5 1494.0v-7.4M821.5 1305.0v8.5M1048.5 1494.0v-7.4M1048.5 1305.0v8.5M1276.5 1494.0v-7.4M1276.5 1305.0v8.5M1503.5 1494.0v-7.4M1503.5 1305.0v8.5M117.0 1467.5h8.5M117.0 1440.5h8.5M117.0 1413.5h8.5M117.0 1386.5h8.5M117.0 1359.5h8.5M117.0 1332.5h8.5M1683.0 1467.5h-7.4M1683.0 1440.5h-7.4M1683.0 1413.5h-7.4M1683.0 1386.5h-7.4M1683.0 1359.5h-7.4M1683.0 1332.5h-7.4" stroke="#000" stroke-width="1" fill="none" shape-rendering="crispEdges"/>
<rect x="117.0" y="1305.0" width="1566.0" height="189.0" fill="none" stroke="#000" stroke-width="2.00"/>
<text x="140.1" y="1516.3" font-size="16.86" text-anchor="middle" fill="#000" textLength="99.1" lengthAdjust="spacingAndGlyphs" >07/26 10:14</text>
<text x="367.3" y="1516.3" font-size="16.86" text-anchor="middle" fill="#000" textLength="99.1" lengthAdjust="spacingAndGlyphs" >07/26 10:24</text>
<text x="594.5" y="1516.3" font-size="16.86" text-anchor="middle" fill="#000" textLength="99.1" lengthAdjust="spacingAndGlyphs" >07/26 10:34</text>
<text x="821.7" y="1516.3" font-size="16.86" text-anchor="middle" fill="#000" textLength="99.1" lengthAdjust="spacingAndGlyphs" >07/26 10:44</text>
<text x="1048.9" y="1516.3" font-size="16.86" text-anchor="middle" fill="#000" textLength="99.1" lengthAdjust="spacingAndGlyphs" >07/26 10:54</text>
<text x="1276.1" y="1516.3" font-size="16.86" text-anchor="middle" fill="#000" textLength="99.1" lengthAdjust="spacingAndGlyphs" >07/26 11:04</text>
<text x="1503.3" y="1516.3" font-size="16.86" text-anchor="middle" fill="#000" textLength="99.1" lengthAdjust="spacingAndGlyphs" >07/26 11:14</text>
<text x="108.0" y="1498.7" font-size="16.86" text-anchor="end" fill="#000" textLength="23.3" lengthAdjust="spacingAndGlyphs" >−8</text>
<text x="108.0" y="1471.7" font-size="16.86" text-anchor="end" fill="#000" textLength="23.3" lengthAdjust="spacingAndGlyphs" >−6</text>
<text x="108.0" y="1444.7" font-size="16.86" text-anchor="end" fill="#000" textLength="23.3" lengthAdjust="spacingAndGlyphs" >−4</text>
<text x="108.0" y="1417.7" font-size="16.86" text-anchor="end" fill="#000" textLength="23.3" lengthAdjust="spacingAndGlyphs" >−2</text>
<text x="108.0" y="1390.7" font-size="16.86" text-anchor="end" fill="#000" >0</text>
<text x="108.0" y="1363.7" font-size="16.86" text-anchor="end" fill="#000" >2</text>
<text x="108.0" y="1336.7" font-size="16.86" text-anchor="end" fill="#000" >4</text>
<text x="108.0" y="1309.7" font-size="16.86" text-anchor="end" fill="#000" >6</text>
<text x="900.0" y="1295.4" font-size="23.68" text-anchor="middle" fill="#000" textLength="316.9" lengthAdjust="spacingAndGlyphs" >Magnetic Field (GSE Frame)</text>
<text x="69.5" y="1402.5" font-size="16.86" text-anchor="middle" fill="#000" textLength="43.6" lengthAdjust="spacingAndGlyphs" transform="rotate(-90 69.5 1402.5)" >B(nT)</text>
<rect x="1605.0" y="1312.0" width="71.0" height="72.0" fill="#fff" stroke="#000" stroke-width="2.00"/>
<polyline points="1614.0,1324.9 1635.5,1324.9" fill="none" stroke="#ff0000" stroke-width="2.00" stroke-linejoin="round" />
<polyline points="1614.0,1347.6 1635.5,1347.6" fill="none" stroke="#008000" stroke-width="2.00" stroke-linejoin="round" />
<polyline points="1614.0,1370.2 1635.5,1370.2" fill="none" stroke="#0000ff" stroke-width="2.00" stroke-linejoin="round" />
<text x="1652.5" y="1330.1" font-size="14.76" text-anchor="start" fill="#000" textLength="17.5" lengthAdjust="spacingAndGlyphs" >Bx</text>
<text x="1652.5" y="1352.8" font-size="14.76" text-anchor="start" fill="#000" textLength="17.5" lengthAdjust="spacingAndGlyphs" >By</text>
<text x="1652.5" y="1375.4" font-size="14.76" text-anchor="start" fill="#000" textLength="16.6" lengthAdjust="spacingAndGlyphs" >Bz</text>
<clipPath id="ct1"><rect x="117.0" y="1589.0" width="1566.0" height="189.0"/></clipPath><g clip-path="url(#ct1)">
<line x1="117" y1="1697.5" x2="1683" y2="1697.5" stroke="#000" stroke-width="1.1" stroke-dasharray="12.5 12.4" shape-rendering="crispEdges"/>
<polyline points="116.6,1723.6 140.1,1692.9 162.3,1682.2 184.9,1692.5 208.0,1724.5 230.6,1733.0 253.2,1733.9 276.3,1732.6 298.9,1722.8 321.6,1726.6 344.2,1726.6 366.4,1730.5 389.5,1710.4 412.1,1709.1 434.3,1713.0 456.9,1713.4 480.4,1702.3 502.6,1692.5 525.3,1709.1 547.9,1698.0 570.5,1693.7 592.7,1691.6 617.2,1685.2 639.9,1683.5 662.5,1698.0 685.1,1704.8 708.2,1699.7 730.8,1701.4 753.5,1704.8 776.1,1695.0 799.1,1703.6 821.8,1691.6 844.4,1683.9 867.0,1680.9 889.7,1681.8 912.7,1685.6 935.4,1715.1 958.0,1722.3 980.6,1724.5 1003.3,1728.8 1026.3,1724.5 1049.0,1725.3 1071.6,1728.8 1094.2,1727.9 1116.9,1717.2 1139.9,1713.4 1161.0,1711.2 1183.6,1712.1 1206.3,1716.8 1229.3,1715.9 1252.0,1702.3 1274.6,1707.4 1297.2,1699.7 1319.9,1701.4 1342.5,1713.4 1365.6,1706.5 1388.2,1704.4 1410.8,1708.3 1433.5,1698.4 1456.1,1701.0 1479.1,1710.8 1501.8,1710.4 1524.4,1713.0 1547.0,1713.0 1569.7,1715.1 1592.3,1715.1 1615.4,1697.6 1638.0,1702.7 1660.6,1704.4 1683.3,1697.6" fill="none" stroke="#ff0000" stroke-width="2.00" stroke-linejoin="round" />
<polyline points="116.6,1770.2 140.1,1768.0 162.3,1764.2 184.9,1740.7 208.0,1736.0 230.6,1715.9 253.2,1721.1 276.3,1723.2 298.9,1720.6 321.6,1721.1 344.2,1719.8 366.4,1716.8 389.5,1708.7 412.1,1715.9 434.3,1716.4 456.9,1713.0 480.4,1701.4 502.6,1702.7 525.3,1700.6 547.9,1697.6 570.5,1692.0 592.7,1689.0 617.2,1698.4 639.9,1689.9 662.5,1677.1 685.1,1677.1 708.2,1669.0 730.8,1676.7 753.5,1706.5 776.1,1726.2 799.1,1733.0 821.8,1735.6 844.4,1729.6 867.0,1728.8 889.7,1726.6 912.7,1722.8 935.4,1723.2 958.0,1720.2 980.6,1715.1 1003.3,1710.4 1026.3,1713.8 1049.0,1698.9 1071.6,1689.5 1094.2,1683.5 1116.9,1679.2 1139.9,1674.5 1161.0,1673.7 1183.6,1674.1 1206.3,1676.7 1229.3,1661.3 1252.0,1650.2 1274.6,1661.7 1297.2,1680.9 1319.9,1692.9 1342.5,1685.6 1365.6,1678.8 1388.2,1678.4 1410.8,1667.7 1433.5,1680.5 1456.1,1676.7 1479.1,1664.3 1501.8,1663.0 1524.4,1658.3 1547.0,1661.7 1569.7,1654.4 1592.3,1648.0 1615.4,1663.8 1638.0,1661.7 1660.6,1651.9 1683.3,1655.3" fill="none" stroke="#008000" stroke-width="2.00" stroke-linejoin="round" />
<polyline points="116.6,1673.7 140.1,1653.2 162.3,1648.9 184.9,1628.0 208.0,1626.3 230.6,1624.6 253.2,1627.1 276.3,1627.1 298.9,1622.0 321.6,1624.1 344.2,1622.8 366.4,1625.4 389.5,1618.6 412.1,1618.6 434.3,1621.6 456.9,1617.3 480.4,1610.9 502.6,1609.2 525.3,1612.6 547.9,1610.5 570.5,1610.0 592.7,1610.9 617.2,1612.6 639.9,1610.9 662.5,1613.0 685.1,1613.5 708.2,1617.7 730.8,1619.0 753.5,1618.6 776.1,1616.4 799.1,1618.6 821.8,1616.4 844.4,1614.7 867.0,1615.6 889.7,1613.5 912.7,1612.6 935.4,1616.9 958.0,1616.0 980.6,1614.3 1003.3,1613.5 1026.3,1611.7 1049.0,1610.9 1071.6,1611.7 1094.2,1612.6 1116.9,1610.9 1139.9,1610.9 1161.0,1613.9 1183.6,1613.9 1206.3,1611.3 1229.3,1616.0 1252.0,1620.3 1274.6,1617.3 1297.2,1607.0 1319.9,1608.8 1342.5,1610.5 1365.6,1609.6 1388.2,1609.2 1410.8,1612.2 1433.5,1609.6 1456.1,1609.2 1479.1,1614.3 1501.8,1615.6 1524.4,1617.7 1547.0,1616.9 1569.7,1620.3 1592.3,1620.7 1615.4,1610.5 1638.0,1612.6 1660.6,1619.0 1683.3,1616.0" fill="none" stroke="#0000ff" stroke-width="2.00" stroke-linejoin="round" />
<polyline points="116.6,1614.3 140.1,1612.2 162.3,1612.2 184.9,1614.7 208.0,1610.9 230.6,1613.5 253.2,1613.9 276.3,1613.9 298.9,1613.9 321.6,1613.9 344.2,1613.5 366.4,1614.7 389.5,1616.4 412.1,1615.2 434.3,1617.3 456.9,1613.5 480.4,1610.0 502.6,1608.3 525.3,1611.3 547.9,1610.0 570.5,1609.6 592.7,1610.5 617.2,1611.7 639.9,1609.6 662.5,1610.9 685.1,1610.9 708.2,1613.5 730.8,1616.4 753.5,1617.7 776.1,1610.9 799.1,1610.0 821.8,1607.0 844.4,1607.0 867.0,1607.9 889.7,1607.0 912.7,1607.9 935.4,1610.0 958.0,1608.3 980.6,1607.0 1003.3,1606.2 1026.3,1605.3 1049.0,1605.8 1071.6,1605.3 1094.2,1605.8 1116.9,1606.6 1139.9,1606.6 1161.0,1609.6 1183.6,1609.6 1206.3,1606.6 1229.3,1606.2 1252.0,1607.0 1274.6,1609.6 1297.2,1605.8 1319.9,1608.3 1342.5,1608.3 1365.6,1607.5 1388.2,1607.0 1410.8,1607.0 1433.5,1608.3 1456.1,1607.0 1479.1,1607.0 1501.8,1607.5 1524.4,1607.5 1547.0,1607.9 1569.7,1607.5 1592.3,1604.5 1615.4,1605.3 1638.0,1607.5 1660.6,1604.1 1683.3,1606.6" fill="none" stroke="#000000" stroke-width="2.00" stroke-linejoin="round" />
</g>
<path d="M140.5 1778.0v-7.4M140.5 1589.0v8.5M367.5 1778.0v-7.4M367.5 1589.0v8.5M594.5 1778.0v-7.4M594.5 1589.0v8.5M821.5 1778.0v-7.4M821.5 1589.0v8.5M1048.5 1778.0v-7.4M1048.5 1589.0v8.5M1276.5 1778.0v-7.4M1276.5 1589.0v8.5M1503.5 1778.0v-7.4M1503.5 1589.0v8.5M117.0 1751.5h8.5M117.0 1724.5h8.5M117.0 1697.5h8.5M117.0 1670.5h8.5M117.0 1643.5h8.5M117.0 1616.5h8.5M1683.0 1751.5h-7.4M1683.0 1724.5h-7.4M1683.0 1697.5h-7.4M1683.0 1670.5h-7.4M1683.0 1643.5h-7.4M1683.0 1616.5h-7.4" stroke="#000" stroke-width="1" fill="none" shape-rendering="crispEdges"/>
<rect x="117.0" y="1589.0" width="1566.0" height="189.0" fill="none" stroke="#000" stroke-width="2.00"/>
<text x="140.1" y="1800.3" font-size="16.86" text-anchor="middle" fill="#000" textLength="99.1" lengthAdjust="spacingAndGlyphs" >07/26 10:14</text>
<text x="367.3" y="1800.3" font-size="16.86" text-anchor="middle" fill="#000" textLength="99.1" lengthAdjust="spacingAndGlyphs" >07/26 10:24</text>
<text x="594.5" y="1800.3" font-size="16.86" text-anchor="middle" fill="#000" textLength="99.1" lengthAdjust="spacingAndGlyphs" >07/26 10:34</text>
<text x="821.7" y="1800.3" font-size="16.86" text-anchor="middle" fill="#000" textLength="99.1" lengthAdjust="spacingAndGlyphs" >07/26 10:44</text>
<text x="1048.9" y="1800.3" font-size="16.86" text-anchor="middle" fill="#000" textLength="99.1" lengthAdjust="spacingAndGlyphs" >07/26 10:54</text>
<text x="1276.1" y="1800.3" font-size="16.86" text-anchor="middle" fill="#000" textLength="99.1" lengthAdjust="spacingAndGlyphs" >07/26 11:04</text>
<text x="1503.3" y="1800.3" font-size="16.86" text-anchor="middle" fill="#000" textLength="99.1" lengthAdjust="spacingAndGlyphs" >07/26 11:14</text>
<text x="108.0" y="1782.7" font-size="16.86" text-anchor="end" fill="#000" textLength="23.3" lengthAdjust="spacingAndGlyphs" >−6</text>
<text x="108.0" y="1755.7" font-size="16.86" text-anchor="end" fill="#000" textLength="23.3" lengthAdjust="spacingAndGlyphs" >−4</text>
<text x="108.0" y="1728.7" font-size="16.86" text-anchor="end" fill="#000" textLength="23.3" lengthAdjust="spacingAndGlyphs" >−2</text>
<text x="108.0" y="1701.7" font-size="16.86" text-anchor="end" fill="#000" >0</text>
<text x="108.0" y="1674.7" font-size="16.86" text-anchor="end" fill="#000" >2</text>
<text x="108.0" y="1647.7" font-size="16.86" text-anchor="end" fill="#000" >4</text>
<text x="108.0" y="1620.7" font-size="16.86" text-anchor="end" fill="#000" >6</text>
<text x="108.0" y="1593.7" font-size="16.86" text-anchor="end" fill="#000" >8</text>
<text x="900.0" y="1579.4" font-size="23.68" text-anchor="middle" fill="#000" textLength="383.1" lengthAdjust="spacingAndGlyphs" >Magnetic Field (Flux Rope Frame)</text>
<text x="69.5" y="1686.5" font-size="16.86" text-anchor="middle" fill="#000" textLength="43.6" lengthAdjust="spacingAndGlyphs" transform="rotate(-90 69.5 1686.5)" >B(nT)</text>
<rect x="1601.0" y="1596.0" width="75.0" height="94.0" fill="#fff" stroke="#000" stroke-width="2.00"/>
<polyline points="1609.8,1609.2 1631.6,1609.2" fill="none" stroke="#ff0000" stroke-width="2.00" stroke-linejoin="round" />
<polyline points="1609.8,1631.4 1631.6,1631.4" fill="none" stroke="#008000" stroke-width="2.00" stroke-linejoin="round" />
<polyline points="1609.8,1653.6 1631.6,1653.6" fill="none" stroke="#0000ff" stroke-width="2.00" stroke-linejoin="round" />
<polyline points="1609.8,1675.8 1631.6,1675.8" fill="none" stroke="#000000" stroke-width="2.00" stroke-linejoin="round" />
<text x="1648.7" y="1614.4" font-size="14.76" text-anchor="start" fill="#000" textLength="21.5" lengthAdjust="spacingAndGlyphs" >Bx'</text>
<text x="1648.7" y="1636.6" font-size="14.76" text-anchor="start" fill="#000" textLength="21.5" lengthAdjust="spacingAndGlyphs" >By'</text>
<text x="1648.7" y="1658.8" font-size="14.76" text-anchor="start" fill="#000" textLength="20.5" lengthAdjust="spacingAndGlyphs" >Bz'</text>
<text x="1648.7" y="1681.0" font-size="14.76" text-anchor="start" fill="#000" textLength="18.7" lengthAdjust="spacingAndGlyphs" >|B|</text>
<g shape-rendering="crispEdges">
<rect x="117.0" y="1881.45" width="23.0" height="6.60" fill="#d3ff23"/>
<rect x="117.0" y="1887.75" width="23.0" height="6.60" fill="#d6ff20"/>
<rect x="117.0" y="1894.05" width="23.0" height="6.60" fill="#e9ff0e"/>
<rect x="117.0" y="1900.35" width="23.0" height="6.60" fill="#ebff0b"/>
<rect x="117.0" y="1906.65" width="23.0" height="6.60" fill="#c1ff36"/>
<rect x="117.0" y="1912.95" width="23.0" height="6.60" fill="#fbf100"/>
<rect x="117.0" y="1919.25" width="23.0" height="6.60" fill="#d1ff26"/>
<rect x="117.0" y="1925.55" width="23.0" height="6.60" fill="#eeff09"/>
<rect x="117.0" y="1931.85" width="23.0" height="6.60" fill="#fdef00"/>
<rect x="117.0" y="1938.15" width="23.0" height="6.60" fill="#fcef00"/>
<rect x="117.0" y="1944.45" width="23.0" height="6.60" fill="#effe07"/>
<rect x="117.0" y="1950.75" width="23.0" height="6.60" fill="#eaff0d"/>
<rect x="117.0" y="1957.05" width="23.0" height="6.60" fill="#eeff09"/>
<rect x="117.0" y="1963.35" width="23.0" height="6.60" fill="#d6ff21"/>
<rect x="117.0" y="1969.65" width="23.0" height="6.60" fill="#ecff0b"/>
<rect x="117.0" y="1975.95" width="23.0" height="6.60" fill="#a1ff56"/>
<rect x="117.0" y="1982.25" width="23.0" height="6.60" fill="#ecff0b"/>
<rect x="117.0" y="1988.55" width="23.0" height="6.60" fill="#daff1d"/>
<rect x="117.0" y="1994.85" width="23.0" height="6.60" fill="#ffec00"/>
<rect x="117.0" y="2001.15" width="23.0" height="6.60" fill="#edff0a"/>
<rect x="117.0" y="2007.45" width="23.0" height="6.60" fill="#ffce00"/>
<rect x="117.0" y="2013.75" width="23.0" height="6.60" fill="#ffd500"/>
<rect x="117.0" y="2020.05" width="23.0" height="6.60" fill="#ffb100"/>
<rect x="117.0" y="2026.35" width="23.0" height="6.60" fill="#ffb200"/>
<rect x="117.0" y="2032.65" width="23.0" height="6.60" fill="#ffb600"/>
<rect x="117.0" y="2038.95" width="23.0" height="6.60" fill="#ffd500"/>
<rect x="139.7" y="1881.45" width="23.0" height="6.60" fill="#7fff78"/>
<rect x="139.7" y="1887.75" width="23.0" height="6.60" fill="#a4ff53"/>
<rect x="139.7" y="1894.05" width="23.0" height="6.60" fill="#d8ff1f"/>
<rect x="139.7" y="1900.35" width="23.0" height="6.60" fill="#c3ff33"/>
<rect x="139.7" y="1906.65" width="23.0" height="6.60" fill="#edff0a"/>
<rect x="139.7" y="1912.95" width="23.0" height="6.60" fill="#efff08"/>
<rect x="139.7" y="1919.25" width="23.0" height="6.60" fill="#e9ff0d"/>
<rect x="139.7" y="1925.55" width="23.0" height="6.60" fill="#ffe900"/>
<rect x="139.7" y="1931.85" width="23.0" height="6.60" fill="#eaff0d"/>
<rect x="139.7" y="1938.15" width="23.0" height="6.60" fill="#efff08"/>
<rect x="139.7" y="1944.45" width="23.0" height="6.60" fill="#eeff09"/>
<rect x="139.7" y="1950.75" width="23.0" height="6.60" fill="#e6ff10"/>
<rect x="139.7" y="1957.05" width="23.0" height="6.60" fill="#e7ff10"/>
<rect x="139.7" y="1963.35" width="23.0" height="6.60" fill="#d3ff24"/>
<rect x="139.7" y="1969.65" width="23.0" height="6.60" fill="#effe08"/>
<rect x="139.7" y="1975.95" width="23.0" height="6.60" fill="#eaff0d"/>
<rect x="139.7" y="1982.25" width="23.0" height="6.60" fill="#ffeb00"/>
<rect x="139.7" y="1988.55" width="23.0" height="6.60" fill="#ffd200"/>
<rect x="139.7" y="1994.85" width="23.0" height="6.60" fill="#ebff0c"/>
<rect x="139.7" y="2001.15" width="23.0" height="6.60" fill="#e9ff0d"/>
<rect x="139.7" y="2007.45" width="23.0" height="6.60" fill="#ffd100"/>
<rect x="139.7" y="2013.75" width="23.0" height="6.60" fill="#ffcf00"/>
<rect x="139.7" y="2020.05" width="23.0" height="6.60" fill="#a5ff51"/>
<rect x="139.7" y="2026.35" width="23.0" height="6.60" fill="#ffcb00"/>
<rect x="139.7" y="2032.65" width="23.0" height="6.60" fill="#d8ff1f"/>
<rect x="139.7" y="2038.95" width="23.0" height="6.60" fill="#daff1d"/>
<rect x="162.4" y="1900.35" width="23.0" height="6.60" fill="#d9ff1d"/>
<rect x="162.4" y="1906.65" width="23.0" height="6.60" fill="#ffe700"/>
<rect x="162.4" y="1912.95" width="23.0" height="6.60" fill="#d8ff1f"/>
<rect x="162.4" y="1919.25" width="23.0" height="6.60" fill="#fcf000"/>
<rect x="162.4" y="1925.55" width="23.0" height="6.60" fill="#eeff09"/>
<rect x="162.4" y="1931.85" width="23.0" height="6.60" fill="#ffe700"/>
<rect x="162.4" y="1938.15" width="23.0" height="6.60" fill="#eeff08"/>
<rect x="162.4" y="1944.45" width="23.0" height="6.60" fill="#ebff0c"/>
<rect x="162.4" y="1950.75" width="23.0" height="6.60" fill="#edff0a"/>
<rect x="162.4" y="1957.05" width="23.0" height="6.60" fill="#e8ff0f"/>
<rect x="162.4" y="1963.35" width="23.0" height="6.60" fill="#eeff09"/>
<rect x="162.4" y="1969.65" width="23.0" height="6.60" fill="#ffeb00"/>
<rect x="162.4" y="1975.95" width="23.0" height="6.60" fill="#fdef00"/>
<rect x="162.4" y="1982.25" width="23.0" height="6.60" fill="#fbf100"/>
<rect x="162.4" y="1988.55" width="23.0" height="6.60" fill="#eeff09"/>
<rect x="162.4" y="1994.85" width="23.0" height="6.60" fill="#effe08"/>
<rect x="162.4" y="2001.15" width="23.0" height="6.60" fill="#fbf100"/>
<rect x="162.4" y="2007.45" width="23.0" height="6.60" fill="#d9ff1e"/>
<rect x="162.4" y="2013.75" width="23.0" height="6.60" fill="#ffc300"/>
<rect x="162.4" y="2026.35" width="23.0" height="6.60" fill="#d2ff24"/>
<rect x="185.1" y="1875.15" width="23.0" height="6.60" fill="#8eff69"/>
<rect x="185.1" y="1881.45" width="23.0" height="6.60" fill="#a7ff50"/>
<rect x="185.1" y="1887.75" width="23.0" height="6.60" fill="#daff1d"/>
<rect x="185.1" y="1894.05" width="23.0" height="6.60" fill="#d1ff25"/>
<rect x="185.1" y="1900.35" width="23.0" height="6.60" fill="#a6ff51"/>
<rect x="185.1" y="1906.65" width="23.0" height="6.60" fill="#d1ff25"/>
<rect x="185.1" y="1912.95" width="23.0" height="6.60" fill="#d8ff1f"/>
<rect x="185.1" y="1919.25" width="23.0" height="6.60" fill="#e9ff0e"/>
<rect x="185.1" y="1925.55" width="23.0" height="6.60" fill="#eeff09"/>
<rect x="185.1" y="1931.85" width="23.0" height="6.60" fill="#dbff1c"/>
<rect x="185.1" y="1938.15" width="23.0" height="6.60" fill="#d6ff21"/>
<rect x="185.1" y="1944.45" width="23.0" height="6.60" fill="#effe07"/>
<rect x="185.1" y="1950.75" width="23.0" height="6.60" fill="#e9ff0e"/>
<rect x="185.1" y="1957.05" width="23.0" height="6.60" fill="#e6ff11"/>
<rect x="185.1" y="1963.35" width="23.0" height="6.60" fill="#ebff0b"/>
<rect x="185.1" y="1969.65" width="23.0" height="6.60" fill="#e6ff11"/>
<rect x="185.1" y="1975.95" width="23.0" height="6.60" fill="#e7ff0f"/>
<rect x="185.1" y="1982.25" width="23.0" height="6.60" fill="#feed00"/>
<rect x="185.1" y="1988.55" width="23.0" height="6.60" fill="#ffcf00"/>
<rect x="185.1" y="1994.85" width="23.0" height="6.60" fill="#ffd400"/>
<rect x="185.1" y="2001.15" width="23.0" height="6.60" fill="#faf100"/>
<rect x="185.1" y="2007.45" width="23.0" height="6.60" fill="#ffcc00"/>
<rect x="185.1" y="2013.75" width="23.0" height="6.60" fill="#ffd200"/>
<rect x="185.1" y="2020.05" width="23.0" height="6.60" fill="#ffe700"/>
<rect x="185.1" y="2026.35" width="23.0" height="6.60" fill="#a8ff4e"/>
<rect x="185.1" y="2032.65" width="23.0" height="6.60" fill="#a3ff53"/>
<rect x="207.8" y="1881.45" width="23.0" height="6.60" fill="#52ffa5"/>
<rect x="207.8" y="1887.75" width="23.0" height="6.60" fill="#d6ff21"/>
<rect x="207.8" y="1894.05" width="23.0" height="6.60" fill="#d7ff1f"/>
<rect x="207.8" y="1900.35" width="23.0" height="6.60" fill="#ebff0b"/>
<rect x="207.8" y="1906.65" width="23.0" height="6.60" fill="#d6ff20"/>
<rect x="207.8" y="1912.95" width="23.0" height="6.60" fill="#a6ff51"/>
<rect x="207.8" y="1919.25" width="23.0" height="6.60" fill="#80ff77"/>
<rect x="207.8" y="1925.55" width="23.0" height="6.60" fill="#7bff7b"/>
<rect x="207.8" y="1931.85" width="23.0" height="6.60" fill="#a4ff53"/>
<rect x="207.8" y="1938.15" width="23.0" height="6.60" fill="#ffea00"/>
<rect x="207.8" y="1944.45" width="23.0" height="6.60" fill="#e8ff0f"/>
<rect x="207.8" y="1950.75" width="23.0" height="6.60" fill="#79ff7d"/>
<rect x="207.8" y="1957.05" width="23.0" height="6.60" fill="#80ff77"/>
<rect x="207.8" y="1963.35" width="23.0" height="6.60" fill="#7cff7b"/>
<rect x="207.8" y="1969.65" width="23.0" height="6.60" fill="#90ff66"/>
<rect x="207.8" y="1975.95" width="23.0" height="6.60" fill="#a0ff57"/>
<rect x="207.8" y="1982.25" width="23.0" height="6.60" fill="#feed00"/>
<rect x="207.8" y="1988.55" width="23.0" height="6.60" fill="#ffcf00"/>
<rect x="207.8" y="1994.85" width="23.0" height="6.60" fill="#a0ff57"/>
<rect x="207.8" y="2007.45" width="23.0" height="6.60" fill="#a6ff51"/>
<rect x="207.8" y="2013.75" width="23.0" height="6.60" fill="#ecff0b"/>
<rect x="207.8" y="2020.05" width="23.0" height="6.60" fill="#ffb800"/>
<rect x="207.8" y="2026.35" width="23.0" height="6.60" fill="#ff9100"/>
<rect x="207.8" y="2032.65" width="23.0" height="6.60" fill="#ff9300"/>
<rect x="230.5" y="1881.45" width="23.0" height="6.60" fill="#ecff0b"/>
<rect x="230.5" y="1887.75" width="23.0" height="6.60" fill="#e0ff17"/>
<rect x="230.5" y="1894.05" width="23.0" height="6.60" fill="#d8ff1f"/>
<rect x="230.5" y="1900.35" width="23.0" height="6.60" fill="#d8ff1f"/>
<rect x="230.5" y="1906.65" width="23.0" height="6.60" fill="#d1ff26"/>
<rect x="230.5" y="1912.95" width="23.0" height="6.60" fill="#a0ff57"/>
<rect x="230.5" y="1931.85" width="23.0" height="6.60" fill="#ecff0b"/>
<rect x="230.5" y="1938.15" width="23.0" height="6.60" fill="#effe08"/>
<rect x="230.5" y="1944.45" width="23.0" height="6.60" fill="#ffe100"/>
<rect x="230.5" y="1950.75" width="23.0" height="6.60" fill="#a4ff53"/>
<rect x="230.5" y="1975.95" width="23.0" height="6.60" fill="#ebff0b"/>
<rect x="230.5" y="1982.25" width="23.0" height="6.60" fill="#fdee00"/>
<rect x="230.5" y="1988.55" width="23.0" height="6.60" fill="#feee00"/>
<rect x="230.5" y="2007.45" width="23.0" height="6.60" fill="#a3ff54"/>
<rect x="230.5" y="2013.75" width="23.0" height="6.60" fill="#ffd100"/>
<rect x="230.5" y="2020.05" width="23.0" height="6.60" fill="#ffb200"/>
<rect x="230.5" y="2026.35" width="23.0" height="6.60" fill="#ffa600"/>
<rect x="253.2" y="1881.45" width="23.0" height="6.60" fill="#d5ff22"/>
<rect x="253.2" y="1887.75" width="23.0" height="6.60" fill="#d9ff1e"/>
<rect x="253.2" y="1894.05" width="23.0" height="6.60" fill="#e6ff11"/>
<rect x="253.2" y="1900.35" width="23.0" height="6.60" fill="#d7ff20"/>
<rect x="253.2" y="1906.65" width="23.0" height="6.60" fill="#d8ff1f"/>
<rect x="253.2" y="1912.95" width="23.0" height="6.60" fill="#a3ff54"/>
<rect x="253.2" y="1931.85" width="23.0" height="6.60" fill="#d3ff24"/>
<rect x="253.2" y="1938.15" width="23.0" height="6.60" fill="#edff09"/>
<rect x="253.2" y="1944.45" width="23.0" height="6.60" fill="#e8ff0f"/>
<rect x="253.2" y="1950.75" width="23.0" height="6.60" fill="#a1ff55"/>
<rect x="253.2" y="1975.95" width="23.0" height="6.60" fill="#eaff0d"/>
<rect x="253.2" y="1982.25" width="23.0" height="6.60" fill="#ffea00"/>
<rect x="253.2" y="1988.55" width="23.0" height="6.60" fill="#fbf100"/>
<rect x="253.2" y="2007.45" width="23.0" height="6.60" fill="#fdee00"/>
<rect x="253.2" y="2013.75" width="23.0" height="6.60" fill="#ffd200"/>
<rect x="253.2" y="2020.05" width="23.0" height="6.60" fill="#ffb000"/>
<rect x="253.2" y="2026.35" width="23.0" height="6.60" fill="#ffa400"/>
<rect x="253.2" y="2032.65" width="23.0" height="6.60" fill="#d9ff1d"/>
<rect x="275.9" y="1881.45" width="23.0" height="6.60" fill="#a1ff56"/>
<rect x="275.9" y="1887.75" width="23.0" height="6.60" fill="#d4ff23"/>
<rect x="275.9" y="1894.05" width="23.0" height="6.60" fill="#d7ff1f"/>
<rect x="275.9" y="1900.35" width="23.0" height="6.60" fill="#daff1d"/>
<rect x="275.9" y="1906.65" width="23.0" height="6.60" fill="#d5ff21"/>
<rect x="275.9" y="1912.95" width="23.0" height="6.60" fill="#a2ff55"/>
<rect x="275.9" y="1931.85" width="23.0" height="6.60" fill="#d2ff25"/>
<rect x="275.9" y="1938.15" width="23.0" height="6.60" fill="#ffec00"/>
<rect x="275.9" y="1944.45" width="23.0" height="6.60" fill="#e7ff0f"/>
<rect x="275.9" y="1950.75" width="23.0" height="6.60" fill="#7eff78"/>
<rect x="275.9" y="1975.95" width="23.0" height="6.60" fill="#eeff09"/>
<rect x="275.9" y="1982.25" width="23.0" height="6.60" fill="#fcf000"/>
<rect x="275.9" y="1988.55" width="23.0" height="6.60" fill="#e8ff0f"/>
<rect x="275.9" y="2007.45" width="23.0" height="6.60" fill="#ffe900"/>
<rect x="275.9" y="2013.75" width="23.0" height="6.60" fill="#ffce00"/>
<rect x="275.9" y="2020.05" width="23.0" height="6.60" fill="#ffb000"/>
<rect x="275.9" y="2026.35" width="23.0" height="6.60" fill="#ffa500"/>
<rect x="275.9" y="2032.65" width="23.0" height="6.60" fill="#ffb800"/>
<rect x="298.6" y="1875.15" width="23.0" height="6.60" fill="#beff39"/>
<rect x="298.6" y="1881.45" width="23.0" height="6.60" fill="#edff09"/>
<rect x="298.6" y="1887.75" width="23.0" height="6.60" fill="#d4ff23"/>
<rect x="298.6" y="1894.05" width="23.0" height="6.60" fill="#a3ff54"/>
<rect x="298.6" y="1900.35" width="23.0" height="6.60" fill="#a4ff53"/>
<rect x="298.6" y="1906.65" width="23.0" height="6.60" fill="#d5ff22"/>
<rect x="298.6" y="1912.95" width="23.0" height="6.60" fill="#d5ff22"/>
<rect x="298.6" y="1919.25" width="23.0" height="6.60" fill="#daff1d"/>
<rect x="298.6" y="1925.55" width="23.0" height="6.60" fill="#d2ff24"/>
<rect x="298.6" y="1931.85" width="23.0" height="6.60" fill="#d1ff26"/>
<rect x="298.6" y="1938.15" width="23.0" height="6.60" fill="#daff1d"/>
<rect x="298.6" y="1944.45" width="23.0" height="6.60" fill="#94ff63"/>
<rect x="298.6" y="1950.75" width="23.0" height="6.60" fill="#effe08"/>
<rect x="298.6" y="1957.05" width="23.0" height="6.60" fill="#a4ff53"/>
<rect x="298.6" y="1963.35" width="23.0" height="6.60" fill="#a9ff4e"/>
<rect x="298.6" y="1969.65" width="23.0" height="6.60" fill="#a9ff4e"/>
<rect x="298.6" y="1975.95" width="23.0" height="6.60" fill="#d3ff24"/>
<rect x="298.6" y="1982.25" width="23.0" height="6.60" fill="#a7ff50"/>
<rect x="298.6" y="1988.55" width="23.0" height="6.60" fill="#ffe800"/>
<rect x="298.6" y="1994.85" width="23.0" height="6.60" fill="#ecff0b"/>
<rect x="298.6" y="2001.15" width="23.0" height="6.60" fill="#ebff0c"/>
<rect x="298.6" y="2007.45" width="23.0" height="6.60" fill="#ffc400"/>
<rect x="298.6" y="2013.75" width="23.0" height="6.60" fill="#ffc300"/>
<rect x="298.6" y="2020.05" width="23.0" height="6.60" fill="#ffc500"/>
<rect x="298.6" y="2026.35" width="23.0" height="6.60" fill="#e6ff11"/>
<rect x="298.6" y="2032.65" width="23.0" height="6.60" fill="#ffeb00"/>
<rect x="321.3" y="1875.15" width="23.0" height="6.60" fill="#61ff96"/>
<rect x="321.3" y="1881.45" width="23.0" height="6.60" fill="#d9ff1e"/>
<rect x="321.3" y="1887.75" width="23.0" height="6.60" fill="#e6ff11"/>
<rect x="321.3" y="1894.05" width="23.0" height="6.60" fill="#eeff08"/>
<rect x="321.3" y="1900.35" width="23.0" height="6.60" fill="#d8ff1f"/>
<rect x="321.3" y="1906.65" width="23.0" height="6.60" fill="#daff1d"/>
<rect x="321.3" y="1912.95" width="23.0" height="6.60" fill="#daff1d"/>
<rect x="321.3" y="1919.25" width="23.0" height="6.60" fill="#a8ff4e"/>
<rect x="321.3" y="1925.55" width="23.0" height="6.60" fill="#a5ff51"/>
<rect x="321.3" y="1931.85" width="23.0" height="6.60" fill="#e6ff11"/>
<rect x="321.3" y="1938.15" width="23.0" height="6.60" fill="#d8ff1e"/>
<rect x="321.3" y="1944.45" width="23.0" height="6.60" fill="#a1ff55"/>
<rect x="321.3" y="1950.75" width="23.0" height="6.60" fill="#d4ff23"/>
<rect x="321.3" y="1957.05" width="23.0" height="6.60" fill="#92ff65"/>
<rect x="321.3" y="1963.35" width="23.0" height="6.60" fill="#7cff7b"/>
<rect x="321.3" y="1969.65" width="23.0" height="6.60" fill="#d5ff22"/>
<rect x="321.3" y="1975.95" width="23.0" height="6.60" fill="#daff1d"/>
<rect x="321.3" y="1982.25" width="23.0" height="6.60" fill="#d7ff20"/>
<rect x="321.3" y="1988.55" width="23.0" height="6.60" fill="#fdee00"/>
<rect x="321.3" y="1994.85" width="23.0" height="6.60" fill="#d3ff23"/>
<rect x="321.3" y="2001.15" width="23.0" height="6.60" fill="#d9ff1d"/>
<rect x="321.3" y="2007.45" width="23.0" height="6.60" fill="#ffc200"/>
<rect x="321.3" y="2013.75" width="23.0" height="6.60" fill="#ffcd00"/>
<rect x="321.3" y="2020.05" width="23.0" height="6.60" fill="#ffd100"/>
<rect x="321.3" y="2026.35" width="23.0" height="6.60" fill="#ffc500"/>
<rect x="321.3" y="2032.65" width="23.0" height="6.60" fill="#d6ff21"/>
<rect x="321.3" y="2038.95" width="23.0" height="6.60" fill="#d9ff1e"/>
<rect x="344.0" y="1875.15" width="23.0" height="6.60" fill="#e7ff10"/>
<rect x="344.0" y="1881.45" width="23.0" height="6.60" fill="#edff09"/>
<rect x="344.0" y="1887.75" width="23.0" height="6.60" fill="#a9ff4e"/>
<rect x="344.0" y="1894.05" width="23.0" height="6.60" fill="#a8ff4f"/>
<rect x="344.0" y="1900.35" width="23.0" height="6.60" fill="#eeff09"/>
<rect x="344.0" y="1906.65" width="23.0" height="6.60" fill="#d1ff26"/>
<rect x="344.0" y="1912.95" width="23.0" height="6.60" fill="#a6ff51"/>
<rect x="344.0" y="1919.25" width="23.0" height="6.60" fill="#d9ff1d"/>
<rect x="344.0" y="1925.55" width="23.0" height="6.60" fill="#d1ff25"/>
<rect x="344.0" y="1931.85" width="23.0" height="6.60" fill="#e8ff0f"/>
<rect x="344.0" y="1938.15" width="23.0" height="6.60" fill="#d4ff23"/>
<rect x="344.0" y="1944.45" width="23.0" height="6.60" fill="#ffde00"/>
<rect x="344.0" y="1950.75" width="23.0" height="6.60" fill="#eaff0d"/>
<rect x="344.0" y="1957.05" width="23.0" height="6.60" fill="#a4ff53"/>
<rect x="344.0" y="1963.35" width="23.0" height="6.60" fill="#7eff79"/>
<rect x="344.0" y="1969.65" width="23.0" height="6.60" fill="#d1ff26"/>
<rect x="344.0" y="1975.95" width="23.0" height="6.60" fill="#e6ff11"/>
<rect x="344.0" y="1982.25" width="23.0" height="6.60" fill="#e7ff10"/>
<rect x="344.0" y="1988.55" width="23.0" height="6.60" fill="#ffd400"/>
<rect x="344.0" y="1994.85" width="23.0" height="6.60" fill="#ffe300"/>
<rect x="344.0" y="2001.15" width="23.0" height="6.60" fill="#a9ff4e"/>
<rect x="344.0" y="2007.45" width="23.0" height="6.60" fill="#ffcc00"/>
<rect x="344.0" y="2013.75" width="23.0" height="6.60" fill="#ffb800"/>
<rect x="344.0" y="2020.05" width="23.0" height="6.60" fill="#ffa300"/>
<rect x="344.0" y="2026.35" width="23.0" height="6.60" fill="#d4ff23"/>
<rect x="366.7" y="1875.15" width="23.0" height="6.60" fill="#a3ff54"/>
<rect x="366.7" y="1881.45" width="23.0" height="6.60" fill="#a3ff54"/>
<rect x="366.7" y="1887.75" width="23.0" height="6.60" fill="#d7ff1f"/>
<rect x="366.7" y="1894.05" width="23.0" height="6.60" fill="#d7ff20"/>
<rect x="366.7" y="1900.35" width="23.0" height="6.60" fill="#d4ff22"/>
<rect x="366.7" y="1906.65" width="23.0" height="6.60" fill="#e7ff0f"/>
<rect x="366.7" y="1912.95" width="23.0" height="6.60" fill="#a3ff54"/>
<rect x="366.7" y="1919.25" width="23.0" height="6.60" fill="#4fffa8"/>
<rect x="366.7" y="1925.55" width="23.0" height="6.60" fill="#a5ff52"/>
<rect x="366.7" y="1931.85" width="23.0" height="6.60" fill="#ffea00"/>
<rect x="366.7" y="1938.15" width="23.0" height="6.60" fill="#d5ff22"/>
<rect x="366.7" y="1944.45" width="23.0" height="6.60" fill="#e6ff10"/>
<rect x="366.7" y="1950.75" width="23.0" height="6.60" fill="#d3ff24"/>
<rect x="366.7" y="1957.05" width="23.0" height="6.60" fill="#7aff7d"/>
<rect x="366.7" y="1963.35" width="23.0" height="6.60" fill="#7cff7a"/>
<rect x="366.7" y="1969.65" width="23.0" height="6.60" fill="#a7ff4f"/>
<rect x="366.7" y="1975.95" width="23.0" height="6.60" fill="#e9ff0e"/>
<rect x="366.7" y="1988.55" width="23.0" height="6.60" fill="#ffe900"/>
<rect x="366.7" y="1994.85" width="23.0" height="6.60" fill="#ffeb00"/>
<rect x="366.7" y="2001.15" width="23.0" height="6.60" fill="#a4ff53"/>
<rect x="366.7" y="2007.45" width="23.0" height="6.60" fill="#e9ff0e"/>
<rect x="366.7" y="2013.75" width="23.0" height="6.60" fill="#ffde00"/>
<rect x="366.7" y="2020.05" width="23.0" height="6.60" fill="#ffb100"/>
<rect x="366.7" y="2026.35" width="23.0" height="6.60" fill="#ffd100"/>
<rect x="366.7" y="2032.65" width="23.0" height="6.60" fill="#ffea00"/>
<rect x="366.7" y="2038.95" width="23.0" height="6.60" fill="#ffed00"/>
<rect x="389.4" y="1875.15" width="23.0" height="6.60" fill="#e8ff0f"/>
<rect x="389.4" y="1881.45" width="23.0" height="6.60" fill="#ebff0c"/>
<rect x="389.4" y="1887.75" width="23.0" height="6.60" fill="#d8ff1f"/>
<rect x="389.4" y="1894.05" width="23.0" height="6.60" fill="#a0ff56"/>
<rect x="389.4" y="1900.35" width="23.0" height="6.60" fill="#d5ff22"/>
<rect x="389.4" y="1906.65" width="23.0" height="6.60" fill="#d5ff22"/>
<rect x="389.4" y="1912.95" width="23.0" height="6.60" fill="#eeff09"/>
<rect x="389.4" y="1919.25" width="23.0" height="6.60" fill="#efff08"/>
<rect x="389.4" y="1925.55" width="23.0" height="6.60" fill="#d5ff22"/>
<rect x="389.4" y="1931.85" width="23.0" height="6.60" fill="#daff1d"/>
<rect x="389.4" y="1938.15" width="23.0" height="6.60" fill="#a7ff4f"/>
<rect x="389.4" y="1944.45" width="23.0" height="6.60" fill="#79ff7e"/>
<rect x="389.4" y="1950.75" width="23.0" height="6.60" fill="#d6ff21"/>
<rect x="389.4" y="1957.05" width="23.0" height="6.60" fill="#d2ff25"/>
<rect x="389.4" y="1963.35" width="23.0" height="6.60" fill="#d9ff1e"/>
<rect x="389.4" y="1969.65" width="23.0" height="6.60" fill="#d7ff1f"/>
<rect x="389.4" y="1975.95" width="23.0" height="6.60" fill="#a8ff4e"/>
<rect x="389.4" y="1988.55" width="23.0" height="6.60" fill="#ffe900"/>
<rect x="389.4" y="1994.85" width="23.0" height="6.60" fill="#ffce00"/>
<rect x="389.4" y="2001.15" width="23.0" height="6.60" fill="#ffcd00"/>
<rect x="389.4" y="2007.45" width="23.0" height="6.60" fill="#ffdd00"/>
<rect x="389.4" y="2013.75" width="23.0" height="6.60" fill="#ffd400"/>
<rect x="389.4" y="2020.05" width="23.0" height="6.60" fill="#ffeb00"/>
<rect x="412.1" y="1875.15" width="23.0" height="6.60" fill="#e6ff11"/>
<rect x="412.1" y="1881.45" width="23.0" height="6.60" fill="#a1ff56"/>
<rect x="412.1" y="1887.75" width="23.0" height="6.60" fill="#d9ff1e"/>
<rect x="412.1" y="1894.05" width="23.0" height="6.60" fill="#d1ff25"/>
<rect x="412.1" y="1900.35" width="23.0" height="6.60" fill="#d2ff25"/>
<rect x="412.1" y="1906.65" width="23.0" height="6.60" fill="#a1ff56"/>
<rect x="412.1" y="1912.95" width="23.0" height="6.60" fill="#eeff09"/>
<rect x="412.1" y="1919.25" width="23.0" height="6.60" fill="#e7ff10"/>
<rect x="412.1" y="1925.55" width="23.0" height="6.60" fill="#d1ff26"/>
<rect x="412.1" y="1931.85" width="23.0" height="6.60" fill="#d9ff1e"/>
<rect x="412.1" y="1950.75" width="23.0" height="6.60" fill="#e7ff10"/>
<rect x="412.1" y="1957.05" width="23.0" height="6.60" fill="#eeff09"/>
<rect x="412.1" y="1963.35" width="23.0" height="6.60" fill="#ecff0b"/>
<rect x="412.1" y="1969.65" width="23.0" height="6.60" fill="#d9ff1e"/>
<rect x="412.1" y="1975.95" width="23.0" height="6.60" fill="#67ff90"/>
<rect x="412.1" y="1988.55" width="23.0" height="6.60" fill="#ffcf00"/>
<rect x="412.1" y="1994.85" width="23.0" height="6.60" fill="#ffcc00"/>
<rect x="412.1" y="2001.15" width="23.0" height="6.60" fill="#ffd500"/>
<rect x="412.1" y="2007.45" width="23.0" height="6.60" fill="#ffbf00"/>
<rect x="412.1" y="2013.75" width="23.0" height="6.60" fill="#ffde00"/>
<rect x="434.8" y="1875.15" width="23.0" height="6.60" fill="#d8ff1f"/>
<rect x="434.8" y="1881.45" width="23.0" height="6.60" fill="#d2ff25"/>
<rect x="434.8" y="1887.75" width="23.0" height="6.60" fill="#a7ff50"/>
<rect x="434.8" y="1894.05" width="23.0" height="6.60" fill="#c4ff33"/>
<rect x="434.8" y="1900.35" width="23.0" height="6.60" fill="#d2ff25"/>
<rect x="434.8" y="1906.65" width="23.0" height="6.60" fill="#d4ff23"/>
<rect x="434.8" y="1912.95" width="23.0" height="6.60" fill="#ebff0c"/>
<rect x="434.8" y="1919.25" width="23.0" height="6.60" fill="#d9ff1e"/>
<rect x="434.8" y="1925.55" width="23.0" height="6.60" fill="#d3ff23"/>
<rect x="434.8" y="1931.85" width="23.0" height="6.60" fill="#d3ff24"/>
<rect x="434.8" y="1938.15" width="23.0" height="6.60" fill="#a2ff55"/>
<rect x="434.8" y="1944.45" width="23.0" height="6.60" fill="#a6ff51"/>
<rect x="434.8" y="1950.75" width="23.0" height="6.60" fill="#d8ff1e"/>
<rect x="434.8" y="1957.05" width="23.0" height="6.60" fill="#d5ff22"/>
<rect x="434.8" y="1963.35" width="23.0" height="6.60" fill="#d5ff22"/>
<rect x="434.8" y="1969.65" width="23.0" height="6.60" fill="#e9ff0d"/>
<rect x="434.8" y="1975.95" width="23.0" height="6.60" fill="#a3ff54"/>
<rect x="434.8" y="1982.25" width="23.0" height="6.60" fill="#a4ff53"/>
<rect x="434.8" y="1988.55" width="23.0" height="6.60" fill="#e6ff10"/>
<rect x="434.8" y="1994.85" width="23.0" height="6.60" fill="#ffd000"/>
<rect x="434.8" y="2001.15" width="23.0" height="6.60" fill="#ffca00"/>
<rect x="434.8" y="2007.45" width="23.0" height="6.60" fill="#ffd100"/>
<rect x="434.8" y="2013.75" width="23.0" height="6.60" fill="#ffcd00"/>
<rect x="434.8" y="2020.05" width="23.0" height="6.60" fill="#ffe200"/>
<rect x="434.8" y="2026.35" width="23.0" height="6.60" fill="#d8ff1f"/>
<rect x="457.5" y="1875.15" width="23.0" height="6.60" fill="#edff0a"/>
<rect x="457.5" y="1881.45" width="23.0" height="6.60" fill="#c1ff35"/>
<rect x="457.5" y="1887.75" width="23.0" height="6.60" fill="#d6ff21"/>
<rect x="457.5" y="1894.05" width="23.0" height="6.60" fill="#a4ff52"/>
<rect x="457.5" y="1900.35" width="23.0" height="6.60" fill="#d7ff1f"/>
<rect x="457.5" y="1906.65" width="23.0" height="6.60" fill="#daff1d"/>
<rect x="457.5" y="1912.95" width="23.0" height="6.60" fill="#e7ff10"/>
<rect x="457.5" y="1919.25" width="23.0" height="6.60" fill="#d2ff25"/>
<rect x="457.5" y="1925.55" width="23.0" height="6.60" fill="#edff0a"/>
<rect x="457.5" y="1931.85" width="23.0" height="6.60" fill="#daff1d"/>
<rect x="457.5" y="1950.75" width="23.0" height="6.60" fill="#d6ff21"/>
<rect x="457.5" y="1957.05" width="23.0" height="6.60" fill="#d5ff21"/>
<rect x="457.5" y="1963.35" width="23.0" height="6.60" fill="#d8ff1f"/>
<rect x="457.5" y="1969.65" width="23.0" height="6.60" fill="#d3ff24"/>
<rect x="457.5" y="1975.95" width="23.0" height="6.60" fill="#a2ff55"/>
<rect x="457.5" y="1988.55" width="23.0" height="6.60" fill="#fcf000"/>
<rect x="457.5" y="1994.85" width="23.0" height="6.60" fill="#ffcf00"/>
<rect x="457.5" y="2001.15" width="23.0" height="6.60" fill="#fdee00"/>
<rect x="457.5" y="2007.45" width="23.0" height="6.60" fill="#ffd300"/>
<rect x="457.5" y="2013.75" width="23.0" height="6.60" fill="#ffdc00"/>
<rect x="457.5" y="2020.05" width="23.0" height="6.60" fill="#a9ff4e"/>
<rect x="480.2" y="1875.15" width="23.0" height="6.60" fill="#a3ff54"/>
<rect x="480.2" y="1881.45" width="23.0" height="6.60" fill="#d8ff1f"/>
<rect x="480.2" y="1887.75" width="23.0" height="6.60" fill="#d5ff22"/>
<rect x="480.2" y="1894.05" width="23.0" height="6.60" fill="#a8ff4f"/>
<rect x="480.2" y="1900.35" width="23.0" height="6.60" fill="#a5ff51"/>
<rect x="480.2" y="1906.65" width="23.0" height="6.60" fill="#e8ff0f"/>
<rect x="480.2" y="1912.95" width="23.0" height="6.60" fill="#e8ff0f"/>
<rect x="480.2" y="1919.25" width="23.0" height="6.60" fill="#d1ff26"/>
<rect x="480.2" y="1925.55" width="23.0" height="6.60" fill="#e1ff16"/>
<rect x="480.2" y="1931.85" width="23.0" height="6.60" fill="#d5ff22"/>
<rect x="480.2" y="1938.15" width="23.0" height="6.60" fill="#78ff7f"/>
<rect x="480.2" y="1944.45" width="23.0" height="6.60" fill="#7aff7d"/>
<rect x="480.2" y="1950.75" width="23.0" height="6.60" fill="#d4ff23"/>
<rect x="480.2" y="1957.05" width="23.0" height="6.60" fill="#d9ff1e"/>
<rect x="480.2" y="1963.35" width="23.0" height="6.60" fill="#a1ff56"/>
<rect x="480.2" y="1969.65" width="23.0" height="6.60" fill="#dbff1c"/>
<rect x="480.2" y="1975.95" width="23.0" height="6.60" fill="#a4ff52"/>
<rect x="480.2" y="1988.55" width="23.0" height="6.60" fill="#f8f400"/>
<rect x="480.2" y="1994.85" width="23.0" height="6.60" fill="#ffd000"/>
<rect x="480.2" y="2001.15" width="23.0" height="6.60" fill="#ffe800"/>
<rect x="480.2" y="2007.45" width="23.0" height="6.60" fill="#ffda00"/>
<rect x="480.2" y="2013.75" width="23.0" height="6.60" fill="#ffdd00"/>
<rect x="480.2" y="2020.05" width="23.0" height="6.60" fill="#d6ff21"/>
<rect x="502.9" y="1875.15" width="23.0" height="6.60" fill="#7eff79"/>
<rect x="502.9" y="1881.45" width="23.0" height="6.60" fill="#d9ff1d"/>
<rect x="502.9" y="1887.75" width="23.0" height="6.60" fill="#a4ff53"/>
<rect x="502.9" y="1894.05" width="23.0" height="6.60" fill="#d8ff1f"/>
<rect x="502.9" y="1900.35" width="23.0" height="6.60" fill="#efff08"/>
<rect x="502.9" y="1906.65" width="23.0" height="6.60" fill="#eaff0d"/>
<rect x="502.9" y="1912.95" width="23.0" height="6.60" fill="#d3ff24"/>
<rect x="502.9" y="1919.25" width="23.0" height="6.60" fill="#dfff18"/>
<rect x="502.9" y="1925.55" width="23.0" height="6.60" fill="#d8ff1f"/>
<rect x="502.9" y="1931.85" width="23.0" height="6.60" fill="#d8ff1f"/>
<rect x="502.9" y="1938.15" width="23.0" height="6.60" fill="#daff1c"/>
<rect x="502.9" y="1944.45" width="23.0" height="6.60" fill="#eeff09"/>
<rect x="502.9" y="1950.75" width="23.0" height="6.60" fill="#e8ff0f"/>
<rect x="502.9" y="1957.05" width="23.0" height="6.60" fill="#a1ff55"/>
<rect x="502.9" y="1963.35" width="23.0" height="6.60" fill="#a2ff55"/>
<rect x="502.9" y="1969.65" width="23.0" height="6.60" fill="#e7ff0f"/>
<rect x="502.9" y="1975.95" width="23.0" height="6.60" fill="#d8ff1f"/>
<rect x="502.9" y="1982.25" width="23.0" height="6.60" fill="#eeff09"/>
<rect x="502.9" y="1988.55" width="23.0" height="6.60" fill="#ffcb00"/>
<rect x="502.9" y="1994.85" width="23.0" height="6.60" fill="#ffd300"/>
<rect x="502.9" y="2001.15" width="23.0" height="6.60" fill="#ffda00"/>
<rect x="502.9" y="2007.45" width="23.0" height="6.60" fill="#fdee00"/>
<rect x="502.9" y="2013.75" width="23.0" height="6.60" fill="#ffc200"/>
<rect x="502.9" y="2020.05" width="23.0" height="6.60" fill="#ffbf00"/>
<rect x="502.9" y="2026.35" width="23.0" height="6.60" fill="#a0ff56"/>
<rect x="525.6" y="1875.15" width="23.0" height="6.60" fill="#8cff6b"/>
<rect x="525.6" y="1881.45" width="23.0" height="6.60" fill="#e5ff12"/>
<rect x="525.6" y="1887.75" width="23.0" height="6.60" fill="#a2ff54"/>
<rect x="525.6" y="1894.05" width="23.0" height="6.60" fill="#a3ff54"/>
<rect x="525.6" y="1900.35" width="23.0" height="6.60" fill="#d7ff20"/>
<rect x="525.6" y="1906.65" width="23.0" height="6.60" fill="#92ff65"/>
<rect x="525.6" y="1912.95" width="23.0" height="6.60" fill="#e6ff11"/>
<rect x="525.6" y="1919.25" width="23.0" height="6.60" fill="#e0ff17"/>
<rect x="525.6" y="1925.55" width="23.0" height="6.60" fill="#d5ff22"/>
<rect x="525.6" y="1931.85" width="23.0" height="6.60" fill="#7bff7c"/>
<rect x="525.6" y="1938.15" width="23.0" height="6.60" fill="#79ff7e"/>
<rect x="525.6" y="1944.45" width="23.0" height="6.60" fill="#7cff7b"/>
<rect x="525.6" y="1950.75" width="23.0" height="6.60" fill="#80ff77"/>
<rect x="525.6" y="1957.05" width="23.0" height="6.60" fill="#d5ff22"/>
<rect x="525.6" y="1963.35" width="23.0" height="6.60" fill="#d6ff20"/>
<rect x="525.6" y="1969.65" width="23.0" height="6.60" fill="#8cff6b"/>
<rect x="525.6" y="1975.95" width="23.0" height="6.60" fill="#60ff96"/>
<rect x="525.6" y="1982.25" width="23.0" height="6.60" fill="#a6ff51"/>
<rect x="525.6" y="1988.55" width="23.0" height="6.60" fill="#a1ff56"/>
<rect x="525.6" y="1994.85" width="23.0" height="6.60" fill="#daff1d"/>
<rect x="525.6" y="2001.15" width="23.0" height="6.60" fill="#ffe700"/>
<rect x="525.6" y="2007.45" width="23.0" height="6.60" fill="#ffd400"/>
<rect x="525.6" y="2013.75" width="23.0" height="6.60" fill="#efff08"/>
<rect x="525.6" y="2020.05" width="23.0" height="6.60" fill="#a3ff53"/>
<rect x="548.3" y="1875.15" width="23.0" height="6.60" fill="#55ffa2"/>
<rect x="548.3" y="1881.45" width="23.0" height="6.60" fill="#e4ff13"/>
<rect x="548.3" y="1887.75" width="23.0" height="6.60" fill="#d4ff23"/>
<rect x="548.3" y="1894.05" width="23.0" height="6.60" fill="#d8ff1f"/>
<rect x="548.3" y="1900.35" width="23.0" height="6.60" fill="#d7ff1f"/>
<rect x="548.3" y="1906.65" width="23.0" height="6.60" fill="#d9ff1e"/>
<rect x="548.3" y="1912.95" width="23.0" height="6.60" fill="#d4ff23"/>
<rect x="548.3" y="1919.25" width="23.0" height="6.60" fill="#d8ff1e"/>
<rect x="548.3" y="1925.55" width="23.0" height="6.60" fill="#c4ff33"/>
<rect x="548.3" y="1931.85" width="23.0" height="6.60" fill="#d8ff1f"/>
<rect x="548.3" y="1938.15" width="23.0" height="6.60" fill="#a5ff52"/>
<rect x="548.3" y="1944.45" width="23.0" height="6.60" fill="#a1ff56"/>
<rect x="548.3" y="1950.75" width="23.0" height="6.60" fill="#d6ff21"/>
<rect x="548.3" y="1957.05" width="23.0" height="6.60" fill="#a3ff54"/>
<rect x="548.3" y="1963.35" width="23.0" height="6.60" fill="#92ff65"/>
<rect x="548.3" y="1969.65" width="23.0" height="6.60" fill="#d8ff1f"/>
<rect x="548.3" y="1975.95" width="23.0" height="6.60" fill="#a5ff52"/>
<rect x="548.3" y="1982.25" width="23.0" height="6.60" fill="#a1ff55"/>
<rect x="548.3" y="1988.55" width="23.0" height="6.60" fill="#ecff0b"/>
<rect x="548.3" y="1994.85" width="23.0" height="6.60" fill="#ffdc00"/>
<rect x="548.3" y="2001.15" width="23.0" height="6.60" fill="#e7ff10"/>
<rect x="548.3" y="2007.45" width="23.0" height="6.60" fill="#ffcb00"/>
<rect x="548.3" y="2013.75" width="23.0" height="6.60" fill="#ffc000"/>
<rect x="548.3" y="2020.05" width="23.0" height="6.60" fill="#fbf000"/>
<rect x="548.3" y="2026.35" width="23.0" height="6.60" fill="#efff08"/>
<rect x="571.0" y="1881.45" width="23.0" height="6.60" fill="#a1ff56"/>
<rect x="571.0" y="1887.75" width="23.0" height="6.60" fill="#d4ff23"/>
<rect x="571.0" y="1894.05" width="23.0" height="6.60" fill="#d8ff1f"/>
<rect x="571.0" y="1900.35" width="23.0" height="6.60" fill="#d7ff20"/>
<rect x="571.0" y="1906.65" width="23.0" height="6.60" fill="#d6ff20"/>
<rect x="571.0" y="1912.95" width="23.0" height="6.60" fill="#e3ff14"/>
<rect x="571.0" y="1919.25" width="23.0" height="6.60" fill="#7bff7c"/>
<rect x="571.0" y="1925.55" width="23.0" height="6.60" fill="#a3ff54"/>
<rect x="571.0" y="1931.85" width="23.0" height="6.60" fill="#e7ff10"/>
<rect x="571.0" y="1938.15" width="23.0" height="6.60" fill="#d2ff25"/>
<rect x="571.0" y="1944.45" width="23.0" height="6.60" fill="#e4ff13"/>
<rect x="571.0" y="1950.75" width="23.0" height="6.60" fill="#a7ff50"/>
<rect x="571.0" y="1957.05" width="23.0" height="6.60" fill="#7cff7b"/>
<rect x="571.0" y="1969.65" width="23.0" height="6.60" fill="#92ff64"/>
<rect x="571.0" y="1975.95" width="23.0" height="6.60" fill="#d4ff22"/>
<rect x="571.0" y="1982.25" width="23.0" height="6.60" fill="#d4ff23"/>
<rect x="571.0" y="1988.55" width="23.0" height="6.60" fill="#ffd100"/>
<rect x="571.0" y="1994.85" width="23.0" height="6.60" fill="#a8ff4f"/>
<rect x="571.0" y="2001.15" width="23.0" height="6.60" fill="#8bff6b"/>
<rect x="571.0" y="2007.45" width="23.0" height="6.60" fill="#d6ff21"/>
<rect x="571.0" y="2013.75" width="23.0" height="6.60" fill="#ffc400"/>
<rect x="571.0" y="2020.05" width="23.0" height="6.60" fill="#ffbf00"/>
<rect x="571.0" y="2026.35" width="23.0" height="6.60" fill="#ffe000"/>
<rect x="593.7" y="1881.45" width="23.0" height="6.60" fill="#8eff68"/>
<rect x="593.7" y="1887.75" width="23.0" height="6.60" fill="#e0ff16"/>
<rect x="593.7" y="1894.05" width="23.0" height="6.60" fill="#d6ff20"/>
<rect x="593.7" y="1900.35" width="23.0" height="6.60" fill="#e4ff13"/>
<rect x="593.7" y="1906.65" width="23.0" height="6.60" fill="#d4ff22"/>
<rect x="593.7" y="1912.95" width="23.0" height="6.60" fill="#d9ff1d"/>
<rect x="593.7" y="1919.25" width="23.0" height="6.60" fill="#a1ff56"/>
<rect x="593.7" y="1925.55" width="23.0" height="6.60" fill="#a2ff55"/>
<rect x="593.7" y="1931.85" width="23.0" height="6.60" fill="#d2ff25"/>
<rect x="593.7" y="1938.15" width="23.0" height="6.60" fill="#e7ff10"/>
<rect x="593.7" y="1944.45" width="23.0" height="6.60" fill="#edff0a"/>
<rect x="593.7" y="1950.75" width="23.0" height="6.60" fill="#a7ff50"/>
<rect x="593.7" y="1957.05" width="23.0" height="6.60" fill="#78ff7e"/>
<rect x="593.7" y="1969.65" width="23.0" height="6.60" fill="#a1ff55"/>
<rect x="593.7" y="1975.95" width="23.0" height="6.60" fill="#eaff0d"/>
<rect x="593.7" y="1982.25" width="23.0" height="6.60" fill="#ffe900"/>
<rect x="593.7" y="1988.55" width="23.0" height="6.60" fill="#ffe900"/>
<rect x="593.7" y="1994.85" width="23.0" height="6.60" fill="#d8ff1e"/>
<rect x="593.7" y="2001.15" width="23.0" height="6.60" fill="#a5ff51"/>
<rect x="593.7" y="2007.45" width="23.0" height="6.60" fill="#deff19"/>
<rect x="593.7" y="2013.75" width="23.0" height="6.60" fill="#ffd100"/>
<rect x="593.7" y="2020.05" width="23.0" height="6.60" fill="#fcf000"/>
<rect x="593.7" y="2026.35" width="23.0" height="6.60" fill="#ffcf00"/>
<rect x="593.7" y="2032.65" width="23.0" height="6.60" fill="#d7ff20"/>
<rect x="616.4" y="1887.75" width="23.0" height="6.60" fill="#d3ff24"/>
<rect x="616.4" y="1894.05" width="23.0" height="6.60" fill="#d3ff23"/>
<rect x="616.4" y="1900.35" width="23.0" height="6.60" fill="#e4ff13"/>
<rect x="616.4" y="1906.65" width="23.0" height="6.60" fill="#d1ff26"/>
<rect x="616.4" y="1912.95" width="23.0" height="6.60" fill="#d9ff1e"/>
<rect x="616.4" y="1919.25" width="23.0" height="6.60" fill="#a8ff4e"/>
<rect x="616.4" y="1931.85" width="23.0" height="6.60" fill="#e6ff11"/>
<rect x="616.4" y="1938.15" width="23.0" height="6.60" fill="#e9ff0d"/>
<rect x="616.4" y="1944.45" width="23.0" height="6.60" fill="#ebff0c"/>
<rect x="616.4" y="1950.75" width="23.0" height="6.60" fill="#c0ff36"/>
<rect x="616.4" y="1969.65" width="23.0" height="6.60" fill="#a6ff51"/>
<rect x="616.4" y="1975.95" width="23.0" height="6.60" fill="#effe08"/>
<rect x="616.4" y="1982.25" width="23.0" height="6.60" fill="#ffea00"/>
<rect x="616.4" y="1988.55" width="23.0" height="6.60" fill="#fdee00"/>
<rect x="616.4" y="1994.85" width="23.0" height="6.60" fill="#94ff63"/>
<rect x="616.4" y="2001.15" width="23.0" height="6.60" fill="#90ff67"/>
<rect x="616.4" y="2007.45" width="23.0" height="6.60" fill="#ffdd00"/>
<rect x="616.4" y="2013.75" width="23.0" height="6.60" fill="#ffea00"/>
<rect x="616.4" y="2020.05" width="23.0" height="6.60" fill="#ffb900"/>
<rect x="616.4" y="2026.35" width="23.0" height="6.60" fill="#ffb000"/>
<rect x="616.4" y="2032.65" width="23.0" height="6.60" fill="#ffb200"/>
<rect x="639.1" y="1881.45" width="23.0" height="6.60" fill="#90ff67"/>
<rect x="639.1" y="1887.75" width="23.0" height="6.60" fill="#ebff0c"/>
<rect x="639.1" y="1894.05" width="23.0" height="6.60" fill="#d5ff21"/>
<rect x="639.1" y="1900.35" width="23.0" height="6.60" fill="#d3ff24"/>
<rect x="639.1" y="1906.65" width="23.0" height="6.60" fill="#d6ff21"/>
<rect x="639.1" y="1912.95" width="23.0" height="6.60" fill="#d1ff25"/>
<rect x="639.1" y="1919.25" width="23.0" height="6.60" fill="#a5ff52"/>
<rect x="639.1" y="1925.55" width="23.0" height="6.60" fill="#7dff7a"/>
<rect x="639.1" y="1931.85" width="23.0" height="6.60" fill="#e1ff16"/>
<rect x="639.1" y="1938.15" width="23.0" height="6.60" fill="#ebff0c"/>
<rect x="639.1" y="1944.45" width="23.0" height="6.60" fill="#efff08"/>
<rect x="639.1" y="1950.75" width="23.0" height="6.60" fill="#a8ff4e"/>
<rect x="639.1" y="1957.05" width="23.0" height="6.60" fill="#4fffa8"/>
<rect x="639.1" y="1963.35" width="23.0" height="6.60" fill="#93ff64"/>
<rect x="639.1" y="1969.65" width="23.0" height="6.60" fill="#a6ff51"/>
<rect x="639.1" y="1975.95" width="23.0" height="6.60" fill="#ddff1a"/>
<rect x="639.1" y="1982.25" width="23.0" height="6.60" fill="#d4ff22"/>
<rect x="639.1" y="1988.55" width="23.0" height="6.60" fill="#e8ff0f"/>
<rect x="639.1" y="1994.85" width="23.0" height="6.60" fill="#d2ff25"/>
<rect x="639.1" y="2001.15" width="23.0" height="6.60" fill="#63ff94"/>
<rect x="639.1" y="2007.45" width="23.0" height="6.60" fill="#ffe700"/>
<rect x="639.1" y="2013.75" width="23.0" height="6.60" fill="#fdee00"/>
<rect x="639.1" y="2020.05" width="23.0" height="6.60" fill="#ffbd00"/>
<rect x="639.1" y="2026.35" width="23.0" height="6.60" fill="#ffbf00"/>
<rect x="639.1" y="2032.65" width="23.0" height="6.60" fill="#fbf000"/>
<rect x="639.1" y="2038.95" width="23.0" height="6.60" fill="#e5ff12"/>
<rect x="639.1" y="2045.25" width="23.0" height="6.60" fill="#ffeb00"/>
<rect x="661.8" y="1887.75" width="23.0" height="6.60" fill="#daff1d"/>
<rect x="661.8" y="1894.05" width="23.0" height="6.60" fill="#e4ff13"/>
<rect x="661.8" y="1900.35" width="23.0" height="6.60" fill="#e4ff13"/>
<rect x="661.8" y="1906.65" width="23.0" height="6.60" fill="#e0ff17"/>
<rect x="661.8" y="1912.95" width="23.0" height="6.60" fill="#55ffa1"/>
<rect x="661.8" y="1931.85" width="23.0" height="6.60" fill="#a9ff4e"/>
<rect x="661.8" y="1938.15" width="23.0" height="6.60" fill="#e5ff12"/>
<rect x="661.8" y="1944.45" width="23.0" height="6.60" fill="#eaff0d"/>
<rect x="661.8" y="1975.95" width="23.0" height="6.60" fill="#d8ff1e"/>
<rect x="661.8" y="1982.25" width="23.0" height="6.60" fill="#eaff0c"/>
<rect x="661.8" y="1988.55" width="23.0" height="6.60" fill="#fbf100"/>
<rect x="661.8" y="2013.75" width="23.0" height="6.60" fill="#e6ff11"/>
<rect x="661.8" y="2020.05" width="23.0" height="6.60" fill="#ffc600"/>
<rect x="661.8" y="2026.35" width="23.0" height="6.60" fill="#ffb700"/>
<rect x="661.8" y="2032.65" width="23.0" height="6.60" fill="#ffe200"/>
<rect x="684.5" y="1881.45" width="23.0" height="6.60" fill="#a4ff52"/>
<rect x="684.5" y="1887.75" width="23.0" height="6.60" fill="#d8ff1f"/>
<rect x="684.5" y="1894.05" width="23.0" height="6.60" fill="#d6ff21"/>
<rect x="684.5" y="1900.35" width="23.0" height="6.60" fill="#e1ff16"/>
<rect x="684.5" y="1906.65" width="23.0" height="6.60" fill="#e3ff14"/>
<rect x="684.5" y="1912.95" width="23.0" height="6.60" fill="#d4ff23"/>
<rect x="684.5" y="1931.85" width="23.0" height="6.60" fill="#e1ff16"/>
<rect x="684.5" y="1938.15" width="23.0" height="6.60" fill="#d8ff1e"/>
<rect x="684.5" y="1944.45" width="23.0" height="6.60" fill="#f6f701"/>
<rect x="684.5" y="1950.75" width="23.0" height="6.60" fill="#d3ff24"/>
<rect x="684.5" y="1969.65" width="23.0" height="6.60" fill="#56ffa1"/>
<rect x="684.5" y="1975.95" width="23.0" height="6.60" fill="#d8ff1f"/>
<rect x="684.5" y="1982.25" width="23.0" height="6.60" fill="#8fff68"/>
<rect x="684.5" y="1988.55" width="23.0" height="6.60" fill="#ffdf00"/>
<rect x="684.5" y="1994.85" width="23.0" height="6.60" fill="#ffec00"/>
<rect x="684.5" y="2007.45" width="23.0" height="6.60" fill="#91ff66"/>
<rect x="684.5" y="2013.75" width="23.0" height="6.60" fill="#ffe100"/>
<rect x="684.5" y="2020.05" width="23.0" height="6.60" fill="#ffc700"/>
<rect x="684.5" y="2026.35" width="23.0" height="6.60" fill="#ffd300"/>
<rect x="707.2" y="1887.75" width="23.0" height="6.60" fill="#d9ff1e"/>
<rect x="707.2" y="1894.05" width="23.0" height="6.60" fill="#d2ff24"/>
<rect x="707.2" y="1900.35" width="23.0" height="6.60" fill="#e1ff16"/>
<rect x="707.2" y="1906.65" width="23.0" height="6.60" fill="#e7ff0f"/>
<rect x="707.2" y="1912.95" width="23.0" height="6.60" fill="#d3ff24"/>
<rect x="707.2" y="1931.85" width="23.0" height="6.60" fill="#8dff6a"/>
<rect x="707.2" y="1938.15" width="23.0" height="6.60" fill="#e9ff0d"/>
<rect x="707.2" y="1944.45" width="23.0" height="6.60" fill="#deff19"/>
<rect x="707.2" y="1950.75" width="23.0" height="6.60" fill="#4effa9"/>
<rect x="707.2" y="1975.95" width="23.0" height="6.60" fill="#d2ff25"/>
<rect x="707.2" y="1982.25" width="23.0" height="6.60" fill="#e7ff10"/>
<rect x="707.2" y="1988.55" width="23.0" height="6.60" fill="#eaff0c"/>
<rect x="707.2" y="2007.45" width="23.0" height="6.60" fill="#a0ff57"/>
<rect x="707.2" y="2013.75" width="23.0" height="6.60" fill="#faf200"/>
<rect x="707.2" y="2020.05" width="23.0" height="6.60" fill="#ffdf00"/>
<rect x="707.2" y="2026.35" width="23.0" height="6.60" fill="#ffb400"/>
<rect x="707.2" y="2032.65" width="23.0" height="6.60" fill="#ff9000"/>
<rect x="729.9" y="1881.45" width="23.0" height="6.60" fill="#8cff6b"/>
<rect x="729.9" y="1887.75" width="23.0" height="6.60" fill="#e0ff16"/>
<rect x="729.9" y="1894.05" width="23.0" height="6.60" fill="#e0ff16"/>
<rect x="729.9" y="1900.35" width="23.0" height="6.60" fill="#ddff1a"/>
<rect x="729.9" y="1906.65" width="23.0" height="6.60" fill="#e6ff11"/>
<rect x="729.9" y="1912.95" width="23.0" height="6.60" fill="#a2ff55"/>
<rect x="729.9" y="1931.85" width="23.0" height="6.60" fill="#a1ff56"/>
<rect x="729.9" y="1938.15" width="23.0" height="6.60" fill="#e1ff16"/>
<rect x="729.9" y="1944.45" width="23.0" height="6.60" fill="#deff19"/>
<rect x="729.9" y="1950.75" width="23.0" height="6.60" fill="#a6ff51"/>
<rect x="729.9" y="1969.65" width="23.0" height="6.60" fill="#51ffa6"/>
<rect x="729.9" y="1975.95" width="23.0" height="6.60" fill="#a1ff56"/>
<rect x="729.9" y="1982.25" width="23.0" height="6.60" fill="#d1ff25"/>
<rect x="729.9" y="1988.55" width="23.0" height="6.60" fill="#ffdb00"/>
<rect x="729.9" y="1994.85" width="23.0" height="6.60" fill="#a2ff54"/>
<rect x="729.9" y="2007.45" width="23.0" height="6.60" fill="#d9ff1e"/>
<rect x="729.9" y="2013.75" width="23.0" height="6.60" fill="#ffed00"/>
<rect x="729.9" y="2020.05" width="23.0" height="6.60" fill="#ffbd00"/>
<rect x="729.9" y="2026.35" width="23.0" height="6.60" fill="#ffb600"/>
<rect x="752.6" y="1875.15" width="23.0" height="6.60" fill="#d3ff23"/>
<rect x="752.6" y="1881.45" width="23.0" height="6.60" fill="#79ff7e"/>
<rect x="752.6" y="1887.75" width="23.0" height="6.60" fill="#eeff09"/>
<rect x="752.6" y="1894.05" width="23.0" height="6.60" fill="#91ff66"/>
<rect x="752.6" y="1900.35" width="23.0" height="6.60" fill="#beff39"/>
<rect x="752.6" y="1906.65" width="23.0" height="6.60" fill="#ddff19"/>
<rect x="752.6" y="1912.95" width="23.0" height="6.60" fill="#e3ff14"/>
<rect x="752.6" y="1919.25" width="23.0" height="6.60" fill="#e6ff11"/>
<rect x="752.6" y="1925.55" width="23.0" height="6.60" fill="#d7ff20"/>
<rect x="752.6" y="1931.85" width="23.0" height="6.60" fill="#e6ff11"/>
<rect x="752.6" y="1938.15" width="23.0" height="6.60" fill="#ddff1a"/>
<rect x="752.6" y="1944.45" width="23.0" height="6.60" fill="#d2ff25"/>
<rect x="752.6" y="1950.75" width="23.0" height="6.60" fill="#fcf000"/>
<rect x="752.6" y="1957.05" width="23.0" height="6.60" fill="#d1ff25"/>
<rect x="752.6" y="1963.35" width="23.0" height="6.60" fill="#d1ff25"/>
<rect x="752.6" y="1969.65" width="23.0" height="6.60" fill="#c1ff36"/>
<rect x="752.6" y="1975.95" width="23.0" height="6.60" fill="#daff1d"/>
<rect x="752.6" y="1982.25" width="23.0" height="6.60" fill="#ffe100"/>
<rect x="752.6" y="1988.55" width="23.0" height="6.60" fill="#ffca00"/>
<rect x="752.6" y="1994.85" width="23.0" height="6.60" fill="#ffde00"/>
<rect x="752.6" y="2001.15" width="23.0" height="6.60" fill="#d9ff1e"/>
<rect x="752.6" y="2007.45" width="23.0" height="6.60" fill="#ffd900"/>
<rect x="752.6" y="2013.75" width="23.0" height="6.60" fill="#ffd900"/>
<rect x="752.6" y="2020.05" width="23.0" height="6.60" fill="#bbff3c"/>
<rect x="752.6" y="2026.35" width="23.0" height="6.60" fill="#a3ff54"/>
<rect x="775.3" y="1875.15" width="23.0" height="6.60" fill="#a6ff51"/>
<rect x="775.3" y="1881.45" width="23.0" height="6.60" fill="#daff1c"/>
<rect x="775.3" y="1887.75" width="23.0" height="6.60" fill="#8cff6b"/>
<rect x="775.3" y="1894.05" width="23.0" height="6.60" fill="#8eff69"/>
<rect x="775.3" y="1900.35" width="23.0" height="6.60" fill="#c3ff34"/>
<rect x="775.3" y="1906.65" width="23.0" height="6.60" fill="#deff19"/>
<rect x="775.3" y="1912.95" width="23.0" height="6.60" fill="#e9ff0d"/>
<rect x="775.3" y="1919.25" width="23.0" height="6.60" fill="#e9ff0e"/>
<rect x="775.3" y="1925.55" width="23.0" height="6.60" fill="#d8ff1f"/>
<rect x="775.3" y="1931.85" width="23.0" height="6.60" fill="#efff08"/>
<rect x="775.3" y="1938.15" width="23.0" height="6.60" fill="#deff19"/>
<rect x="775.3" y="1944.45" width="23.0" height="6.60" fill="#edff0a"/>
<rect x="775.3" y="1950.75" width="23.0" height="6.60" fill="#ffdb00"/>
<rect x="775.3" y="1957.05" width="23.0" height="6.60" fill="#eeff09"/>
<rect x="775.3" y="1963.35" width="23.0" height="6.60" fill="#e2ff15"/>
<rect x="775.3" y="1969.65" width="23.0" height="6.60" fill="#daff1d"/>
<rect x="775.3" y="1975.95" width="23.0" height="6.60" fill="#d5ff22"/>
<rect x="775.3" y="1982.25" width="23.0" height="6.60" fill="#ffdf00"/>
<rect x="775.3" y="1988.55" width="23.0" height="6.60" fill="#ffd300"/>
<rect x="775.3" y="1994.85" width="23.0" height="6.60" fill="#ffcd00"/>
<rect x="775.3" y="2001.15" width="23.0" height="6.60" fill="#ffde00"/>
<rect x="775.3" y="2007.45" width="23.0" height="6.60" fill="#ffd200"/>
<rect x="775.3" y="2013.75" width="23.0" height="6.60" fill="#ffd400"/>
<rect x="775.3" y="2020.05" width="23.0" height="6.60" fill="#edff0a"/>
<rect x="798.0" y="1875.15" width="23.0" height="6.60" fill="#d7ff20"/>
<rect x="798.0" y="1887.75" width="23.0" height="6.60" fill="#d8ff1f"/>
<rect x="798.0" y="1894.05" width="23.0" height="6.60" fill="#7aff7d"/>
<rect x="798.0" y="1900.35" width="23.0" height="6.60" fill="#a4ff52"/>
<rect x="798.0" y="1906.65" width="23.0" height="6.60" fill="#deff19"/>
<rect x="798.0" y="1912.95" width="23.0" height="6.60" fill="#d8ff1f"/>
<rect x="798.0" y="1919.25" width="23.0" height="6.60" fill="#d1ff26"/>
<rect x="798.0" y="1925.55" width="23.0" height="6.60" fill="#d6ff21"/>
<rect x="798.0" y="1931.85" width="23.0" height="6.60" fill="#a7ff50"/>
<rect x="798.0" y="1938.15" width="23.0" height="6.60" fill="#e3ff14"/>
<rect x="798.0" y="1944.45" width="23.0" height="6.60" fill="#e6ff10"/>
<rect x="798.0" y="1950.75" width="23.0" height="6.60" fill="#f4f903"/>
<rect x="798.0" y="1957.05" width="23.0" height="6.60" fill="#eeff09"/>
<rect x="798.0" y="1963.35" width="23.0" height="6.60" fill="#d7ff1f"/>
<rect x="798.0" y="1969.65" width="23.0" height="6.60" fill="#daff1d"/>
<rect x="798.0" y="1975.95" width="23.0" height="6.60" fill="#e5ff12"/>
<rect x="798.0" y="1982.25" width="23.0" height="6.60" fill="#ffdf00"/>
<rect x="798.0" y="1988.55" width="23.0" height="6.60" fill="#ffd900"/>
<rect x="798.0" y="1994.85" width="23.0" height="6.60" fill="#ffcd00"/>
<rect x="798.0" y="2001.15" width="23.0" height="6.60" fill="#ffd200"/>
<rect x="798.0" y="2007.45" width="23.0" height="6.60" fill="#ffd100"/>
<rect x="798.0" y="2013.75" width="23.0" height="6.60" fill="#d2ff25"/>
<rect x="798.0" y="2020.05" width="23.0" height="6.60" fill="#ffd100"/>
<rect x="798.0" y="2026.35" width="23.0" height="6.60" fill="#ffe700"/>
<rect x="820.7" y="1875.15" width="23.0" height="6.60" fill="#a1ff56"/>
<rect x="820.7" y="1881.45" width="23.0" height="6.60" fill="#ffdd00"/>
<rect x="820.7" y="1894.05" width="23.0" height="6.60" fill="#ffe200"/>
<rect x="820.7" y="1906.65" width="23.0" height="6.60" fill="#d2ff25"/>
<rect x="820.7" y="1912.95" width="23.0" height="6.60" fill="#e3ff14"/>
<rect x="820.7" y="1919.25" width="23.0" height="6.60" fill="#e8ff0f"/>
<rect x="820.7" y="1925.55" width="23.0" height="6.60" fill="#a0ff57"/>
<rect x="820.7" y="1931.85" width="23.0" height="6.60" fill="#d2ff24"/>
<rect x="820.7" y="1938.15" width="23.0" height="6.60" fill="#d7ff1f"/>
<rect x="820.7" y="1944.45" width="23.0" height="6.60" fill="#d7ff20"/>
<rect x="820.7" y="1950.75" width="23.0" height="6.60" fill="#f2fb05"/>
<rect x="820.7" y="1957.05" width="23.0" height="6.60" fill="#f4f903"/>
<rect x="820.7" y="1963.35" width="23.0" height="6.60" fill="#effe08"/>
<rect x="820.7" y="1969.65" width="23.0" height="6.60" fill="#dfff18"/>
<rect x="820.7" y="1975.95" width="23.0" height="6.60" fill="#ebff0c"/>
<rect x="820.7" y="1982.25" width="23.0" height="6.60" fill="#ffd100"/>
<rect x="820.7" y="1988.55" width="23.0" height="6.60" fill="#edff0a"/>
<rect x="820.7" y="1994.85" width="23.0" height="6.60" fill="#ffc000"/>
<rect x="820.7" y="2001.15" width="23.0" height="6.60" fill="#ffcd00"/>
<rect x="820.7" y="2007.45" width="23.0" height="6.60" fill="#ffc100"/>
<rect x="820.7" y="2013.75" width="23.0" height="6.60" fill="#ffe100"/>
<rect x="911.5" y="1875.15" width="23.0" height="6.60" fill="#8dff6a"/>
<rect x="911.5" y="1881.45" width="23.0" height="6.60" fill="#d2ff25"/>
<rect x="911.5" y="1887.75" width="23.0" height="6.60" fill="#93ff64"/>
<rect x="911.5" y="1894.05" width="23.0" height="6.60" fill="#d2ff25"/>
<rect x="911.5" y="1900.35" width="23.0" height="6.60" fill="#a0ff57"/>
<rect x="911.5" y="1906.65" width="23.0" height="6.60" fill="#e6ff11"/>
<rect x="911.5" y="1912.95" width="23.0" height="6.60" fill="#a2ff55"/>
<rect x="911.5" y="1919.25" width="23.0" height="6.60" fill="#e5ff12"/>
<rect x="911.5" y="1925.55" width="23.0" height="6.60" fill="#ddff19"/>
<rect x="911.5" y="1931.85" width="23.0" height="6.60" fill="#d6ff21"/>
<rect x="911.5" y="1938.15" width="23.0" height="6.60" fill="#e8ff0f"/>
<rect x="911.5" y="1944.45" width="23.0" height="6.60" fill="#d9ff1e"/>
<rect x="911.5" y="1950.75" width="23.0" height="6.60" fill="#e3ff14"/>
<rect x="911.5" y="1957.05" width="23.0" height="6.60" fill="#ecff0b"/>
<rect x="911.5" y="1963.35" width="23.0" height="6.60" fill="#e4ff13"/>
<rect x="911.5" y="1969.65" width="23.0" height="6.60" fill="#daff1d"/>
<rect x="911.5" y="1975.95" width="23.0" height="6.60" fill="#d4ff22"/>
<rect x="911.5" y="1982.25" width="23.0" height="6.60" fill="#d7ff20"/>
<rect x="911.5" y="1988.55" width="23.0" height="6.60" fill="#ffdf00"/>
<rect x="911.5" y="1994.85" width="23.0" height="6.60" fill="#ffc600"/>
<rect x="911.5" y="2001.15" width="23.0" height="6.60" fill="#ffbe00"/>
<rect x="911.5" y="2007.45" width="23.0" height="6.60" fill="#ffcf00"/>
<rect x="911.5" y="2013.75" width="23.0" height="6.60" fill="#ffda00"/>
<rect x="911.5" y="2020.05" width="23.0" height="6.60" fill="#e8ff0f"/>
<rect x="911.5" y="2026.35" width="23.0" height="6.60" fill="#d6ff21"/>
<rect x="934.2" y="1875.15" width="23.0" height="6.60" fill="#bfff37"/>
<rect x="934.2" y="1881.45" width="23.0" height="6.60" fill="#d8ff1f"/>
<rect x="934.2" y="1887.75" width="23.0" height="6.60" fill="#a0ff56"/>
<rect x="934.2" y="1894.05" width="23.0" height="6.60" fill="#61ff96"/>
<rect x="934.2" y="1900.35" width="23.0" height="6.60" fill="#a4ff52"/>
<rect x="934.2" y="1906.65" width="23.0" height="6.60" fill="#d2ff25"/>
<rect x="934.2" y="1912.95" width="23.0" height="6.60" fill="#d6ff20"/>
<rect x="934.2" y="1919.25" width="23.0" height="6.60" fill="#a7ff50"/>
<rect x="934.2" y="1925.55" width="23.0" height="6.60" fill="#bfff38"/>
<rect x="934.2" y="1931.85" width="23.0" height="6.60" fill="#e3ff14"/>
<rect x="934.2" y="1938.15" width="23.0" height="6.60" fill="#c1ff36"/>
<rect x="934.2" y="1944.45" width="23.0" height="6.60" fill="#a2ff55"/>
<rect x="934.2" y="1950.75" width="23.0" height="6.60" fill="#e0ff17"/>
<rect x="934.2" y="1957.05" width="23.0" height="6.60" fill="#dbff1c"/>
<rect x="934.2" y="1963.35" width="23.0" height="6.60" fill="#8eff68"/>
<rect x="934.2" y="1969.65" width="23.0" height="6.60" fill="#e1ff16"/>
<rect x="934.2" y="1975.95" width="23.0" height="6.60" fill="#e6ff10"/>
<rect x="934.2" y="1982.25" width="23.0" height="6.60" fill="#d3ff24"/>
<rect x="934.2" y="1988.55" width="23.0" height="6.60" fill="#ffd400"/>
<rect x="934.2" y="1994.85" width="23.0" height="6.60" fill="#ffcb00"/>
<rect x="934.2" y="2001.15" width="23.0" height="6.60" fill="#ffdb00"/>
<rect x="934.2" y="2007.45" width="23.0" height="6.60" fill="#ffbd00"/>
<rect x="934.2" y="2013.75" width="23.0" height="6.60" fill="#ffbc00"/>
<rect x="934.2" y="2020.05" width="23.0" height="6.60" fill="#ffdd00"/>
<rect x="934.2" y="2026.35" width="23.0" height="6.60" fill="#daff1d"/>
<rect x="956.9" y="1875.15" width="23.0" height="6.60" fill="#d6ff21"/>
<rect x="956.9" y="1881.45" width="23.0" height="6.60" fill="#d5ff22"/>
<rect x="956.9" y="1887.75" width="23.0" height="6.60" fill="#c4ff33"/>
<rect x="956.9" y="1894.05" width="23.0" height="6.60" fill="#c4ff33"/>
<rect x="956.9" y="1900.35" width="23.0" height="6.60" fill="#c4ff33"/>
<rect x="956.9" y="1906.65" width="23.0" height="6.60" fill="#e1ff16"/>
<rect x="956.9" y="1912.95" width="23.0" height="6.60" fill="#d9ff1e"/>
<rect x="956.9" y="1919.25" width="23.0" height="6.60" fill="#a4ff53"/>
<rect x="956.9" y="1925.55" width="23.0" height="6.60" fill="#dbff1c"/>
<rect x="956.9" y="1931.85" width="23.0" height="6.60" fill="#e6ff11"/>
<rect x="956.9" y="1938.15" width="23.0" height="6.60" fill="#d4ff23"/>
<rect x="956.9" y="1944.45" width="23.0" height="6.60" fill="#daff1d"/>
<rect x="956.9" y="1950.75" width="23.0" height="6.60" fill="#ffe200"/>
<rect x="956.9" y="1957.05" width="23.0" height="6.60" fill="#bcff3b"/>
<rect x="956.9" y="1963.35" width="23.0" height="6.60" fill="#92ff65"/>
<rect x="956.9" y="1969.65" width="23.0" height="6.60" fill="#e8ff0e"/>
<rect x="956.9" y="1975.95" width="23.0" height="6.60" fill="#f7f500"/>
<rect x="956.9" y="1982.25" width="23.0" height="6.60" fill="#a6ff51"/>
<rect x="956.9" y="1988.55" width="23.0" height="6.60" fill="#ffd500"/>
<rect x="956.9" y="1994.85" width="23.0" height="6.60" fill="#ffdb00"/>
<rect x="956.9" y="2001.15" width="23.0" height="6.60" fill="#d4ff23"/>
<rect x="956.9" y="2007.45" width="23.0" height="6.60" fill="#ffc200"/>
<rect x="956.9" y="2013.75" width="23.0" height="6.60" fill="#ffc300"/>
<rect x="956.9" y="2020.05" width="23.0" height="6.60" fill="#ffb100"/>
<rect x="956.9" y="2026.35" width="23.0" height="6.60" fill="#ffe900"/>
<rect x="979.6" y="1875.15" width="23.0" height="6.60" fill="#d4ff23"/>
<rect x="979.6" y="1881.45" width="23.0" height="6.60" fill="#d2ff25"/>
<rect x="979.6" y="1887.75" width="23.0" height="6.60" fill="#d4ff23"/>
<rect x="979.6" y="1894.05" width="23.0" height="6.60" fill="#bfff38"/>
<rect x="979.6" y="1900.35" width="23.0" height="6.60" fill="#8cff6b"/>
<rect x="979.6" y="1906.65" width="23.0" height="6.60" fill="#e7ff10"/>
<rect x="979.6" y="1912.95" width="23.0" height="6.60" fill="#e4ff13"/>
<rect x="979.6" y="1919.25" width="23.0" height="6.60" fill="#d8ff1f"/>
<rect x="979.6" y="1925.55" width="23.0" height="6.60" fill="#effe08"/>
<rect x="979.6" y="1931.85" width="23.0" height="6.60" fill="#e6ff11"/>
<rect x="979.6" y="1938.15" width="23.0" height="6.60" fill="#7fff78"/>
<rect x="979.6" y="1944.45" width="23.0" height="6.60" fill="#a3ff54"/>
<rect x="979.6" y="1950.75" width="23.0" height="6.60" fill="#ffe200"/>
<rect x="979.6" y="1957.05" width="23.0" height="6.60" fill="#e0ff17"/>
<rect x="979.6" y="1963.35" width="23.0" height="6.60" fill="#d6ff21"/>
<rect x="979.6" y="1969.65" width="23.0" height="6.60" fill="#e2ff15"/>
<rect x="979.6" y="1975.95" width="23.0" height="6.60" fill="#d6ff20"/>
<rect x="979.6" y="1982.25" width="23.0" height="6.60" fill="#8fff68"/>
<rect x="979.6" y="1988.55" width="23.0" height="6.60" fill="#ffda00"/>
<rect x="979.6" y="1994.85" width="23.0" height="6.60" fill="#ffd200"/>
<rect x="979.6" y="2001.15" width="23.0" height="6.60" fill="#ffde00"/>
<rect x="979.6" y="2007.45" width="23.0" height="6.60" fill="#ffbd00"/>
<rect x="979.6" y="2013.75" width="23.0" height="6.60" fill="#ffbe00"/>
<rect x="979.6" y="2020.05" width="23.0" height="6.60" fill="#ffe000"/>
<rect x="1002.3" y="1875.15" width="23.0" height="6.60" fill="#d3ff23"/>
<rect x="1002.3" y="1881.45" width="23.0" height="6.60" fill="#d9ff1e"/>
<rect x="1002.3" y="1887.75" width="23.0" height="6.60" fill="#d1ff26"/>
<rect x="1002.3" y="1894.05" width="23.0" height="6.60" fill="#a1ff56"/>
<rect x="1002.3" y="1900.35" width="23.0" height="6.60" fill="#d6ff21"/>
<rect x="1002.3" y="1906.65" width="23.0" height="6.60" fill="#a5ff52"/>
<rect x="1002.3" y="1912.95" width="23.0" height="6.60" fill="#a1ff56"/>
<rect x="1002.3" y="1919.25" width="23.0" height="6.60" fill="#8cff6b"/>
<rect x="1002.3" y="1925.55" width="23.0" height="6.60" fill="#a2ff55"/>
<rect x="1002.3" y="1931.85" width="23.0" height="6.60" fill="#d9ff1e"/>
<rect x="1002.3" y="1938.15" width="23.0" height="6.60" fill="#7bff7c"/>
<rect x="1002.3" y="1944.45" width="23.0" height="6.60" fill="#95ff62"/>
<rect x="1002.3" y="1950.75" width="23.0" height="6.60" fill="#d9ff1e"/>
<rect x="1002.3" y="1957.05" width="23.0" height="6.60" fill="#a9ff4e"/>
<rect x="1002.3" y="1963.35" width="23.0" height="6.60" fill="#a0ff57"/>
<rect x="1002.3" y="1969.65" width="23.0" height="6.60" fill="#a1ff55"/>
<rect x="1002.3" y="1975.95" width="23.0" height="6.60" fill="#a0ff57"/>
<rect x="1002.3" y="1988.55" width="23.0" height="6.60" fill="#d5ff22"/>
<rect x="1002.3" y="1994.85" width="23.0" height="6.60" fill="#fdee00"/>
<rect x="1002.3" y="2001.15" width="23.0" height="6.60" fill="#ddff1a"/>
<rect x="1002.3" y="2007.45" width="23.0" height="6.60" fill="#ffdd00"/>
<rect x="1002.3" y="2013.75" width="23.0" height="6.60" fill="#ffe300"/>
<rect x="1002.3" y="2020.05" width="23.0" height="6.60" fill="#ffe000"/>
<rect x="1002.3" y="2026.35" width="23.0" height="6.60" fill="#d3ff23"/>
<rect x="1025.0" y="1875.15" width="23.0" height="6.60" fill="#e4ff12"/>
<rect x="1025.0" y="1881.45" width="23.0" height="6.60" fill="#d5ff22"/>
<rect x="1025.0" y="1887.75" width="23.0" height="6.60" fill="#d4ff23"/>
<rect x="1025.0" y="1894.05" width="23.0" height="6.60" fill="#a0ff57"/>
<rect x="1025.0" y="1900.35" width="23.0" height="6.60" fill="#a4ff53"/>
<rect x="1025.0" y="1906.65" width="23.0" height="6.60" fill="#ecff0b"/>
<rect x="1025.0" y="1912.95" width="23.0" height="6.60" fill="#c1ff35"/>
<rect x="1025.0" y="1919.25" width="23.0" height="6.60" fill="#a9ff4e"/>
<rect x="1025.0" y="1925.55" width="23.0" height="6.60" fill="#e4ff12"/>
<rect x="1025.0" y="1931.85" width="23.0" height="6.60" fill="#d3ff23"/>
<rect x="1025.0" y="1938.15" width="23.0" height="6.60" fill="#78ff7f"/>
<rect x="1025.0" y="1944.45" width="23.0" height="6.60" fill="#93ff64"/>
<rect x="1025.0" y="1950.75" width="23.0" height="6.60" fill="#edff09"/>
<rect x="1025.0" y="1957.05" width="23.0" height="6.60" fill="#c0ff37"/>
<rect x="1025.0" y="1963.35" width="23.0" height="6.60" fill="#c3ff34"/>
<rect x="1025.0" y="1969.65" width="23.0" height="6.60" fill="#ebff0c"/>
<rect x="1025.0" y="1975.95" width="23.0" height="6.60" fill="#d4ff23"/>
<rect x="1025.0" y="1988.55" width="23.0" height="6.60" fill="#f4f903"/>
<rect x="1025.0" y="1994.85" width="23.0" height="6.60" fill="#ffc700"/>
<rect x="1025.0" y="2001.15" width="23.0" height="6.60" fill="#d7ff1f"/>
<rect x="1025.0" y="2007.45" width="23.0" height="6.60" fill="#ffbd00"/>
<rect x="1025.0" y="2013.75" width="23.0" height="6.60" fill="#ffbd00"/>
<rect x="1025.0" y="2020.05" width="23.0" height="6.60" fill="#ffc200"/>
<rect x="1047.7" y="1875.15" width="23.0" height="6.60" fill="#d8ff1f"/>
<rect x="1047.7" y="1881.45" width="23.0" height="6.60" fill="#daff1d"/>
<rect x="1047.7" y="1887.75" width="23.0" height="6.60" fill="#d9ff1e"/>
<rect x="1047.7" y="1894.05" width="23.0" height="6.60" fill="#a6ff51"/>
<rect x="1047.7" y="1900.35" width="23.0" height="6.60" fill="#62ff95"/>
<rect x="1047.7" y="1906.65" width="23.0" height="6.60" fill="#90ff67"/>
<rect x="1047.7" y="1912.95" width="23.0" height="6.60" fill="#d3ff24"/>
<rect x="1047.7" y="1919.25" width="23.0" height="6.60" fill="#deff19"/>
<rect x="1047.7" y="1925.55" width="23.0" height="6.60" fill="#d8ff1f"/>
<rect x="1047.7" y="1957.05" width="23.0" height="6.60" fill="#effe07"/>
<rect x="1047.7" y="1963.35" width="23.0" height="6.60" fill="#e2ff15"/>
<rect x="1047.7" y="1969.65" width="23.0" height="6.60" fill="#a4ff53"/>
<rect x="1047.7" y="1994.85" width="23.0" height="6.60" fill="#beff39"/>
<rect x="1047.7" y="2001.15" width="23.0" height="6.60" fill="#ffd000"/>
<rect x="1047.7" y="2007.45" width="23.0" height="6.60" fill="#ffcc00"/>
<rect x="1047.7" y="2013.75" width="23.0" height="6.60" fill="#ffde00"/>
<rect x="1070.4" y="1875.15" width="23.0" height="6.60" fill="#c4ff33"/>
<rect x="1070.4" y="1881.45" width="23.0" height="6.60" fill="#d2ff24"/>
<rect x="1070.4" y="1887.75" width="23.0" height="6.60" fill="#d4ff23"/>
<rect x="1070.4" y="1894.05" width="23.0" height="6.60" fill="#90ff67"/>
<rect x="1070.4" y="1900.35" width="23.0" height="6.60" fill="#e1ff16"/>
<rect x="1070.4" y="1912.95" width="23.0" height="6.60" fill="#d9ff1d"/>
<rect x="1070.4" y="1919.25" width="23.0" height="6.60" fill="#e5ff12"/>
<rect x="1070.4" y="1925.55" width="23.0" height="6.60" fill="#daff1d"/>
<rect x="1070.4" y="1957.05" width="23.0" height="6.60" fill="#e2ff14"/>
<rect x="1070.4" y="1963.35" width="23.0" height="6.60" fill="#ddff1a"/>
<rect x="1070.4" y="1969.65" width="23.0" height="6.60" fill="#7cff7b"/>
<rect x="1070.4" y="1994.85" width="23.0" height="6.60" fill="#ffdd00"/>
<rect x="1070.4" y="2001.15" width="23.0" height="6.60" fill="#ffde00"/>
<rect x="1070.4" y="2007.45" width="23.0" height="6.60" fill="#ffc400"/>
<rect x="1070.4" y="2013.75" width="23.0" height="6.60" fill="#edff0a"/>
<rect x="1093.1" y="1875.15" width="23.0" height="6.60" fill="#daff1d"/>
<rect x="1093.1" y="1881.45" width="23.0" height="6.60" fill="#d2ff25"/>
<rect x="1093.1" y="1887.75" width="23.0" height="6.60" fill="#d8ff1f"/>
<rect x="1093.1" y="1894.05" width="23.0" height="6.60" fill="#d5ff22"/>
<rect x="1093.1" y="1900.35" width="23.0" height="6.60" fill="#d6ff21"/>
<rect x="1093.1" y="1906.65" width="23.0" height="6.60" fill="#a8ff4e"/>
<rect x="1093.1" y="1912.95" width="23.0" height="6.60" fill="#daff1c"/>
<rect x="1093.1" y="1919.25" width="23.0" height="6.60" fill="#ecff0b"/>
<rect x="1093.1" y="1925.55" width="23.0" height="6.60" fill="#deff18"/>
<rect x="1093.1" y="1931.85" width="23.0" height="6.60" fill="#a9ff4e"/>
<rect x="1093.1" y="1950.75" width="23.0" height="6.60" fill="#60ff97"/>
<rect x="1093.1" y="1957.05" width="23.0" height="6.60" fill="#e0ff17"/>
<rect x="1093.1" y="1963.35" width="23.0" height="6.60" fill="#e5ff12"/>
<rect x="1093.1" y="1969.65" width="23.0" height="6.60" fill="#a3ff54"/>
<rect x="1093.1" y="1994.85" width="23.0" height="6.60" fill="#ffe100"/>
<rect x="1093.1" y="2001.15" width="23.0" height="6.60" fill="#ffcb00"/>
<rect x="1093.1" y="2007.45" width="23.0" height="6.60" fill="#ffbd00"/>
<rect x="1093.1" y="2013.75" width="23.0" height="6.60" fill="#e9ff0e"/>
<rect x="1115.8" y="1875.15" width="23.0" height="6.60" fill="#a3ff53"/>
<rect x="1115.8" y="1881.45" width="23.0" height="6.60" fill="#d4ff23"/>
<rect x="1115.8" y="1887.75" width="23.0" height="6.60" fill="#a1ff56"/>
<rect x="1115.8" y="1894.05" width="23.0" height="6.60" fill="#d3ff23"/>
<rect x="1115.8" y="1900.35" width="23.0" height="6.60" fill="#a9ff4e"/>
<rect x="1115.8" y="1906.65" width="23.0" height="6.60" fill="#ddff1a"/>
<rect x="1115.8" y="1912.95" width="23.0" height="6.60" fill="#dfff18"/>
<rect x="1115.8" y="1919.25" width="23.0" height="6.60" fill="#a2ff55"/>
<rect x="1115.8" y="1925.55" width="23.0" height="6.60" fill="#d2ff25"/>
<rect x="1115.8" y="1931.85" width="23.0" height="6.60" fill="#e2ff15"/>
<rect x="1115.8" y="1950.75" width="23.0" height="6.60" fill="#e4ff13"/>
<rect x="1115.8" y="1957.05" width="23.0" height="6.60" fill="#d9ff1e"/>
<rect x="1115.8" y="1963.35" width="23.0" height="6.60" fill="#64ff93"/>
<rect x="1115.8" y="1969.65" width="23.0" height="6.60" fill="#d9ff1e"/>
<rect x="1115.8" y="1975.95" width="23.0" height="6.60" fill="#77ff80"/>
<rect x="1115.8" y="1988.55" width="23.0" height="6.60" fill="#beff39"/>
<rect x="1115.8" y="1994.85" width="23.0" height="6.60" fill="#ffcb00"/>
<rect x="1115.8" y="2001.15" width="23.0" height="6.60" fill="#ffe300"/>
<rect x="1115.8" y="2007.45" width="23.0" height="6.60" fill="#ffe100"/>
<rect x="1115.8" y="2013.75" width="23.0" height="6.60" fill="#ffd000"/>
<rect x="1115.8" y="2020.05" width="23.0" height="6.60" fill="#fdef00"/>
<rect x="1138.5" y="1875.15" width="23.0" height="6.60" fill="#7cff7b"/>
<rect x="1138.5" y="1881.45" width="23.0" height="6.60" fill="#bbff3c"/>
<rect x="1138.5" y="1887.75" width="23.0" height="6.60" fill="#d3ff24"/>
<rect x="1138.5" y="1894.05" width="23.0" height="6.60" fill="#daff1c"/>
<rect x="1138.5" y="1900.35" width="23.0" height="6.60" fill="#d2ff24"/>
<rect x="1138.5" y="1906.65" width="23.0" height="6.60" fill="#daff1d"/>
<rect x="1138.5" y="1912.95" width="23.0" height="6.60" fill="#d3ff24"/>
<rect x="1138.5" y="1919.25" width="23.0" height="6.60" fill="#dbff1c"/>
<rect x="1138.5" y="1925.55" width="23.0" height="6.60" fill="#a6ff51"/>
<rect x="1138.5" y="1931.85" width="23.0" height="6.60" fill="#d7ff1f"/>
<rect x="1138.5" y="1938.15" width="23.0" height="6.60" fill="#a1ff56"/>
<rect x="1138.5" y="1944.45" width="23.0" height="6.60" fill="#d1ff25"/>
<rect x="1138.5" y="1950.75" width="23.0" height="6.60" fill="#ffdb00"/>
<rect x="1138.5" y="1957.05" width="23.0" height="6.60" fill="#a1ff55"/>
<rect x="1138.5" y="1963.35" width="23.0" height="6.60" fill="#78ff7e"/>
<rect x="1138.5" y="1969.65" width="23.0" height="6.60" fill="#d9ff1e"/>
<rect x="1138.5" y="1975.95" width="23.0" height="6.60" fill="#daff1d"/>
<rect x="1138.5" y="1982.25" width="23.0" height="6.60" fill="#77ff80"/>
<rect x="1138.5" y="1988.55" width="23.0" height="6.60" fill="#ffcb00"/>
<rect x="1138.5" y="1994.85" width="23.0" height="6.60" fill="#ffc100"/>
<rect x="1138.5" y="2001.15" width="23.0" height="6.60" fill="#d5ff22"/>
<rect x="1138.5" y="2007.45" width="23.0" height="6.60" fill="#fbf100"/>
<rect x="1138.5" y="2013.75" width="23.0" height="6.60" fill="#ffd100"/>
<rect x="1138.5" y="2020.05" width="23.0" height="6.60" fill="#ffd800"/>
<rect x="1138.5" y="2026.35" width="23.0" height="6.60" fill="#ffe000"/>
<rect x="1161.2" y="1881.45" width="23.0" height="6.60" fill="#deff19"/>
<rect x="1161.2" y="1887.75" width="23.0" height="6.60" fill="#deff19"/>
<rect x="1161.2" y="1894.05" width="23.0" height="6.60" fill="#deff19"/>
<rect x="1161.2" y="1900.35" width="23.0" height="6.60" fill="#e9ff0e"/>
<rect x="1161.2" y="1906.65" width="23.0" height="6.60" fill="#ffe700"/>
<rect x="1161.2" y="1912.95" width="23.0" height="6.60" fill="#f3fa04"/>
<rect x="1161.2" y="1919.25" width="23.0" height="6.60" fill="#deff18"/>
<rect x="1161.2" y="1925.55" width="23.0" height="6.60" fill="#efff08"/>
<rect x="1161.2" y="1931.85" width="23.0" height="6.60" fill="#effe07"/>
<rect x="1161.2" y="1938.15" width="23.0" height="6.60" fill="#effe08"/>
<rect x="1161.2" y="1944.45" width="23.0" height="6.60" fill="#e8ff0f"/>
<rect x="1161.2" y="1950.75" width="23.0" height="6.60" fill="#ffe000"/>
<rect x="1161.2" y="1957.05" width="23.0" height="6.60" fill="#efff08"/>
<rect x="1161.2" y="1963.35" width="23.0" height="6.60" fill="#a4ff52"/>
<rect x="1161.2" y="1969.65" width="23.0" height="6.60" fill="#d8ff1f"/>
<rect x="1161.2" y="1975.95" width="23.0" height="6.60" fill="#e0ff17"/>
<rect x="1161.2" y="1982.25" width="23.0" height="6.60" fill="#f2fb05"/>
<rect x="1161.2" y="1988.55" width="23.0" height="6.60" fill="#ffd200"/>
<rect x="1161.2" y="1994.85" width="23.0" height="6.60" fill="#ffbf00"/>
<rect x="1161.2" y="2001.15" width="23.0" height="6.60" fill="#ffdb00"/>
<rect x="1161.2" y="2007.45" width="23.0" height="6.60" fill="#ffcf00"/>
<rect x="1161.2" y="2013.75" width="23.0" height="6.60" fill="#ffc200"/>
<rect x="1161.2" y="2020.05" width="23.0" height="6.60" fill="#ffc100"/>
<rect x="1161.2" y="2026.35" width="23.0" height="6.60" fill="#ffdf00"/>
<rect x="1183.9" y="1875.15" width="23.0" height="6.60" fill="#7cff7b"/>
<rect x="1183.9" y="1881.45" width="23.0" height="6.60" fill="#e5ff12"/>
<rect x="1183.9" y="1887.75" width="23.0" height="6.60" fill="#a2ff55"/>
<rect x="1183.9" y="1894.05" width="23.0" height="6.60" fill="#d7ff20"/>
<rect x="1183.9" y="1900.35" width="23.0" height="6.60" fill="#e6ff11"/>
<rect x="1183.9" y="1906.65" width="23.0" height="6.60" fill="#e5ff12"/>
<rect x="1183.9" y="1912.95" width="23.0" height="6.60" fill="#deff19"/>
<rect x="1183.9" y="1919.25" width="23.0" height="6.60" fill="#a9ff4e"/>
<rect x="1183.9" y="1925.55" width="23.0" height="6.60" fill="#d9ff1e"/>
<rect x="1183.9" y="1931.85" width="23.0" height="6.60" fill="#e7ff10"/>
<rect x="1183.9" y="1938.15" width="23.0" height="6.60" fill="#d4ff23"/>
<rect x="1183.9" y="1944.45" width="23.0" height="6.60" fill="#e7ff0f"/>
<rect x="1183.9" y="1950.75" width="23.0" height="6.60" fill="#e6ff11"/>
<rect x="1183.9" y="1957.05" width="23.0" height="6.60" fill="#a9ff4e"/>
<rect x="1183.9" y="1963.35" width="23.0" height="6.60" fill="#51ffa5"/>
<rect x="1183.9" y="1969.65" width="23.0" height="6.60" fill="#daff1d"/>
<rect x="1183.9" y="1975.95" width="23.0" height="6.60" fill="#d2ff25"/>
<rect x="1183.9" y="1982.25" width="23.0" height="6.60" fill="#a0ff57"/>
<rect x="1183.9" y="1988.55" width="23.0" height="6.60" fill="#ffcc00"/>
<rect x="1183.9" y="1994.85" width="23.0" height="6.60" fill="#ffbe00"/>
<rect x="1183.9" y="2001.15" width="23.0" height="6.60" fill="#a9ff4d"/>
<rect x="1183.9" y="2007.45" width="23.0" height="6.60" fill="#ffce00"/>
<rect x="1183.9" y="2013.75" width="23.0" height="6.60" fill="#ffc100"/>
<rect x="1183.9" y="2020.05" width="23.0" height="6.60" fill="#ffbf00"/>
<rect x="1183.9" y="2026.35" width="23.0" height="6.60" fill="#a0ff56"/>
<rect x="1206.6" y="1875.15" width="23.0" height="6.60" fill="#a5ff52"/>
<rect x="1206.6" y="1881.45" width="23.0" height="6.60" fill="#d5ff21"/>
<rect x="1206.6" y="1887.75" width="23.0" height="6.60" fill="#d2ff24"/>
<rect x="1206.6" y="1894.05" width="23.0" height="6.60" fill="#d7ff20"/>
<rect x="1206.6" y="1900.35" width="23.0" height="6.60" fill="#a3ff54"/>
<rect x="1206.6" y="1906.65" width="23.0" height="6.60" fill="#e1ff15"/>
<rect x="1206.6" y="1912.95" width="23.0" height="6.60" fill="#e0ff17"/>
<rect x="1206.6" y="1919.25" width="23.0" height="6.60" fill="#a3ff54"/>
<rect x="1206.6" y="1925.55" width="23.0" height="6.60" fill="#a3ff54"/>
<rect x="1206.6" y="1931.85" width="23.0" height="6.60" fill="#e2ff14"/>
<rect x="1206.6" y="1938.15" width="23.0" height="6.60" fill="#95ff62"/>
<rect x="1206.6" y="1944.45" width="23.0" height="6.60" fill="#daff1d"/>
<rect x="1206.6" y="1950.75" width="23.0" height="6.60" fill="#eeff09"/>
<rect x="1206.6" y="1957.05" width="23.0" height="6.60" fill="#d9ff1e"/>
<rect x="1206.6" y="1963.35" width="23.0" height="6.60" fill="#d4ff23"/>
<rect x="1206.6" y="1969.65" width="23.0" height="6.60" fill="#dbff1c"/>
<rect x="1206.6" y="1975.95" width="23.0" height="6.60" fill="#d4ff23"/>
<rect x="1206.6" y="1988.55" width="23.0" height="6.60" fill="#fbf000"/>
<rect x="1206.6" y="1994.85" width="23.0" height="6.60" fill="#ffd000"/>
<rect x="1206.6" y="2001.15" width="23.0" height="6.60" fill="#ffdb00"/>
<rect x="1206.6" y="2007.45" width="23.0" height="6.60" fill="#ffd200"/>
<rect x="1206.6" y="2013.75" width="23.0" height="6.60" fill="#ffc000"/>
<rect x="1206.6" y="2020.05" width="23.0" height="6.60" fill="#ffc400"/>
<rect x="1229.3" y="1881.45" width="23.0" height="6.60" fill="#a9ff4e"/>
<rect x="1229.3" y="1887.75" width="23.0" height="6.60" fill="#d5ff21"/>
<rect x="1229.3" y="1894.05" width="23.0" height="6.60" fill="#d6ff21"/>
<rect x="1229.3" y="1900.35" width="23.0" height="6.60" fill="#e2ff15"/>
<rect x="1229.3" y="1906.65" width="23.0" height="6.60" fill="#e5ff12"/>
<rect x="1229.3" y="1912.95" width="23.0" height="6.60" fill="#e6ff11"/>
<rect x="1229.3" y="1919.25" width="23.0" height="6.60" fill="#d6ff21"/>
<rect x="1229.3" y="1925.55" width="23.0" height="6.60" fill="#bfff38"/>
<rect x="1229.3" y="1931.85" width="23.0" height="6.60" fill="#e3ff14"/>
<rect x="1229.3" y="1938.15" width="23.0" height="6.60" fill="#ddff1a"/>
<rect x="1229.3" y="1944.45" width="23.0" height="6.60" fill="#eaff0d"/>
<rect x="1229.3" y="1950.75" width="23.0" height="6.60" fill="#ffda00"/>
<rect x="1229.3" y="1957.05" width="23.0" height="6.60" fill="#d9ff1e"/>
<rect x="1229.3" y="1963.35" width="23.0" height="6.60" fill="#4effa9"/>
<rect x="1229.3" y="1969.65" width="23.0" height="6.60" fill="#d9ff1d"/>
<rect x="1229.3" y="1975.95" width="23.0" height="6.60" fill="#e9ff0d"/>
<rect x="1229.3" y="1982.25" width="23.0" height="6.60" fill="#fcf000"/>
<rect x="1229.3" y="1988.55" width="23.0" height="6.60" fill="#ffd100"/>
<rect x="1229.3" y="1994.85" width="23.0" height="6.60" fill="#ffd300"/>
<rect x="1229.3" y="2001.15" width="23.0" height="6.60" fill="#ffdd00"/>
<rect x="1229.3" y="2007.45" width="23.0" height="6.60" fill="#eeff09"/>
<rect x="1229.3" y="2013.75" width="23.0" height="6.60" fill="#ffd100"/>
<rect x="1229.3" y="2020.05" width="23.0" height="6.60" fill="#ffbd00"/>
<rect x="1229.3" y="2026.35" width="23.0" height="6.60" fill="#ffbf00"/>
<rect x="1229.3" y="2032.65" width="23.0" height="6.60" fill="#d5ff22"/>
<rect x="1252.0" y="1881.45" width="23.0" height="6.60" fill="#a3ff54"/>
<rect x="1252.0" y="1887.75" width="23.0" height="6.60" fill="#eaff0c"/>
<rect x="1252.0" y="1894.05" width="23.0" height="6.60" fill="#d5ff22"/>
<rect x="1252.0" y="1900.35" width="23.0" height="6.60" fill="#e0ff17"/>
<rect x="1252.0" y="1906.65" width="23.0" height="6.60" fill="#e3ff14"/>
<rect x="1252.0" y="1912.95" width="23.0" height="6.60" fill="#e5ff12"/>
<rect x="1252.0" y="1919.25" width="23.0" height="6.60" fill="#d7ff20"/>
<rect x="1252.0" y="1925.55" width="23.0" height="6.60" fill="#a1ff56"/>
<rect x="1252.0" y="1931.85" width="23.0" height="6.60" fill="#ffe100"/>
<rect x="1252.0" y="1938.15" width="23.0" height="6.60" fill="#ffdf00"/>
<rect x="1252.0" y="1944.45" width="23.0" height="6.60" fill="#ecff0b"/>
<rect x="1252.0" y="1950.75" width="23.0" height="6.60" fill="#deff19"/>
<rect x="1252.0" y="1957.05" width="23.0" height="6.60" fill="#a0ff56"/>
<rect x="1252.0" y="1963.35" width="23.0" height="6.60" fill="#a3ff54"/>
<rect x="1252.0" y="1969.65" width="23.0" height="6.60" fill="#d4ff23"/>
<rect x="1252.0" y="1975.95" width="23.0" height="6.60" fill="#e6ff11"/>
<rect x="1252.0" y="1982.25" width="23.0" height="6.60" fill="#ffde00"/>
<rect x="1252.0" y="1988.55" width="23.0" height="6.60" fill="#ffe700"/>
<rect x="1252.0" y="1994.85" width="23.0" height="6.60" fill="#ffec00"/>
<rect x="1252.0" y="2001.15" width="23.0" height="6.60" fill="#d8ff1f"/>
<rect x="1252.0" y="2007.45" width="23.0" height="6.60" fill="#ffda00"/>
<rect x="1252.0" y="2013.75" width="23.0" height="6.60" fill="#d9ff1e"/>
<rect x="1252.0" y="2020.05" width="23.0" height="6.60" fill="#ffcb00"/>
<rect x="1252.0" y="2026.35" width="23.0" height="6.60" fill="#ffdf00"/>
<rect x="1252.0" y="2032.65" width="23.0" height="6.60" fill="#ff9000"/>
<rect x="1252.0" y="2038.95" width="23.0" height="6.60" fill="#ffa800"/>
<rect x="1274.7" y="1881.45" width="23.0" height="6.60" fill="#56ffa1"/>
<rect x="1274.7" y="1887.75" width="23.0" height="6.60" fill="#d5ff22"/>
<rect x="1274.7" y="1894.05" width="23.0" height="6.60" fill="#d6ff21"/>
<rect x="1274.7" y="1900.35" width="23.0" height="6.60" fill="#daff1d"/>
<rect x="1274.7" y="1906.65" width="23.0" height="6.60" fill="#f5f802"/>
<rect x="1274.7" y="1912.95" width="23.0" height="6.60" fill="#f4f903"/>
<rect x="1274.7" y="1919.25" width="23.0" height="6.60" fill="#d9ff1e"/>
<rect x="1274.7" y="1925.55" width="23.0" height="6.60" fill="#c1ff36"/>
<rect x="1274.7" y="1931.85" width="23.0" height="6.60" fill="#e6ff10"/>
<rect x="1274.7" y="1938.15" width="23.0" height="6.60" fill="#e6ff11"/>
<rect x="1274.7" y="1944.45" width="23.0" height="6.60" fill="#ffe000"/>
<rect x="1274.7" y="1950.75" width="23.0" height="6.60" fill="#ddff1a"/>
<rect x="1274.7" y="1957.05" width="23.0" height="6.60" fill="#93ff64"/>
<rect x="1274.7" y="1963.35" width="23.0" height="6.60" fill="#a1ff55"/>
<rect x="1274.7" y="1969.65" width="23.0" height="6.60" fill="#d4ff23"/>
<rect x="1274.7" y="1975.95" width="23.0" height="6.60" fill="#e9ff0d"/>
<rect x="1274.7" y="1982.25" width="23.0" height="6.60" fill="#ebff0c"/>
<rect x="1274.7" y="1988.55" width="23.0" height="6.60" fill="#ffd100"/>
<rect x="1274.7" y="1994.85" width="23.0" height="6.60" fill="#ffdc00"/>
<rect x="1274.7" y="2001.15" width="23.0" height="6.60" fill="#d7ff1f"/>
<rect x="1274.7" y="2007.45" width="23.0" height="6.60" fill="#eaff0d"/>
<rect x="1274.7" y="2013.75" width="23.0" height="6.60" fill="#ffe300"/>
<rect x="1274.7" y="2020.05" width="23.0" height="6.60" fill="#ffd900"/>
<rect x="1274.7" y="2026.35" width="23.0" height="6.60" fill="#ffbf00"/>
<rect x="1274.7" y="2032.65" width="23.0" height="6.60" fill="#ffa800"/>
<rect x="1274.7" y="2038.95" width="23.0" height="6.60" fill="#ffdf00"/>
<rect x="1297.4" y="1887.75" width="23.0" height="6.60" fill="#d8ff1e"/>
<rect x="1297.4" y="1894.05" width="23.0" height="6.60" fill="#dbff1c"/>
<rect x="1297.4" y="1900.35" width="23.0" height="6.60" fill="#d2ff25"/>
<rect x="1297.4" y="1906.65" width="23.0" height="6.60" fill="#d1ff26"/>
<rect x="1297.4" y="1912.95" width="23.0" height="6.60" fill="#a4ff52"/>
<rect x="1297.4" y="1931.85" width="23.0" height="6.60" fill="#d5ff22"/>
<rect x="1297.4" y="1938.15" width="23.0" height="6.60" fill="#c4ff33"/>
<rect x="1297.4" y="1944.45" width="23.0" height="6.60" fill="#ffda00"/>
<rect x="1297.4" y="1950.75" width="23.0" height="6.60" fill="#a3ff54"/>
<rect x="1297.4" y="1975.95" width="23.0" height="6.60" fill="#e1ff16"/>
<rect x="1297.4" y="1982.25" width="23.0" height="6.60" fill="#91ff66"/>
<rect x="1297.4" y="1988.55" width="23.0" height="6.60" fill="#ffbd00"/>
<rect x="1297.4" y="1994.85" width="23.0" height="6.60" fill="#a2ff55"/>
<rect x="1297.4" y="2013.75" width="23.0" height="6.60" fill="#ffc300"/>
<rect x="1297.4" y="2020.05" width="23.0" height="6.60" fill="#ffc600"/>
<rect x="1297.4" y="2026.35" width="23.0" height="6.60" fill="#ffb200"/>
<rect x="1320.1" y="1875.15" width="23.0" height="6.60" fill="#8bff6b"/>
<rect x="1320.1" y="1881.45" width="23.0" height="6.60" fill="#c4ff33"/>
<rect x="1320.1" y="1887.75" width="23.0" height="6.60" fill="#d6ff21"/>
<rect x="1320.1" y="1894.05" width="23.0" height="6.60" fill="#c0ff36"/>
<rect x="1320.1" y="1900.35" width="23.0" height="6.60" fill="#a0ff56"/>
<rect x="1320.1" y="1906.65" width="23.0" height="6.60" fill="#a2ff55"/>
<rect x="1320.1" y="1912.95" width="23.0" height="6.60" fill="#a4ff53"/>
<rect x="1320.1" y="1919.25" width="23.0" height="6.60" fill="#c3ff34"/>
<rect x="1320.1" y="1925.55" width="23.0" height="6.60" fill="#c0ff37"/>
<rect x="1320.1" y="1931.85" width="23.0" height="6.60" fill="#beff39"/>
<rect x="1320.1" y="1938.15" width="23.0" height="6.60" fill="#a9ff4d"/>
<rect x="1320.1" y="1944.45" width="23.0" height="6.60" fill="#c1ff36"/>
<rect x="1320.1" y="1950.75" width="23.0" height="6.60" fill="#c0ff37"/>
<rect x="1320.1" y="1957.05" width="23.0" height="6.60" fill="#8dff6a"/>
<rect x="1320.1" y="1963.35" width="23.0" height="6.60" fill="#a3ff54"/>
<rect x="1320.1" y="1969.65" width="23.0" height="6.60" fill="#a8ff4e"/>
<rect x="1320.1" y="1975.95" width="23.0" height="6.60" fill="#a1ff56"/>
<rect x="1320.1" y="1982.25" width="23.0" height="6.60" fill="#c0ff37"/>
<rect x="1320.1" y="1988.55" width="23.0" height="6.60" fill="#ffdd00"/>
<rect x="1320.1" y="1994.85" width="23.0" height="6.60" fill="#ffc300"/>
<rect x="1320.1" y="2001.15" width="23.0" height="6.60" fill="#d9ff1e"/>
<rect x="1320.1" y="2007.45" width="23.0" height="6.60" fill="#ffbd00"/>
<rect x="1320.1" y="2013.75" width="23.0" height="6.60" fill="#ffbe00"/>
<rect x="1320.1" y="2020.05" width="23.0" height="6.60" fill="#ffdb00"/>
<rect x="1320.1" y="2026.35" width="23.0" height="6.60" fill="#d3ff24"/>
<rect x="1342.8" y="1875.15" width="23.0" height="6.60" fill="#a0ff57"/>
<rect x="1342.8" y="1881.45" width="23.0" height="6.60" fill="#d5ff22"/>
<rect x="1342.8" y="1887.75" width="23.0" height="6.60" fill="#d4ff23"/>
<rect x="1342.8" y="1894.05" width="23.0" height="6.60" fill="#d3ff24"/>
<rect x="1342.8" y="1900.35" width="23.0" height="6.60" fill="#a8ff4f"/>
<rect x="1342.8" y="1906.65" width="23.0" height="6.60" fill="#a2ff55"/>
<rect x="1342.8" y="1912.95" width="23.0" height="6.60" fill="#e5ff12"/>
<rect x="1342.8" y="1919.25" width="23.0" height="6.60" fill="#a9ff4e"/>
<rect x="1342.8" y="1925.55" width="23.0" height="6.60" fill="#deff19"/>
<rect x="1342.8" y="1931.85" width="23.0" height="6.60" fill="#a9ff4e"/>
<rect x="1342.8" y="1950.75" width="23.0" height="6.60" fill="#a4ff53"/>
<rect x="1342.8" y="1957.05" width="23.0" height="6.60" fill="#d3ff24"/>
<rect x="1342.8" y="1963.35" width="23.0" height="6.60" fill="#a1ff55"/>
<rect x="1342.8" y="1969.65" width="23.0" height="6.60" fill="#a0ff57"/>
<rect x="1342.8" y="1975.95" width="23.0" height="6.60" fill="#7bff7b"/>
<rect x="1342.8" y="1994.85" width="23.0" height="6.60" fill="#ffdf00"/>
<rect x="1342.8" y="2001.15" width="23.0" height="6.60" fill="#ffda00"/>
<rect x="1342.8" y="2007.45" width="23.0" height="6.60" fill="#ffda00"/>
<rect x="1342.8" y="2013.75" width="23.0" height="6.60" fill="#ffc700"/>
<rect x="1342.8" y="2020.05" width="23.0" height="6.60" fill="#a4ff53"/>
<rect x="1365.5" y="1875.15" width="23.0" height="6.60" fill="#62ff95"/>
<rect x="1365.5" y="1881.45" width="23.0" height="6.60" fill="#a1ff55"/>
<rect x="1365.5" y="1887.75" width="23.0" height="6.60" fill="#d3ff23"/>
<rect x="1365.5" y="1894.05" width="23.0" height="6.60" fill="#d4ff23"/>
<rect x="1365.5" y="1900.35" width="23.0" height="6.60" fill="#e3ff13"/>
<rect x="1365.5" y="1906.65" width="23.0" height="6.60" fill="#e0ff17"/>
<rect x="1365.5" y="1912.95" width="23.0" height="6.60" fill="#d2ff25"/>
<rect x="1365.5" y="1919.25" width="23.0" height="6.60" fill="#8dff6a"/>
<rect x="1365.5" y="1925.55" width="23.0" height="6.60" fill="#a4ff53"/>
<rect x="1365.5" y="1931.85" width="23.0" height="6.60" fill="#e2ff15"/>
<rect x="1365.5" y="1938.15" width="23.0" height="6.60" fill="#bdff3a"/>
<rect x="1365.5" y="1944.45" width="23.0" height="6.60" fill="#d8ff1f"/>
<rect x="1365.5" y="1950.75" width="23.0" height="6.60" fill="#d3ff24"/>
<rect x="1365.5" y="1957.05" width="23.0" height="6.60" fill="#54ffa3"/>
<rect x="1365.5" y="1963.35" width="23.0" height="6.60" fill="#53ffa3"/>
<rect x="1365.5" y="1969.65" width="23.0" height="6.60" fill="#a1ff55"/>
<rect x="1365.5" y="1975.95" width="23.0" height="6.60" fill="#d8ff1e"/>
<rect x="1365.5" y="1988.55" width="23.0" height="6.60" fill="#ffd100"/>
<rect x="1365.5" y="1994.85" width="23.0" height="6.60" fill="#ffcf00"/>
<rect x="1365.5" y="2001.15" width="23.0" height="6.60" fill="#a5ff51"/>
<rect x="1365.5" y="2007.45" width="23.0" height="6.60" fill="#a6ff51"/>
<rect x="1365.5" y="2013.75" width="23.0" height="6.60" fill="#ffc200"/>
<rect x="1365.5" y="2020.05" width="23.0" height="6.60" fill="#ffc700"/>
<rect x="1365.5" y="2026.35" width="23.0" height="6.60" fill="#edff0a"/>
<rect x="1388.2" y="1881.45" width="23.0" height="6.60" fill="#7fff78"/>
<rect x="1388.2" y="1887.75" width="23.0" height="6.60" fill="#e1ff15"/>
<rect x="1388.2" y="1894.05" width="23.0" height="6.60" fill="#d7ff20"/>
<rect x="1388.2" y="1900.35" width="23.0" height="6.60" fill="#dfff18"/>
<rect x="1388.2" y="1906.65" width="23.0" height="6.60" fill="#daff1d"/>
<rect x="1388.2" y="1912.95" width="23.0" height="6.60" fill="#a6ff50"/>
<rect x="1388.2" y="1931.85" width="23.0" height="6.60" fill="#dfff18"/>
<rect x="1388.2" y="1938.15" width="23.0" height="6.60" fill="#d9ff1e"/>
<rect x="1388.2" y="1944.45" width="23.0" height="6.60" fill="#e6ff11"/>
<rect x="1388.2" y="1950.75" width="23.0" height="6.60" fill="#d4ff22"/>
<rect x="1388.2" y="1969.65" width="23.0" height="6.60" fill="#68ff8f"/>
<rect x="1388.2" y="1975.95" width="23.0" height="6.60" fill="#d6ff21"/>
<rect x="1388.2" y="1982.25" width="23.0" height="6.60" fill="#8dff6a"/>
<rect x="1388.2" y="1988.55" width="23.0" height="6.60" fill="#ffdb00"/>
<rect x="1388.2" y="1994.85" width="23.0" height="6.60" fill="#e9ff0e"/>
<rect x="1388.2" y="2013.75" width="23.0" height="6.60" fill="#ffcd00"/>
<rect x="1388.2" y="2020.05" width="23.0" height="6.60" fill="#ffc100"/>
<rect x="1388.2" y="2026.35" width="23.0" height="6.60" fill="#ffc600"/>
<rect x="1410.9" y="1881.45" width="23.0" height="6.60" fill="#7cff7b"/>
<rect x="1410.9" y="1887.75" width="23.0" height="6.60" fill="#e5ff12"/>
<rect x="1410.9" y="1894.05" width="23.0" height="6.60" fill="#d6ff21"/>
<rect x="1410.9" y="1900.35" width="23.0" height="6.60" fill="#ebff0c"/>
<rect x="1410.9" y="1906.65" width="23.0" height="6.60" fill="#e5ff12"/>
<rect x="1410.9" y="1912.95" width="23.0" height="6.60" fill="#e1ff16"/>
<rect x="1410.9" y="1931.85" width="23.0" height="6.60" fill="#d6ff21"/>
<rect x="1410.9" y="1938.15" width="23.0" height="6.60" fill="#ebff0c"/>
<rect x="1410.9" y="1944.45" width="23.0" height="6.60" fill="#ffe800"/>
<rect x="1410.9" y="1950.75" width="23.0" height="6.60" fill="#f4f903"/>
<rect x="1410.9" y="1969.65" width="23.0" height="6.60" fill="#4effa9"/>
<rect x="1410.9" y="1975.95" width="23.0" height="6.60" fill="#d8ff1e"/>
<rect x="1410.9" y="1982.25" width="23.0" height="6.60" fill="#d6ff20"/>
<rect x="1410.9" y="1988.55" width="23.0" height="6.60" fill="#ffd200"/>
<rect x="1410.9" y="1994.85" width="23.0" height="6.60" fill="#eeff08"/>
<rect x="1410.9" y="2007.45" width="23.0" height="6.60" fill="#ffcb00"/>
<rect x="1410.9" y="2013.75" width="23.0" height="6.60" fill="#ffcf00"/>
<rect x="1410.9" y="2020.05" width="23.0" height="6.60" fill="#ffbc00"/>
<rect x="1410.9" y="2026.35" width="23.0" height="6.60" fill="#ffb000"/>
<rect x="1433.6" y="1887.75" width="23.0" height="6.60" fill="#d8ff1e"/>
<rect x="1433.6" y="1894.05" width="23.0" height="6.60" fill="#dfff17"/>
<rect x="1433.6" y="1900.35" width="23.0" height="6.60" fill="#d1ff26"/>
<rect x="1433.6" y="1906.65" width="23.0" height="6.60" fill="#d8ff1f"/>
<rect x="1433.6" y="1912.95" width="23.0" height="6.60" fill="#d8ff1f"/>
<rect x="1433.6" y="1919.25" width="23.0" height="6.60" fill="#51ffa6"/>
<rect x="1433.6" y="1931.85" width="23.0" height="6.60" fill="#d6ff21"/>
<rect x="1433.6" y="1938.15" width="23.0" height="6.60" fill="#e2ff15"/>
<rect x="1433.6" y="1944.45" width="23.0" height="6.60" fill="#f4f802"/>
<rect x="1433.6" y="1950.75" width="23.0" height="6.60" fill="#e3ff13"/>
<rect x="1433.6" y="1969.65" width="23.0" height="6.60" fill="#a5ff52"/>
<rect x="1433.6" y="1975.95" width="23.0" height="6.60" fill="#e9ff0d"/>
<rect x="1433.6" y="1982.25" width="23.0" height="6.60" fill="#fbf100"/>
<rect x="1433.6" y="1988.55" width="23.0" height="6.60" fill="#ffcf00"/>
<rect x="1433.6" y="1994.85" width="23.0" height="6.60" fill="#d4ff23"/>
<rect x="1433.6" y="2001.15" width="23.0" height="6.60" fill="#a7ff50"/>
<rect x="1433.6" y="2007.45" width="23.0" height="6.60" fill="#a1ff55"/>
<rect x="1433.6" y="2013.75" width="23.0" height="6.60" fill="#ffd100"/>
<rect x="1433.6" y="2020.05" width="23.0" height="6.60" fill="#ffc500"/>
<rect x="1433.6" y="2026.35" width="23.0" height="6.60" fill="#ffc300"/>
<rect x="1433.6" y="2032.65" width="23.0" height="6.60" fill="#c0ff36"/>
<rect x="1456.3" y="1887.75" width="23.0" height="6.60" fill="#d2ff25"/>
<rect x="1456.3" y="1894.05" width="23.0" height="6.60" fill="#d1ff25"/>
<rect x="1456.3" y="1900.35" width="23.0" height="6.60" fill="#eaff0d"/>
<rect x="1456.3" y="1906.65" width="23.0" height="6.60" fill="#d3ff24"/>
<rect x="1456.3" y="1912.95" width="23.0" height="6.60" fill="#90ff67"/>
<rect x="1456.3" y="1931.85" width="23.0" height="6.60" fill="#d3ff24"/>
<rect x="1456.3" y="1938.15" width="23.0" height="6.60" fill="#ddff19"/>
<rect x="1456.3" y="1944.45" width="23.0" height="6.60" fill="#ffec00"/>
<rect x="1456.3" y="1950.75" width="23.0" height="6.60" fill="#94ff63"/>
<rect x="1456.3" y="1975.95" width="23.0" height="6.60" fill="#daff1d"/>
<rect x="1456.3" y="1982.25" width="23.0" height="6.60" fill="#d6ff21"/>
<rect x="1456.3" y="1988.55" width="23.0" height="6.60" fill="#ffd100"/>
<rect x="1456.3" y="1994.85" width="23.0" height="6.60" fill="#a0ff57"/>
<rect x="1456.3" y="2013.75" width="23.0" height="6.60" fill="#ffe000"/>
<rect x="1456.3" y="2020.05" width="23.0" height="6.60" fill="#ffc400"/>
<rect x="1456.3" y="2026.35" width="23.0" height="6.60" fill="#ffae00"/>
<rect x="1479.0" y="1887.75" width="23.0" height="6.60" fill="#bcff3b"/>
<rect x="1479.0" y="1894.05" width="23.0" height="6.60" fill="#daff1c"/>
<rect x="1479.0" y="1900.35" width="23.0" height="6.60" fill="#f7f600"/>
<rect x="1479.0" y="1906.65" width="23.0" height="6.60" fill="#d5ff22"/>
<rect x="1479.0" y="1912.95" width="23.0" height="6.60" fill="#dfff18"/>
<rect x="1479.0" y="1919.25" width="23.0" height="6.60" fill="#a9ff4e"/>
<rect x="1479.0" y="1925.55" width="23.0" height="6.60" fill="#78ff7e"/>
<rect x="1479.0" y="1931.85" width="23.0" height="6.60" fill="#d7ff20"/>
<rect x="1479.0" y="1938.15" width="23.0" height="6.60" fill="#ebff0c"/>
<rect x="1479.0" y="1944.45" width="23.0" height="6.60" fill="#f4f903"/>
<rect x="1479.0" y="1950.75" width="23.0" height="6.60" fill="#dfff18"/>
<rect x="1479.0" y="1957.05" width="23.0" height="6.60" fill="#95ff62"/>
<rect x="1479.0" y="1969.65" width="23.0" height="6.60" fill="#a7ff4f"/>
<rect x="1479.0" y="1975.95" width="23.0" height="6.60" fill="#d8ff1f"/>
<rect x="1479.0" y="1982.25" width="23.0" height="6.60" fill="#fbf100"/>
<rect x="1479.0" y="1988.55" width="23.0" height="6.60" fill="#ffd400"/>
<rect x="1479.0" y="1994.85" width="23.0" height="6.60" fill="#e3ff13"/>
<rect x="1479.0" y="2001.15" width="23.0" height="6.60" fill="#d8ff1e"/>
<rect x="1479.0" y="2007.45" width="23.0" height="6.60" fill="#a2ff55"/>
<rect x="1479.0" y="2013.75" width="23.0" height="6.60" fill="#ffd000"/>
<rect x="1479.0" y="2020.05" width="23.0" height="6.60" fill="#ffca00"/>
<rect x="1479.0" y="2026.35" width="23.0" height="6.60" fill="#ffb500"/>
<rect x="1479.0" y="2032.65" width="23.0" height="6.60" fill="#c2ff35"/>
<rect x="1501.7" y="1881.45" width="23.0" height="6.60" fill="#a1ff56"/>
<rect x="1501.7" y="1887.75" width="23.0" height="6.60" fill="#c1ff35"/>
<rect x="1501.7" y="1894.05" width="23.0" height="6.60" fill="#dfff18"/>
<rect x="1501.7" y="1900.35" width="23.0" height="6.60" fill="#e1ff15"/>
<rect x="1501.7" y="1906.65" width="23.0" height="6.60" fill="#e0ff17"/>
<rect x="1501.7" y="1912.95" width="23.0" height="6.60" fill="#daff1d"/>
<rect x="1501.7" y="1919.25" width="23.0" height="6.60" fill="#92ff64"/>
<rect x="1501.7" y="1925.55" width="23.0" height="6.60" fill="#a5ff52"/>
<rect x="1501.7" y="1931.85" width="23.0" height="6.60" fill="#f9f300"/>
<rect x="1501.7" y="1938.15" width="23.0" height="6.60" fill="#eaff0d"/>
<rect x="1501.7" y="1944.45" width="23.0" height="6.60" fill="#edff09"/>
<rect x="1501.7" y="1950.75" width="23.0" height="6.60" fill="#f4f802"/>
<rect x="1501.7" y="1957.05" width="23.0" height="6.60" fill="#c0ff37"/>
<rect x="1501.7" y="1963.35" width="23.0" height="6.60" fill="#7cff7b"/>
<rect x="1501.7" y="1969.65" width="23.0" height="6.60" fill="#bfff38"/>
<rect x="1501.7" y="1975.95" width="23.0" height="6.60" fill="#ddff1a"/>
<rect x="1501.7" y="1982.25" width="23.0" height="6.60" fill="#fcf000"/>
<rect x="1501.7" y="1988.55" width="23.0" height="6.60" fill="#ffdc00"/>
<rect x="1501.7" y="1994.85" width="23.0" height="6.60" fill="#ffe100"/>
<rect x="1501.7" y="2001.15" width="23.0" height="6.60" fill="#d8ff1e"/>
<rect x="1501.7" y="2007.45" width="23.0" height="6.60" fill="#ffde00"/>
<rect x="1501.7" y="2013.75" width="23.0" height="6.60" fill="#ffd900"/>
<rect x="1501.7" y="2020.05" width="23.0" height="6.60" fill="#ffda00"/>
<rect x="1501.7" y="2026.35" width="23.0" height="6.60" fill="#ffdb00"/>
<rect x="1501.7" y="2032.65" width="23.0" height="6.60" fill="#f6f701"/>
<rect x="1501.7" y="2038.95" width="23.0" height="6.60" fill="#d1ff25"/>
<rect x="1524.4" y="1881.45" width="23.0" height="6.60" fill="#7cff7b"/>
<rect x="1524.4" y="1887.75" width="23.0" height="6.60" fill="#d8ff1e"/>
<rect x="1524.4" y="1894.05" width="23.0" height="6.60" fill="#efff08"/>
<rect x="1524.4" y="1900.35" width="23.0" height="6.60" fill="#e8ff0f"/>
<rect x="1524.4" y="1906.65" width="23.0" height="6.60" fill="#e7ff10"/>
<rect x="1524.4" y="1912.95" width="23.0" height="6.60" fill="#e6ff11"/>
<rect x="1524.4" y="1919.25" width="23.0" height="6.60" fill="#d8ff1f"/>
<rect x="1524.4" y="1925.55" width="23.0" height="6.60" fill="#a4ff52"/>
<rect x="1524.4" y="1931.85" width="23.0" height="6.60" fill="#e4ff13"/>
<rect x="1524.4" y="1938.15" width="23.0" height="6.60" fill="#e7ff10"/>
<rect x="1524.4" y="1944.45" width="23.0" height="6.60" fill="#ebff0c"/>
<rect x="1524.4" y="1950.75" width="23.0" height="6.60" fill="#ecff0b"/>
<rect x="1524.4" y="1957.05" width="23.0" height="6.60" fill="#a6ff51"/>
<rect x="1524.4" y="1969.65" width="23.0" height="6.60" fill="#a1ff56"/>
<rect x="1524.4" y="1975.95" width="23.0" height="6.60" fill="#deff19"/>
<rect x="1524.4" y="1982.25" width="23.0" height="6.60" fill="#f8f400"/>
<rect x="1524.4" y="1988.55" width="23.0" height="6.60" fill="#ffda00"/>
<rect x="1524.4" y="1994.85" width="23.0" height="6.60" fill="#ffe200"/>
<rect x="1524.4" y="2001.15" width="23.0" height="6.60" fill="#faf200"/>
<rect x="1524.4" y="2007.45" width="23.0" height="6.60" fill="#d2ff25"/>
<rect x="1524.4" y="2013.75" width="23.0" height="6.60" fill="#ffcd00"/>
<rect x="1524.4" y="2020.05" width="23.0" height="6.60" fill="#ffdf00"/>
<rect x="1524.4" y="2026.35" width="23.0" height="6.60" fill="#ffb400"/>
<rect x="1524.4" y="2032.65" width="23.0" height="6.60" fill="#ffbc00"/>
<rect x="1547.1" y="1881.45" width="23.0" height="6.60" fill="#91ff66"/>
<rect x="1547.1" y="1887.75" width="23.0" height="6.60" fill="#d4ff23"/>
<rect x="1547.1" y="1894.05" width="23.0" height="6.60" fill="#e3ff13"/>
<rect x="1547.1" y="1900.35" width="23.0" height="6.60" fill="#e6ff11"/>
<rect x="1547.1" y="1906.65" width="23.0" height="6.60" fill="#e8ff0e"/>
<rect x="1547.1" y="1912.95" width="23.0" height="6.60" fill="#e3ff13"/>
<rect x="1547.1" y="1919.25" width="23.0" height="6.60" fill="#deff19"/>
<rect x="1547.1" y="1925.55" width="23.0" height="6.60" fill="#a0ff57"/>
<rect x="1547.1" y="1931.85" width="23.0" height="6.60" fill="#e2ff15"/>
<rect x="1547.1" y="1938.15" width="23.0" height="6.60" fill="#f5f802"/>
<rect x="1547.1" y="1944.45" width="23.0" height="6.60" fill="#fbf000"/>
<rect x="1547.1" y="1950.75" width="23.0" height="6.60" fill="#f3fa04"/>
<rect x="1547.1" y="1957.05" width="23.0" height="6.60" fill="#a7ff4f"/>
<rect x="1547.1" y="1963.35" width="23.0" height="6.60" fill="#8fff68"/>
<rect x="1547.1" y="1969.65" width="23.0" height="6.60" fill="#d9ff1e"/>
<rect x="1547.1" y="1975.95" width="23.0" height="6.60" fill="#eaff0d"/>
<rect x="1547.1" y="1982.25" width="23.0" height="6.60" fill="#ffea00"/>
<rect x="1547.1" y="1988.55" width="23.0" height="6.60" fill="#ffd200"/>
<rect x="1547.1" y="1994.85" width="23.0" height="6.60" fill="#ffe100"/>
<rect x="1547.1" y="2001.15" width="23.0" height="6.60" fill="#bfff38"/>
<rect x="1547.1" y="2007.45" width="23.0" height="6.60" fill="#ffcc00"/>
<rect x="1547.1" y="2013.75" width="23.0" height="6.60" fill="#ffe000"/>
<rect x="1547.1" y="2020.05" width="23.0" height="6.60" fill="#ffe100"/>
<rect x="1547.1" y="2026.35" width="23.0" height="6.60" fill="#ffc300"/>
<rect x="1547.1" y="2032.65" width="23.0" height="6.60" fill="#bcff3b"/>
<rect x="1569.8" y="1881.45" width="23.0" height="6.60" fill="#50ffa6"/>
<rect x="1569.8" y="1887.75" width="23.0" height="6.60" fill="#c0ff36"/>
<rect x="1569.8" y="1894.05" width="23.0" height="6.60" fill="#d6ff20"/>
<rect x="1569.8" y="1900.35" width="23.0" height="6.60" fill="#c1ff36"/>
<rect x="1569.8" y="1906.65" width="23.0" height="6.60" fill="#e8ff0e"/>
<rect x="1569.8" y="1912.95" width="23.0" height="6.60" fill="#ddff1a"/>
<rect x="1569.8" y="1919.25" width="23.0" height="6.60" fill="#d1ff26"/>
<rect x="1569.8" y="1925.55" width="23.0" height="6.60" fill="#a3ff54"/>
<rect x="1569.8" y="1931.85" width="23.0" height="6.60" fill="#deff18"/>
<rect x="1569.8" y="1938.15" width="23.0" height="6.60" fill="#ebff0c"/>
<rect x="1569.8" y="1944.45" width="23.0" height="6.60" fill="#ffe100"/>
<rect x="1569.8" y="1950.75" width="23.0" height="6.60" fill="#edff0a"/>
<rect x="1569.8" y="1957.05" width="23.0" height="6.60" fill="#c1ff36"/>
<rect x="1569.8" y="1963.35" width="23.0" height="6.60" fill="#7dff7a"/>
<rect x="1569.8" y="1969.65" width="23.0" height="6.60" fill="#d8ff1f"/>
<rect x="1569.8" y="1975.95" width="23.0" height="6.60" fill="#ebff0c"/>
<rect x="1569.8" y="1982.25" width="23.0" height="6.60" fill="#feed00"/>
<rect x="1569.8" y="1988.55" width="23.0" height="6.60" fill="#ffd200"/>
<rect x="1569.8" y="1994.85" width="23.0" height="6.60" fill="#e6ff11"/>
<rect x="1569.8" y="2001.15" width="23.0" height="6.60" fill="#edff09"/>
<rect x="1569.8" y="2007.45" width="23.0" height="6.60" fill="#ffd000"/>
<rect x="1569.8" y="2013.75" width="23.0" height="6.60" fill="#ffd400"/>
<rect x="1569.8" y="2020.05" width="23.0" height="6.60" fill="#efff08"/>
<rect x="1569.8" y="2026.35" width="23.0" height="6.60" fill="#ffb300"/>
<rect x="1569.8" y="2032.65" width="23.0" height="6.60" fill="#ffc000"/>
<rect x="1592.5" y="1887.75" width="23.0" height="6.60" fill="#e1ff16"/>
<rect x="1592.5" y="1894.05" width="23.0" height="6.60" fill="#deff19"/>
<rect x="1592.5" y="1900.35" width="23.0" height="6.60" fill="#e6ff10"/>
<rect x="1592.5" y="1906.65" width="23.0" height="6.60" fill="#deff19"/>
<rect x="1592.5" y="1912.95" width="23.0" height="6.60" fill="#e9ff0e"/>
<rect x="1592.5" y="1919.25" width="23.0" height="6.60" fill="#e6ff10"/>
<rect x="1592.5" y="1925.55" width="23.0" height="6.60" fill="#a1ff56"/>
<rect x="1592.5" y="1931.85" width="23.0" height="6.60" fill="#e1ff15"/>
<rect x="1592.5" y="1938.15" width="23.0" height="6.60" fill="#ffec00"/>
<rect x="1592.5" y="1944.45" width="23.0" height="6.60" fill="#ffe100"/>
<rect x="1592.5" y="1950.75" width="23.0" height="6.60" fill="#ffe700"/>
<rect x="1592.5" y="1957.05" width="23.0" height="6.60" fill="#a4ff53"/>
<rect x="1592.5" y="1963.35" width="23.0" height="6.60" fill="#77ff80"/>
<rect x="1592.5" y="1969.65" width="23.0" height="6.60" fill="#d6ff21"/>
<rect x="1592.5" y="1975.95" width="23.0" height="6.60" fill="#faf200"/>
<rect x="1592.5" y="1982.25" width="23.0" height="6.60" fill="#ffdc00"/>
<rect x="1592.5" y="1988.55" width="23.0" height="6.60" fill="#ffda00"/>
<rect x="1592.5" y="1994.85" width="23.0" height="6.60" fill="#ffd900"/>
<rect x="1592.5" y="2001.15" width="23.0" height="6.60" fill="#ffe300"/>
<rect x="1592.5" y="2007.45" width="23.0" height="6.60" fill="#d8ff1f"/>
<rect x="1592.5" y="2013.75" width="23.0" height="6.60" fill="#d4ff23"/>
<rect x="1592.5" y="2020.05" width="23.0" height="6.60" fill="#ffde00"/>
<rect x="1592.5" y="2026.35" width="23.0" height="6.60" fill="#ffb600"/>
<rect x="1592.5" y="2032.65" width="23.0" height="6.60" fill="#ffa600"/>
<rect x="1615.2" y="1887.75" width="23.0" height="6.60" fill="#deff19"/>
<rect x="1615.2" y="1894.05" width="23.0" height="6.60" fill="#e3ff14"/>
<rect x="1615.2" y="1900.35" width="23.0" height="6.60" fill="#ddff19"/>
<rect x="1615.2" y="1906.65" width="23.0" height="6.60" fill="#e6ff11"/>
<rect x="1615.2" y="1912.95" width="23.0" height="6.60" fill="#a0ff57"/>
<rect x="1615.2" y="1931.85" width="23.0" height="6.60" fill="#ffe700"/>
<rect x="1615.2" y="1938.15" width="23.0" height="6.60" fill="#fcf000"/>
<rect x="1615.2" y="1944.45" width="23.0" height="6.60" fill="#e6ff10"/>
<rect x="1615.2" y="1950.75" width="23.0" height="6.60" fill="#c2ff35"/>
<rect x="1615.2" y="1969.65" width="23.0" height="6.60" fill="#90ff67"/>
<rect x="1615.2" y="1975.95" width="23.0" height="6.60" fill="#ffe900"/>
<rect x="1615.2" y="1982.25" width="23.0" height="6.60" fill="#ffde00"/>
<rect x="1615.2" y="1988.55" width="23.0" height="6.60" fill="#f8f400"/>
<rect x="1615.2" y="1994.85" width="23.0" height="6.60" fill="#8cff6b"/>
<rect x="1615.2" y="2007.45" width="23.0" height="6.60" fill="#a6ff51"/>
<rect x="1615.2" y="2013.75" width="23.0" height="6.60" fill="#ebff0c"/>
<rect x="1615.2" y="2020.05" width="23.0" height="6.60" fill="#ffbc00"/>
<rect x="1615.2" y="2026.35" width="23.0" height="6.60" fill="#ffb900"/>
<rect x="1615.2" y="2032.65" width="23.0" height="6.60" fill="#ff9700"/>
<rect x="1615.2" y="2038.95" width="23.0" height="6.60" fill="#ffce00"/>
<rect x="1637.9" y="1887.75" width="23.0" height="6.60" fill="#daff1d"/>
<rect x="1637.9" y="1894.05" width="23.0" height="6.60" fill="#d5ff22"/>
<rect x="1637.9" y="1900.35" width="23.0" height="6.60" fill="#d8ff1f"/>
<rect x="1637.9" y="1906.65" width="23.0" height="6.60" fill="#d6ff20"/>
<rect x="1637.9" y="1912.95" width="23.0" height="6.60" fill="#d5ff22"/>
<rect x="1637.9" y="1919.25" width="23.0" height="6.60" fill="#d6ff21"/>
<rect x="1637.9" y="1925.55" width="23.0" height="6.60" fill="#7cff7a"/>
<rect x="1637.9" y="1931.85" width="23.0" height="6.60" fill="#d1ff26"/>
<rect x="1637.9" y="1938.15" width="23.0" height="6.60" fill="#ffe000"/>
<rect x="1637.9" y="1944.45" width="23.0" height="6.60" fill="#edff0a"/>
<rect x="1637.9" y="1950.75" width="23.0" height="6.60" fill="#d3ff23"/>
<rect x="1637.9" y="1957.05" width="23.0" height="6.60" fill="#7bff7c"/>
<rect x="1637.9" y="1969.65" width="23.0" height="6.60" fill="#a2ff55"/>
<rect x="1637.9" y="1975.95" width="23.0" height="6.60" fill="#feee00"/>
<rect x="1637.9" y="1982.25" width="23.0" height="6.60" fill="#ffdc00"/>
<rect x="1637.9" y="1988.55" width="23.0" height="6.60" fill="#ffdb00"/>
<rect x="1637.9" y="1994.85" width="23.0" height="6.60" fill="#94ff62"/>
<rect x="1637.9" y="2001.15" width="23.0" height="6.60" fill="#7bff7c"/>
<rect x="1637.9" y="2007.45" width="23.0" height="6.60" fill="#ffe100"/>
<rect x="1637.9" y="2013.75" width="23.0" height="6.60" fill="#ffe000"/>
<rect x="1637.9" y="2020.05" width="23.0" height="6.60" fill="#ffe300"/>
<rect x="1637.9" y="2026.35" width="23.0" height="6.60" fill="#ffb600"/>
<rect x="1637.9" y="2032.65" width="23.0" height="6.60" fill="#ffc100"/>
<rect x="1660.6" y="1881.45" width="23.0" height="6.60" fill="#91ff66"/>
<rect x="1660.6" y="1887.75" width="23.0" height="6.60" fill="#d3ff23"/>
<rect x="1660.6" y="1894.05" width="23.0" height="6.60" fill="#d3ff24"/>
<rect x="1660.6" y="1900.35" width="23.0" height="6.60" fill="#bcff3b"/>
<rect x="1660.6" y="1906.65" width="23.0" height="6.60" fill="#deff19"/>
<rect x="1660.6" y="1912.95" width="23.0" height="6.60" fill="#e1ff15"/>
<rect x="1660.6" y="1919.25" width="23.0" height="6.60" fill="#dfff18"/>
<rect x="1660.6" y="1925.55" width="23.0" height="6.60" fill="#a8ff4e"/>
<rect x="1660.6" y="1931.85" width="23.0" height="6.60" fill="#e2ff15"/>
<rect x="1660.6" y="1938.15" width="23.0" height="6.60" fill="#e0ff17"/>
<rect x="1660.6" y="1944.45" width="23.0" height="6.60" fill="#e1ff16"/>
<rect x="1660.6" y="1950.75" width="23.0" height="6.60" fill="#ddff1a"/>
<rect x="1660.6" y="1957.05" width="23.0" height="6.60" fill="#a7ff50"/>
<rect x="1660.6" y="1969.65" width="23.0" height="6.60" fill="#f9f300"/>
<rect x="1660.6" y="1975.95" width="23.0" height="6.60" fill="#ffdf00"/>
<rect x="1660.6" y="1982.25" width="23.0" height="6.60" fill="#ffdb00"/>
<rect x="1660.6" y="1988.55" width="23.0" height="6.60" fill="#fdef00"/>
<rect x="1660.6" y="1994.85" width="23.0" height="6.60" fill="#fcef00"/>
<rect x="1660.6" y="2001.15" width="23.0" height="6.60" fill="#e8ff0f"/>
<rect x="1660.6" y="2007.45" width="23.0" height="6.60" fill="#d3ff24"/>
<rect x="1660.6" y="2013.75" width="23.0" height="6.60" fill="#e2ff14"/>
<rect x="1660.6" y="2020.05" width="23.0" height="6.60" fill="#ffc000"/>
<rect x="1660.6" y="2026.35" width="23.0" height="6.60" fill="#ffcd00"/>
<rect x="1660.6" y="2032.65" width="23.0" height="6.60" fill="#ffa800"/>
<rect x="1660.6" y="2038.95" width="23.0" height="6.60" fill="#ffbf00"/>
</g>
<path d="M140.5 2061.0v-7.4M140.5 1872.0v8.5M367.5 2061.0v-7.4M367.5 1872.0v8.5M594.5 2061.0v-7.4M594.5 1872.0v8.5M821.5 2061.0v-7.4M821.5 1872.0v8.5M1048.5 2061.0v-7.4M1048.5 1872.0v8.5M1276.5 2061.0v-7.4M1276.5 1872.0v8.5M1503.5 2061.0v-7.4M1503.5 1872.0v8.5M117.0 1998.5h8.5M117.0 1935.5h8.5M1683.0 1998.5h-7.4M1683.0 1935.5h-7.4" stroke="#000" stroke-width="1" fill="none" shape-rendering="crispEdges"/>
<rect x="117.0" y="1872.0" width="1566.0" height="189.0" fill="none" stroke="#000" stroke-width="2.00"/>
<text x="140.1" y="2083.3" font-size="16.86" text-anchor="middle" fill="#000" textLength="99.1" lengthAdjust="spacingAndGlyphs" >07/26 10:14</text>
<text x="367.3" y="2083.3" font-size="16.86" text-anchor="middle" fill="#000" textLength="99.1" lengthAdjust="spacingAndGlyphs" >07/26 10:24</text>
<text x="594.5" y="2083.3" font-size="16.86" text-anchor="middle" fill="#000" textLength="99.1" lengthAdjust="spacingAndGlyphs" >07/26 10:34</text>
<text x="821.7" y="2083.3" font-size="16.86" text-anchor="middle" fill="#000" textLength="99.1" lengthAdjust="spacingAndGlyphs" >07/26 10:44</text>
<text x="1048.9" y="2083.3" font-size="16.86" text-anchor="middle" fill="#000" textLength="99.1" lengthAdjust="spacingAndGlyphs" >07/26 10:54</text>
<text x="1276.1" y="2083.3" font-size="16.86" text-anchor="middle" fill="#000" textLength="99.1" lengthAdjust="spacingAndGlyphs" >07/26 11:04</text>
<text x="1503.3" y="2083.3" font-size="16.86" text-anchor="middle" fill="#000" textLength="99.1" lengthAdjust="spacingAndGlyphs" >07/26 11:14</text>
<text x="108.0" y="2065.7" font-size="16.86" text-anchor="end" fill="#000" >0</text>
<text x="108.0" y="2002.7" font-size="16.86" text-anchor="end" fill="#000" textLength="19.9" lengthAdjust="spacingAndGlyphs" >60</text>
<text x="108.0" y="1939.7" font-size="16.86" text-anchor="end" fill="#000" textLength="30.4" lengthAdjust="spacingAndGlyphs" >120</text>
<text x="108.0" y="1876.7" font-size="16.86" text-anchor="end" fill="#000" textLength="30.4" lengthAdjust="spacingAndGlyphs" >180</text>
<text x="900.0" y="1862.4" font-size="23.68" text-anchor="middle" fill="#000" textLength="670.7" lengthAdjust="spacingAndGlyphs" >Suprathermal Electrons Pitch Angle Distribution (96.71eV)</text>
<text x="60.5" y="1969.5" font-size="16.86" text-anchor="middle" fill="#000" textLength="139.9" lengthAdjust="spacingAndGlyphs" transform="rotate(-90 60.5 1969.5)" >pitch angle (deg)</text>
<defs><linearGradient id="jet" x1="0" y1="0" x2="0" y2="1"><stop offset="0.000" stop-color="#800000"/><stop offset="0.025" stop-color="#9c0000"/><stop offset="0.050" stop-color="#b90000"/><stop offset="0.075" stop-color="#d60000"/><stop offset="0.100" stop-color="#f30900"/><stop offset="0.125" stop-color="#ff2100"/><stop offset="0.150" stop-color="#ff3900"/><stop offset="0.175" stop-color="#ff5000"/><stop offset="0.200" stop-color="#ff6800"/><stop offset="0.225" stop-color="#ff8000"/><stop offset="0.250" stop-color="#ff9700"/><stop offset="0.275" stop-color="#ffaf00"/><stop offset="0.300" stop-color="#ffc600"/><stop offset="0.325" stop-color="#ffde00"/><stop offset="0.350" stop-color="#f7f600"/><stop offset="0.375" stop-color="#e2ff15"/><stop offset="0.400" stop-color="#ceff29"/><stop offset="0.425" stop-color="#b9ff3e"/><stop offset="0.450" stop-color="#a5ff52"/><stop offset="0.475" stop-color="#90ff67"/><stop offset="0.500" stop-color="#7bff7b"/><stop offset="0.525" stop-color="#67ff90"/><stop offset="0.550" stop-color="#52ffa5"/><stop offset="0.575" stop-color="#3effb9"/><stop offset="0.600" stop-color="#29ffce"/><stop offset="0.625" stop-color="#15ffe2"/><stop offset="0.650" stop-color="#00e5f7"/><stop offset="0.675" stop-color="#00ccff"/><stop offset="0.700" stop-color="#00b3ff"/><stop offset="0.725" stop-color="#0099ff"/><stop offset="0.750" stop-color="#0080ff"/><stop offset="0.775" stop-color="#0066ff"/><stop offset="0.800" stop-color="#004cff"/><stop offset="0.825" stop-color="#0033ff"/><stop offset="0.850" stop-color="#001aff"/><stop offset="0.875" stop-color="#0000ff"/><stop offset="0.900" stop-color="#0000f3"/><stop offset="0.925" stop-color="#0000d6"/><stop offset="0.950" stop-color="#0000b9"/><stop offset="0.975" stop-color="#00009c"/><stop offset="1.000" stop-color="#000080"/></linearGradient></defs>
<rect x="1691.5" y="1872.0" width="10" height="189.0" fill="url(#jet)" stroke="#000" stroke-width="1" shape-rendering="crispEdges"/>
<text x="1711.4" y="1877.6" font-size="18.5"><tspan textLength="21.5" lengthAdjust="spacingAndGlyphs">10</tspan><tspan dy="-7.5" font-size="13" textLength="17" lengthAdjust="spacingAndGlyphs">-26</tspan></text>
<text x="1711.4" y="1915.4" font-size="18.5"><tspan textLength="21.5" lengthAdjust="spacingAndGlyphs">10</tspan><tspan dy="-7.5" font-size="13" textLength="17" lengthAdjust="spacingAndGlyphs">-27</tspan></text>
<text x="1711.4" y="1953.2" font-size="18.5"><tspan textLength="21.5" lengthAdjust="spacingAndGlyphs">10</tspan><tspan dy="-7.5" font-size="13" textLength="17" lengthAdjust="spacingAndGlyphs">-28</tspan></text>
<text x="1711.4" y="1991.0" font-size="18.5"><tspan textLength="21.5" lengthAdjust="spacingAndGlyphs">10</tspan><tspan dy="-7.5" font-size="13" textLength="17" lengthAdjust="spacingAndGlyphs">-29</tspan></text>
<text x="1711.4" y="2028.8" font-size="18.5"><tspan textLength="21.5" lengthAdjust="spacingAndGlyphs">10</tspan><tspan dy="-7.5" font-size="13" textLength="17" lengthAdjust="spacingAndGlyphs">-30</tspan></text>
<text x="1711.4" y="2066.6" font-size="18.5"><tspan textLength="21.5" lengthAdjust="spacingAndGlyphs">10</tspan><tspan dy="-7.5" font-size="13" textLength="17" lengthAdjust="spacingAndGlyphs">-31</tspan></text>
<path d="M1701.5 1881.5h-3M1701.5 1890.9h-3M1701.5 1900.3h-3M1701.5 1909.8h-3M1701.5 1919.2h-3M1701.5 1928.7h-3M1701.5 1938.2h-3M1701.5 1947.6h-3M1701.5 1957.0h-3M1701.5 1966.5h-3M1701.5 1976.0h-3M1701.5 1985.4h-3M1701.5 1994.8h-3M1701.5 2004.3h-3M1701.5 2013.8h-3M1701.5 2023.2h-3M1701.5 2032.7h-3M1701.5 2042.1h-3M1701.5 2051.6h-3" stroke="#000" stroke-width="0.9" fill="none"/>
<clipPath id="ct3"><rect x="117.0" y="2156.0" width="1566.0" height="189.0"/></clipPath><g clip-path="url(#ct3)">
<polyline points="116.6,2332.7 162.3,2332.3 184.9,2327.6 230.6,2325.5 276.3,2326.8 298.9,2327.6 344.2,2327.6 389.5,2325.5 412.1,2326.8 456.9,2328.0 502.6,2328.0 525.3,2327.2 570.5,2328.5 617.2,2328.5 662.5,2327.6 685.1,2328.0 730.8,2328.0 753.5,2327.2 799.1,2327.2 821.8,2328.0 935.4,2327.2 980.6,2326.3 1049.0,2325.9 1094.2,2326.3 1116.9,2327.2 1161.0,2327.6 1206.3,2326.8 1229.3,2327.6 1274.6,2328.5 1319.9,2327.2 1388.2,2326.8 1433.5,2328.0 1456.1,2327.2 1501.8,2328.9 1547.0,2328.0 1569.7,2329.3 1615.4,2328.9 1683.3,2329.3" fill="none" stroke="#ff0000" stroke-width="2.00" stroke-linejoin="round" />
<polyline points="116.6,2176.9 162.3,2179.4 184.9,2179.0 230.6,2173.0 276.3,2177.7 298.9,2179.0 344.2,2178.1 389.5,2173.9 412.1,2182.0 456.9,2181.6 502.6,2184.1 525.3,2181.6 570.5,2183.7 617.2,2185.8 662.5,2185.8 685.1,2184.1 730.8,2187.1 753.5,2182.0 799.1,2179.9 821.8,2180.7 935.4,2176.9 980.6,2178.6 1026.3,2177.7 1049.0,2179.4 1094.2,2181.6 1116.9,2184.6 1161.0,2182.0 1206.3,2180.3 1229.3,2180.3 1274.6,2186.3 1319.9,2180.7 1342.5,2182.4 1388.2,2182.4 1433.5,2185.0 1456.1,2185.4 1501.8,2184.1 1547.0,2184.6 1569.7,2181.6 1615.4,2184.1 1683.3,2182.0" fill="none" stroke="#008000" stroke-width="2.00" stroke-linejoin="round" />
<polyline points="116.6,2196.9 162.3,2198.6 184.9,2197.4 230.6,2190.1 276.3,2194.4 298.9,2192.7 344.2,2191.4 389.5,2188.4 412.1,2194.4 456.9,2194.0 502.6,2192.2 525.3,2191.4 570.5,2192.7 662.5,2190.5 685.1,2188.4 730.8,2186.7 753.5,2195.2 821.8,2196.5 935.4,2195.2 980.6,2191.8 1026.3,2193.1 1049.0,2188.8 1094.2,2188.8 1161.0,2186.7 1206.3,2192.2 1229.3,2185.8 1274.6,2185.4 1319.9,2191.8 1342.5,2188.8 1388.2,2190.5 1433.5,2187.1 1456.1,2189.3 1501.8,2183.3 1547.0,2185.0 1569.7,2186.3 1615.4,2189.7 1683.3,2184.6" fill="none" stroke="#0000ff" stroke-width="2.00" stroke-linejoin="round" />
</g>
<path d="M140.5 2345.0v-7.4M140.5 2156.0v8.5M367.5 2345.0v-7.4M367.5 2156.0v8.5M594.5 2345.0v-7.4M594.5 2156.0v8.5M821.5 2345.0v-7.4M821.5 2156.0v8.5M1048.5 2345.0v-7.4M1048.5 2156.0v8.5M1276.5 2345.0v-7.4M1276.5 2156.0v8.5M1503.5 2345.0v-7.4M1503.5 2156.0v8.5M117.0 2318.5h8.5M117.0 2291.5h8.5M117.0 2264.5h8.5M117.0 2237.5h8.5M117.0 2210.5h8.5M117.0 2183.5h8.5M1683.0 2318.5h-7.4M1683.0 2291.5h-7.4M1683.0 2264.5h-7.4M1683.0 2237.5h-7.4M1683.0 2210.5h-7.4M1683.0 2183.5h-7.4" stroke="#000" stroke-width="1" fill="none" shape-rendering="crispEdges"/>
<rect x="117.0" y="2156.0" width="1566.0" height="189.0" fill="none" stroke="#000" stroke-width="2.00"/>
<text x="140.1" y="2367.3" font-size="16.86" text-anchor="middle" fill="#000" textLength="99.1" lengthAdjust="spacingAndGlyphs" >07/26 10:14</text>
<text x="367.3" y="2367.3" font-size="16.86" text-anchor="middle" fill="#000" textLength="99.1" lengthAdjust="spacingAndGlyphs" >07/26 10:24</text>
<text x="594.5" y="2367.3" font-size="16.86" text-anchor="middle" fill="#000" textLength="99.1" lengthAdjust="spacingAndGlyphs" >07/26 10:34</text>
<text x="821.7" y="2367.3" font-size="16.86" text-anchor="middle" fill="#000" textLength="99.1" lengthAdjust="spacingAndGlyphs" >07/26 10:44</text>
<text x="1048.9" y="2367.3" font-size="16.86" text-anchor="middle" fill="#000" textLength="99.1" lengthAdjust="spacingAndGlyphs" >07/26 10:54</text>
<text x="1276.1" y="2367.3" font-size="16.86" text-anchor="middle" fill="#000" textLength="99.1" lengthAdjust="spacingAndGlyphs" >07/26 11:04</text>
<text x="1503.3" y="2367.3" font-size="16.86" text-anchor="middle" fill="#000" textLength="99.1" lengthAdjust="spacingAndGlyphs" >07/26 11:14</text>
<text x="108.0" y="2349.7" font-size="16.86" text-anchor="end" fill="#000" textLength="44.2" lengthAdjust="spacingAndGlyphs" >−600</text>
<text x="108.0" y="2322.7" font-size="16.86" text-anchor="end" fill="#000" textLength="44.2" lengthAdjust="spacingAndGlyphs" >−500</text>
<text x="108.0" y="2295.7" font-size="16.86" text-anchor="end" fill="#000" textLength="44.2" lengthAdjust="spacingAndGlyphs" >−400</text>
<text x="108.0" y="2268.7" font-size="16.86" text-anchor="end" fill="#000" textLength="44.2" lengthAdjust="spacingAndGlyphs" >−300</text>
<text x="108.0" y="2241.7" font-size="16.86" text-anchor="end" fill="#000" textLength="44.2" lengthAdjust="spacingAndGlyphs" >−200</text>
<text x="108.0" y="2214.7" font-size="16.86" text-anchor="end" fill="#000" textLength="44.2" lengthAdjust="spacingAndGlyphs" >−100</text>
<text x="108.0" y="2187.7" font-size="16.86" text-anchor="end" fill="#000" >0</text>
<text x="108.0" y="2160.7" font-size="16.86" text-anchor="end" fill="#000" textLength="30.4" lengthAdjust="spacingAndGlyphs" >100</text>
<text x="900.0" y="2146.4" font-size="23.68" text-anchor="middle" fill="#000" textLength="372.7" lengthAdjust="spacingAndGlyphs" >Solar Wind Velocity (GSE Frame)</text>
<text x="48.2" y="2253.5" font-size="16.86" text-anchor="middle" fill="#000" textLength="84.8" lengthAdjust="spacingAndGlyphs" transform="rotate(-90 48.2 2253.5)" >Vsw(km/s)</text>
<rect x="1605.0" y="2163.0" width="71.0" height="71.0" fill="#fff" stroke="#000" stroke-width="2.00"/>
<polyline points="1614.0,2176.5 1635.5,2176.5" fill="none" stroke="#ff0000" stroke-width="2.00" stroke-linejoin="round" />
<polyline points="1614.0,2198.7 1635.5,2198.7" fill="none" stroke="#008000" stroke-width="2.00" stroke-linejoin="round" />
<polyline points="1614.0,2220.9 1635.5,2220.9" fill="none" stroke="#0000ff" stroke-width="2.00" stroke-linejoin="round" />
<text x="1651.5" y="2181.7" font-size="14.76" text-anchor="start" fill="#000" textLength="17.5" lengthAdjust="spacingAndGlyphs" >Vx</text>
<text x="1651.5" y="2203.9" font-size="14.76" text-anchor="start" fill="#000" textLength="17.1" lengthAdjust="spacingAndGlyphs" >Vy</text>
<text x="1651.5" y="2226.1" font-size="14.76" text-anchor="start" fill="#000" textLength="16.5" lengthAdjust="spacingAndGlyphs" >Vz</text>
<clipPath id="ct4"><rect x="117.0" y="2439.0" width="1566.0" height="189.0"/></clipPath><g clip-path="url(#ct4)">
<polyline points="116.6,2591.0 140.1,2590.5 162.3,2588.4 184.9,2587.1 208.0,2590.5 230.6,2588.8 253.2,2591.4 276.3,2594.4 298.9,2591.4 321.6,2591.8 344.2,2592.7 366.4,2594.4 389.5,2596.5 412.1,2585.4 434.3,2585.0 456.9,2589.3 480.4,2592.2 502.6,2593.1 525.3,2588.0 547.9,2588.4 570.5,2588.4 594.6,2588.4 617.2,2588.0 639.9,2591.8 662.5,2592.7 685.1,2597.4 708.2,2596.5 730.8,2595.2 753.5,2590.1 776.1,2594.8 799.1,2594.4 821.8,2596.9 844.4,2596.5 867.0,2596.1 889.7,2596.5 912.7,2595.7 935.4,2594.0 958.0,2596.5 980.6,2597.8 1003.3,2600.4 1026.3,2602.9 1049.0,2604.6 1071.6,2604.2 1139.9,2601.6 1161.0,2599.1 1183.6,2598.2 1206.3,2599.5 1229.3,2597.8 1252.0,2595.2 1274.6,2591.0 1297.2,2595.7 1319.9,2594.8 1342.5,2605.9 1365.6,2602.9 1388.2,2599.9 1410.8,2598.2 1433.5,2595.7 1456.1,2602.5 1479.1,2594.0 1501.8,2584.1 1524.4,2581.1 1547.0,2577.3 1569.7,2578.6 1592.3,2576.9 1615.4,2570.9 1638.0,2568.8 1660.6,2576.0 1683.3,2582.4" fill="none" stroke="#0000ff" stroke-width="2.00" stroke-linejoin="round" />
<polyline points="116.6,2553.8 140.1,2555.1 162.3,2554.7 184.9,2548.7 208.0,2553.8 230.6,2550.8 253.2,2552.1 276.3,2555.5 298.9,2549.1 321.6,2551.2 344.2,2554.2 366.4,2554.2 389.5,2552.5 412.1,2542.3 434.3,2538.9 456.9,2545.7 480.4,2550.8 502.6,2552.5 525.3,2545.7 547.9,2546.5 570.5,2546.5 594.6,2547.0 617.2,2546.5 639.9,2552.1 662.5,2553.4 685.1,2555.1 708.2,2553.8 730.8,2551.7 753.5,2545.3 776.1,2557.2 799.1,2557.2 821.8,2559.8 844.4,2559.4 867.0,2558.1 889.7,2559.8 912.7,2557.7 935.4,2554.7 958.0,2560.2 980.6,2562.8 1003.3,2565.8 1026.3,2569.2 1049.0,2569.2 1071.6,2568.8 1139.9,2567.5 1161.0,2561.1 1183.6,2561.5 1206.3,2564.9 1229.3,2563.6 1252.0,2558.9 1274.6,2553.0 1297.2,2560.2 1319.9,2558.5 1342.5,2570.9 1365.6,2567.9 1388.2,2565.3 1410.8,2562.8 1433.5,2558.9 1456.1,2565.3 1479.1,2557.2 1501.8,2547.4 1524.4,2544.4 1547.0,2539.3 1569.7,2541.0 1592.3,2537.6 1615.4,2527.3 1638.0,2522.2 1660.6,2533.3 1683.3,2543.6" fill="none" stroke="#008000" stroke-width="2.00" stroke-linejoin="round" />
</g>
<path d="M140.5 2628.0v-7.4M140.5 2439.0v8.5M367.5 2628.0v-7.4M367.5 2439.0v8.5M594.5 2628.0v-7.4M594.5 2439.0v8.5M821.5 2628.0v-7.4M821.5 2439.0v8.5M1048.5 2628.0v-7.4M1048.5 2439.0v8.5M1276.5 2628.0v-7.4M1276.5 2439.0v8.5M1503.5 2628.0v-7.4M1503.5 2439.0v8.5M117.0 2590.5h8.5M117.0 2552.5h8.5M117.0 2514.5h8.5M117.0 2476.5h8.5M1683.0 2590.5h-7.4M1683.0 2552.5h-7.4M1683.0 2514.5h-7.4M1683.0 2476.5h-7.4" stroke="#000" stroke-width="1" fill="none" shape-rendering="crispEdges"/>
<rect x="117.0" y="2439.0" width="1566.0" height="189.0" fill="none" stroke="#000" stroke-width="2.00"/>
<text x="140.1" y="2650.3" font-size="16.86" text-anchor="middle" fill="#000" textLength="99.1" lengthAdjust="spacingAndGlyphs" >07/26 10:14</text>
<text x="367.3" y="2650.3" font-size="16.86" text-anchor="middle" fill="#000" textLength="99.1" lengthAdjust="spacingAndGlyphs" >07/26 10:24</text>
<text x="594.5" y="2650.3" font-size="16.86" text-anchor="middle" fill="#000" textLength="99.1" lengthAdjust="spacingAndGlyphs" >07/26 10:34</text>
<text x="821.7" y="2650.3" font-size="16.86" text-anchor="middle" fill="#000" textLength="99.1" lengthAdjust="spacingAndGlyphs" >07/26 10:44</text>
<text x="1048.9" y="2650.3" font-size="16.86" text-anchor="middle" fill="#000" textLength="99.1" lengthAdjust="spacingAndGlyphs" >07/26 10:54</text>
<text x="1276.1" y="2650.3" font-size="16.86" text-anchor="middle" fill="#000" textLength="99.1" lengthAdjust="spacingAndGlyphs" >07/26 11:04</text>
<text x="1503.3" y="2650.3" font-size="16.86" text-anchor="middle" fill="#000" textLength="99.1" lengthAdjust="spacingAndGlyphs" >07/26 11:14</text>
<text x="108.0" y="2632.7" font-size="16.86" text-anchor="end" fill="#000" >0</text>
<text x="108.0" y="2594.9" font-size="16.86" text-anchor="end" fill="#000" >1</text>
<text x="108.0" y="2557.1" font-size="16.86" text-anchor="end" fill="#000" >2</text>
<text x="108.0" y="2519.3" font-size="16.86" text-anchor="end" fill="#000" >3</text>
<text x="108.0" y="2481.5" font-size="16.86" text-anchor="end" fill="#000" >4</text>
<text x="108.0" y="2443.7" font-size="16.86" text-anchor="end" fill="#000" >5</text>
<text x="900.0" y="2429.4" font-size="23.68" text-anchor="middle" fill="#000" textLength="142.4" lengthAdjust="spacingAndGlyphs" >Plasma Beta</text>
<text x="78" y="2533.5" font-size="16.45" text-anchor="middle" transform="rotate(-90 78 2533.5)"><tspan font-style="italic" fill="#444" font-family="Liberation Serif, serif">β</tspan><tspan dy="4" font-size="11.5" font-style="italic" fill="#444" font-family="Liberation Serif, serif">p</tspan><tspan dy="-4" textLength="41.4" lengthAdjust="spacingAndGlyphs"> and </tspan><tspan font-style="italic" fill="#444" font-family="Liberation Serif, serif">β</tspan></text>
<rect x="1608.0" y="2446.0" width="68.0" height="57.0" fill="#fff" stroke="#000" stroke-width="2.00"/>
<polyline points="1617.5,2460.8 1639.7,2460.8" fill="none" stroke="#0000ff" stroke-width="2.00" stroke-linejoin="round" />
<polyline points="1617.5,2487.7 1639.7,2487.7" fill="none" stroke="#008000" stroke-width="2.00" stroke-linejoin="round" />
<text x="1656.5" y="2464.5" font-size="15" font-style="italic" fill="#333" font-family="Liberation Serif, serif">β<tspan dy="3.5" font-size="10.5">p</tspan></text>
<text x="1656.5" y="2491.5" font-size="15" font-style="italic" fill="#333" font-family="Liberation Serif, serif">β</text>
<clipPath id="ct5"><rect x="117.0" y="2723.0" width="1566.0" height="189.0"/></clipPath><g clip-path="url(#ct5)">
<polyline points="116.6,2878.4 162.1,2879.1 185.8,2876.5 275.4,2875.9 297.9,2873.3 344.0,2875.9 411.9,2873.3 457.4,2870.7 502.8,2870.1 570.1,2870.1 616.9,2872.0 661.7,2874.6 684.1,2870.7 730.2,2874.6 752.7,2875.9 797.5,2874.6 819.9,2873.3 890.4,2872.7 934.9,2872.0 979.8,2873.3 1025.3,2874.6 1047.7,2872.7 1093.2,2874.0 1116.2,2875.9 1205.9,2876.5 1274.4,2874.6 1319.9,2873.3 1342.3,2875.9 1387.8,2875.9 1455.7,2873.3 1500.6,2874.6 1546.7,2872.7 1569.8,2873.3 1614.6,2866.3 1637.0,2863.1 1682.5,2872.0" fill="none" stroke="#0000ff" stroke-width="2.00" stroke-linejoin="round" />
</g>
<path d="M140.5 2912.0v-7.4M140.5 2723.0v8.5M367.5 2912.0v-7.4M367.5 2723.0v8.5M594.5 2912.0v-7.4M594.5 2723.0v8.5M821.5 2912.0v-7.4M821.5 2723.0v8.5M1048.5 2912.0v-7.4M1048.5 2723.0v8.5M1276.5 2912.0v-7.4M1276.5 2723.0v8.5M1503.5 2912.0v-7.4M1503.5 2723.0v8.5M117.0 2880.5h8.5M117.0 2849.5h8.5M117.0 2817.5h8.5M117.0 2786.5h8.5M117.0 2754.5h8.5M1683.0 2880.5h-7.4M1683.0 2849.5h-7.4M1683.0 2817.5h-7.4M1683.0 2786.5h-7.4M1683.0 2754.5h-7.4" stroke="#000" stroke-width="1" fill="none" shape-rendering="crispEdges"/>
<rect x="117.0" y="2723.0" width="1566.0" height="189.0" fill="none" stroke="#000" stroke-width="2.00"/>
<text x="140.1" y="2934.3" font-size="16.86" text-anchor="middle" fill="#000" textLength="99.1" lengthAdjust="spacingAndGlyphs" >07/26 10:14</text>
<text x="367.3" y="2934.3" font-size="16.86" text-anchor="middle" fill="#000" textLength="99.1" lengthAdjust="spacingAndGlyphs" >07/26 10:24</text>
<text x="594.5" y="2934.3" font-size="16.86" text-anchor="middle" fill="#000" textLength="99.1" lengthAdjust="spacingAndGlyphs" >07/26 10:34</text>
<text x="821.7" y="2934.3" font-size="16.86" text-anchor="middle" fill="#000" textLength="99.1" lengthAdjust="spacingAndGlyphs" >07/26 10:44</text>
<text x="1048.9" y="2934.3" font-size="16.86" text-anchor="middle" fill="#000" textLength="99.1" lengthAdjust="spacingAndGlyphs" >07/26 10:54</text>
<text x="1276.1" y="2934.3" font-size="16.86" text-anchor="middle" fill="#000" textLength="99.1" lengthAdjust="spacingAndGlyphs" >07/26 11:04</text>
<text x="1503.3" y="2934.3" font-size="16.86" text-anchor="middle" fill="#000" textLength="99.1" lengthAdjust="spacingAndGlyphs" >07/26 11:14</text>
<text x="108.0" y="2916.7" font-size="16.86" text-anchor="end" fill="#000" >0</text>
<text x="108.0" y="2885.2" font-size="16.86" text-anchor="end" fill="#000" >5</text>
<text x="108.0" y="2853.7" font-size="16.86" text-anchor="end" fill="#000" textLength="19.9" lengthAdjust="spacingAndGlyphs" >10</text>
<text x="108.0" y="2822.2" font-size="16.86" text-anchor="end" fill="#000" textLength="19.9" lengthAdjust="spacingAndGlyphs" >15</text>
<text x="108.0" y="2790.7" font-size="16.86" text-anchor="end" fill="#000" textLength="19.9" lengthAdjust="spacingAndGlyphs" >20</text>
<text x="108.0" y="2759.2" font-size="16.86" text-anchor="end" fill="#000" textLength="19.9" lengthAdjust="spacingAndGlyphs" >25</text>
<text x="108.0" y="2727.7" font-size="16.86" text-anchor="end" fill="#000" textLength="19.9" lengthAdjust="spacingAndGlyphs" >30</text>
<text x="900.0" y="2713.4" font-size="23.68" text-anchor="middle" fill="#000" textLength="268.4" lengthAdjust="spacingAndGlyphs" >Proton Number Density</text>
<text x="74.7" y="2820.5" font-size="16.86" text-anchor="middle" fill="#000" textLength="72.0" lengthAdjust="spacingAndGlyphs" transform="rotate(-90 74.7 2820.5)" >Np(#/cc)</text>
<clipPath id="ct6"><rect x="117.0" y="3006.0" width="1566.0" height="189.0"/></clipPath><g clip-path="url(#ct6)">
<polyline points="116.6,3121.1 162.3,3109.5 184.9,3115.9 230.6,3118.5 276.3,3130.0 298.9,3129.6 344.2,3126.6 389.5,3140.3 412.1,3120.2 456.9,3130.0 502.6,3129.6 525.3,3124.9 570.5,3122.8 617.2,3121.5 662.5,3124.5 685.1,3139.0 730.8,3137.3 753.5,3128.8 799.1,3125.8 821.8,3129.2 935.4,3129.6 980.6,3131.7 1026.3,3138.1 1049.0,3144.6 1094.2,3140.7 1116.9,3137.3 1206.1,3130.7 1274.4,3119.6 1319.9,3127.3 1342.6,3147.1 1387.6,3133.1 1433.6,3127.8 1456.4,3142.3 1478.6,3123.9 1501.4,3103.6 1546.9,3092.5 1614.6,3093.9 1682.4,3102.6" fill="none" stroke="#0000ff" stroke-width="2.00" stroke-linejoin="round" />
<polyline points="116.6,3156.1 140.1,3157.8 162.3,3162.5 184.9,3159.5 208.0,3157.8 230.6,3157.4 276.3,3150.5 298.9,3150.5 344.2,3153.5 366.4,3148.4 389.5,3141.6 412.1,3156.1 456.9,3151.0 480.4,3150.1 502.6,3149.7 525.3,3154.4 547.9,3154.4 592.7,3154.8 617.2,3155.7 639.9,3153.1 662.5,3152.2 685.1,3142.4 708.2,3142.4 730.8,3144.6 753.5,3149.7 799.1,3153.1 821.8,3149.7 912.7,3149.7 958.0,3150.5 980.6,3149.7 1026.3,3144.1 1049.0,3138.1 1071.6,3139.0 1094.2,3141.1 1116.9,3143.7 1139.9,3145.4 1161.1,3145.7 1183.9,3148.1 1206.1,3149.1 1228.9,3151.5 1274.4,3155.9 1297.1,3153.9 1319.9,3153.0 1342.6,3135.5 1365.4,3141.8 1387.6,3148.1 1410.4,3149.6 1433.6,3152.0 1456.4,3139.4 1478.6,3153.4 1501.4,3162.6 1524.1,3165.1 1546.9,3166.5 1591.9,3165.5 1614.6,3166.0 1659.6,3164.1 1682.4,3162.6" fill="none" stroke="#ff0000" stroke-width="2.00" stroke-linejoin="round" />
</g>
<path d="M140.5 3195.0v-7.4M140.5 3006.0v8.5M367.5 3195.0v-7.4M367.5 3006.0v8.5M594.5 3195.0v-7.4M594.5 3006.0v8.5M821.5 3195.0v-7.4M821.5 3006.0v8.5M1048.5 3195.0v-7.4M1048.5 3006.0v8.5M1276.5 3195.0v-7.4M1276.5 3006.0v8.5M1503.5 3195.0v-7.4M1503.5 3006.0v8.5M117.0 3157.5h8.5M117.0 3119.5h8.5M117.0 3081.5h8.5M117.0 3043.5h8.5M1683.0 3157.5h-7.4M1683.0 3119.5h-7.4M1683.0 3081.5h-7.4M1683.0 3043.5h-7.4" stroke="#000" stroke-width="1" fill="none" shape-rendering="crispEdges"/>
<rect x="117.0" y="3006.0" width="1566.0" height="189.0" fill="none" stroke="#000" stroke-width="2.00"/>
<text x="140.1" y="3217.3" font-size="16.86" text-anchor="middle" fill="#000" textLength="99.1" lengthAdjust="spacingAndGlyphs" >07/26 10:14</text>
<text x="367.3" y="3217.3" font-size="16.86" text-anchor="middle" fill="#000" textLength="99.1" lengthAdjust="spacingAndGlyphs" >07/26 10:24</text>
<text x="594.5" y="3217.3" font-size="16.86" text-anchor="middle" fill="#000" textLength="99.1" lengthAdjust="spacingAndGlyphs" >07/26 10:34</text>
<text x="821.7" y="3217.3" font-size="16.86" text-anchor="middle" fill="#000" textLength="99.1" lengthAdjust="spacingAndGlyphs" >07/26 10:44</text>
<text x="1048.9" y="3217.3" font-size="16.86" text-anchor="middle" fill="#000" textLength="99.1" lengthAdjust="spacingAndGlyphs" >07/26 10:54</text>
<text x="1276.1" y="3217.3" font-size="16.86" text-anchor="middle" fill="#000" textLength="99.1" lengthAdjust="spacingAndGlyphs" >07/26 11:04</text>
<text x="1503.3" y="3217.3" font-size="16.86" text-anchor="middle" fill="#000" textLength="99.1" lengthAdjust="spacingAndGlyphs" >07/26 11:14</text>
<text x="108.0" y="3199.7" font-size="16.86" text-anchor="end" fill="#000" textLength="25.2" lengthAdjust="spacingAndGlyphs" >0.0</text>
<text x="108.0" y="3161.9" font-size="16.86" text-anchor="end" fill="#000" textLength="25.2" lengthAdjust="spacingAndGlyphs" >0.1</text>
<text x="108.0" y="3124.1" font-size="16.86" text-anchor="end" fill="#000" textLength="25.2" lengthAdjust="spacingAndGlyphs" >0.2</text>
<text x="108.0" y="3086.3" font-size="16.86" text-anchor="end" fill="#000" textLength="25.2" lengthAdjust="spacingAndGlyphs" >0.3</text>
<text x="108.0" y="3048.5" font-size="16.86" text-anchor="end" fill="#000" textLength="25.2" lengthAdjust="spacingAndGlyphs" >0.4</text>
<text x="108.0" y="3010.7" font-size="16.86" text-anchor="end" fill="#000" textLength="25.2" lengthAdjust="spacingAndGlyphs" >0.5</text>
<text x="900.0" y="2996.4" font-size="23.68" text-anchor="middle" fill="#000" ></text>
<text x="727.5" y="2996.4" font-size="23.10"><tspan textLength="286.3" lengthAdjust="spacingAndGlyphs">Proton Temperature and </tspan><tspan dx="3" font-style="italic" fill="#222" font-family="Liberation Serif, serif" font-size="26">T</tspan><tspan dy="5" font-size="18" font-style="italic" font-family="Liberation Serif, serif">e</tspan><tspan dy="-5" dx="1" font-size="26" font-family="Liberation Serif, serif">/</tspan><tspan dx="1" font-style="italic" fill="#222" font-family="Liberation Serif, serif" font-size="26">T</tspan><tspan dy="5" font-size="18" font-style="italic" font-family="Liberation Serif, serif">p</tspan></text>
<text x="63.1" y="3103.5" font-size="16.45" text-anchor="middle" transform="rotate(-90 63.1 3103.5)"><tspan textLength="26.9" lengthAdjust="spacingAndGlyphs">Tp(</tspan><tspan font-family="Liberation Serif, serif" font-size="15.5">10</tspan><tspan font-family="Liberation Serif, serif" font-size="11" dy="-6">6</tspan><tspan dy="6" textLength="17.2" lengthAdjust="spacingAndGlyphs">K)</tspan></text>
<rect x="124.0" y="3013.0" width="71.0" height="27.0" fill="#fff" stroke="#000" stroke-width="2.00"/>
<polyline points="134.1,3026.7 155.9,3026.7" fill="none" stroke="#0000ff" stroke-width="2.00" stroke-linejoin="round" />
<text x="171.2" y="3030.8" font-size="14.76" text-anchor="start" fill="#000" textLength="17.1" lengthAdjust="spacingAndGlyphs" >Tp</text>
<rect x="1586.0" y="3013.0" width="90.0" height="31.0" fill="#fff" stroke="#000" stroke-width="2.00"/>
<polyline points="1595.7,3028.5 1618.5,3028.5" fill="none" stroke="#ff0000" stroke-width="2.00" stroke-linejoin="round" />
<text x="1634" y="3032.5" font-size="15" font-style="italic" fill="#222" font-family="Liberation Serif, serif">T<tspan dy="3.5" font-size="10.5">e</tspan><tspan dy="-3.5" font-style="normal">/</tspan>T<tspan dy="3.5" font-size="10.5">p</tspan></text>
<text x="1692.3" y="3201.0" font-size="16.86" text-anchor="start" fill="#ff0000" >0</text>
<text x="1692.3" y="3163.2" font-size="16.86" text-anchor="start" fill="#ff0000" >1</text>
<text x="1692.3" y="3125.4" font-size="16.86" text-anchor="start" fill="#ff0000" >2</text>
<text x="1692.3" y="3087.6" font-size="16.86" text-anchor="start" fill="#ff0000" >3</text>
<text x="1692.3" y="3049.8" font-size="16.86" text-anchor="start" fill="#ff0000" >4</text>
<text x="1692.3" y="3012.0" font-size="16.86" text-anchor="start" fill="#ff0000" >5</text>
<text x="1726" y="3103.0" font-size="19.5" text-anchor="middle" font-style="italic" fill="#ff0000" font-family="Liberation Serif, serif" transform="rotate(-90 1726 3103.0)">T<tspan dy="4" font-size="13.5">e</tspan><tspan dy="-4" font-style="normal">/</tspan>T<tspan dy="4" font-size="13.5">p</tspan></text></svg>
</body></html>
